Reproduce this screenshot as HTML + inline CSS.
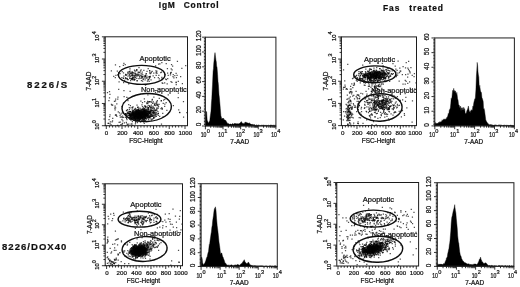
<!DOCTYPE html>
<html lang="en"><head><meta charset="utf-8"><title>7-AAD apoptosis flow cytometry: IgM control vs Fas treated</title>
<style>html,body{margin:0;padding:0;background:#fff}body{width:520px;height:287px;overflow:hidden}svg{display:block}text{font-family:'Liberation Sans', Arial, Helvetica, sans-serif;fill:#111;stroke:#111;stroke-width:0.22px}</style></head><body>
<svg width="520" height="287" viewBox="0 0 520 287">
<defs><filter id="soft" x="0" y="0" width="520" height="287" filterUnits="userSpaceOnUse"><feGaussianBlur stdDeviation="0.38"/></filter></defs>
<rect width="520" height="287" fill="#fff"/>
<g filter="url(#soft)">
<g font-weight="bold" fill="#000">
<text y="7.5" font-size="8.4" letter-spacing="0.87"><tspan x="158.7">IgM</tspan> <tspan x="183.7">Control</tspan></text>
<text y="10.8" font-size="8.4" letter-spacing="0.97"><tspan x="383">Fas</tspan> <tspan x="409.2">treated</tspan></text>
<text x="27" y="87.5" font-size="9.6" letter-spacing="1.95">8226/S</text>
<text x="2" y="250" font-size="9.5" letter-spacing="1.05">8226/DOX40</text>
</g>
<path d="M132.11 115.63h1.25v1.25h-1.25zM143.1 115.1h1.25v1.25h-1.25zM139.57 114.52h1.25v1.25h-1.25zM130.9 114.34h1.25v1.25h-1.25zM137.48 115.97h1.25v1.25h-1.25zM142.9 113.93h1.25v1.25h-1.25zM143.45 115.06h1.25v1.25h-1.25zM133.16 113.61h1.25v1.25h-1.25zM149.03 112.68h1.25v1.25h-1.25zM140.14 116.01h1.25v1.25h-1.25zM134.81 116.48h1.25v1.25h-1.25zM139.12 115.82h1.25v1.25h-1.25zM153.26 114.75h1.25v1.25h-1.25zM142.77 114.69h1.25v1.25h-1.25zM137.13 114.63h1.25v1.25h-1.25zM136.06 111.31h1.25v1.25h-1.25zM129.88 115.29h1.25v1.25h-1.25zM142.02 108.63h1.25v1.25h-1.25zM134.93 112.75h1.25v1.25h-1.25zM138.07 110.97h1.25v1.25h-1.25zM136.68 111.58h1.25v1.25h-1.25zM145.79 111.67h1.25v1.25h-1.25zM142.97 112.24h1.25v1.25h-1.25zM138.52 115.74h1.25v1.25h-1.25zM145.18 113.46h1.25v1.25h-1.25zM142.06 114.15h1.25v1.25h-1.25zM133.13 111.95h1.25v1.25h-1.25zM138.1 112.73h1.25v1.25h-1.25zM140.98 113.47h1.25v1.25h-1.25zM146.16 110.62h1.25v1.25h-1.25zM142.15 119.21h1.25v1.25h-1.25zM144.41 115.16h1.25v1.25h-1.25zM134.17 118.34h1.25v1.25h-1.25zM141.27 113.71h1.25v1.25h-1.25zM137.05 116.61h1.25v1.25h-1.25zM132.4 114h1.25v1.25h-1.25zM138.18 113.39h1.25v1.25h-1.25zM143.56 108.95h1.25v1.25h-1.25zM140.52 115.78h1.25v1.25h-1.25zM139.1 115.86h1.25v1.25h-1.25zM134.33 112.17h1.25v1.25h-1.25zM134.25 119.74h1.25v1.25h-1.25zM141.78 111.72h1.25v1.25h-1.25zM141.74 113.76h1.25v1.25h-1.25zM132.45 113.7h1.25v1.25h-1.25zM152.11 115.62h1.25v1.25h-1.25zM135.36 109.85h1.25v1.25h-1.25zM146.82 110.85h1.25v1.25h-1.25zM138.73 119.73h1.25v1.25h-1.25zM139.38 111.63h1.25v1.25h-1.25zM140.95 120.06h1.25v1.25h-1.25zM135.81 110.38h1.25v1.25h-1.25zM137.22 115.13h1.25v1.25h-1.25zM139.76 113.22h1.25v1.25h-1.25zM137.45 113.75h1.25v1.25h-1.25zM137.38 118.2h1.25v1.25h-1.25zM138.93 113.4h1.25v1.25h-1.25zM125.7 114.27h1.25v1.25h-1.25zM139.59 114.94h1.25v1.25h-1.25zM140.01 111.09h1.25v1.25h-1.25zM136.24 115.94h1.25v1.25h-1.25zM148.9 110.91h1.25v1.25h-1.25zM146.45 115.62h1.25v1.25h-1.25zM141.6 114.59h1.25v1.25h-1.25zM128.83 108.71h1.25v1.25h-1.25zM141.12 114.55h1.25v1.25h-1.25zM143.29 114.95h1.25v1.25h-1.25zM136.91 111.2h1.25v1.25h-1.25zM149.92 111.31h1.25v1.25h-1.25zM140.86 111.08h1.25v1.25h-1.25zM131.86 113.81h1.25v1.25h-1.25zM137.64 108.95h1.25v1.25h-1.25zM129.38 114.3h1.25v1.25h-1.25zM143.94 112.54h1.25v1.25h-1.25zM130.11 114.23h1.25v1.25h-1.25zM140.87 116.6h1.25v1.25h-1.25zM144.9 114.85h1.25v1.25h-1.25zM135.58 113.44h1.25v1.25h-1.25zM138.58 119.46h1.25v1.25h-1.25zM140.62 111.74h1.25v1.25h-1.25zM132.2 117.91h1.25v1.25h-1.25zM126.88 109.05h1.25v1.25h-1.25zM142.99 114.91h1.25v1.25h-1.25zM140.27 111.59h1.25v1.25h-1.25zM137.29 116.32h1.25v1.25h-1.25zM124.69 116.76h1.25v1.25h-1.25zM156.58 113.48h1.25v1.25h-1.25zM132.59 116.98h1.25v1.25h-1.25zM140.09 113.15h1.25v1.25h-1.25zM142.51 114.92h1.25v1.25h-1.25zM139.79 109.52h1.25v1.25h-1.25zM134.63 111.6h1.25v1.25h-1.25zM142.34 110.9h1.25v1.25h-1.25zM145.81 113.47h1.25v1.25h-1.25zM131.08 112.96h1.25v1.25h-1.25zM131.92 113.83h1.25v1.25h-1.25zM136.45 119.57h1.25v1.25h-1.25zM152.39 112.78h1.25v1.25h-1.25zM141.18 116.72h1.25v1.25h-1.25zM137.97 113.73h1.25v1.25h-1.25zM139.19 110.01h1.25v1.25h-1.25zM132.12 114.18h1.25v1.25h-1.25zM138.91 112.07h1.25v1.25h-1.25zM134.83 114.19h1.25v1.25h-1.25zM130.09 116.97h1.25v1.25h-1.25zM139.18 114.16h1.25v1.25h-1.25zM137.48 113.91h1.25v1.25h-1.25zM135.76 119.87h1.25v1.25h-1.25zM141.62 117.4h1.25v1.25h-1.25zM138.21 112.94h1.25v1.25h-1.25zM140.87 115.74h1.25v1.25h-1.25zM146.44 112.03h1.25v1.25h-1.25zM135.15 113.27h1.25v1.25h-1.25zM144.06 118.77h1.25v1.25h-1.25zM131.23 113.5h1.25v1.25h-1.25zM142.32 113.5h1.25v1.25h-1.25zM139.78 117.04h1.25v1.25h-1.25zM140.48 115.4h1.25v1.25h-1.25zM132.45 113.34h1.25v1.25h-1.25zM138.53 117.56h1.25v1.25h-1.25zM144.49 114.78h1.25v1.25h-1.25zM130.05 115.97h1.25v1.25h-1.25zM157.64 114.68h1.25v1.25h-1.25zM135.73 116.14h1.25v1.25h-1.25zM143.83 111.34h1.25v1.25h-1.25zM142.11 116.88h1.25v1.25h-1.25zM141.41 112.74h1.25v1.25h-1.25zM129.16 118.43h1.25v1.25h-1.25zM139.94 113.85h1.25v1.25h-1.25zM135.78 115.57h1.25v1.25h-1.25zM137.68 112.42h1.25v1.25h-1.25zM141.62 112.68h1.25v1.25h-1.25zM143.71 113.55h1.25v1.25h-1.25zM137.28 113.52h1.25v1.25h-1.25zM133.83 116.2h1.25v1.25h-1.25zM136.62 111.33h1.25v1.25h-1.25zM133.41 113.14h1.25v1.25h-1.25zM141.69 116.61h1.25v1.25h-1.25zM134.1 115.92h1.25v1.25h-1.25zM137.22 116.54h1.25v1.25h-1.25zM135.77 115.57h1.25v1.25h-1.25zM132.53 118.94h1.25v1.25h-1.25zM131.7 114.9h1.25v1.25h-1.25zM136.05 114.29h1.25v1.25h-1.25zM145.25 118.05h1.25v1.25h-1.25zM137.77 112.11h1.25v1.25h-1.25zM143.71 109.94h1.25v1.25h-1.25zM141.98 113.74h1.25v1.25h-1.25zM140.27 114.61h1.25v1.25h-1.25zM135.68 115.97h1.25v1.25h-1.25zM136.33 111.43h1.25v1.25h-1.25zM138.53 114.67h1.25v1.25h-1.25zM140.99 114.35h1.25v1.25h-1.25zM133.16 114.86h1.25v1.25h-1.25zM150.63 107.33h1.25v1.25h-1.25zM133.21 117.85h1.25v1.25h-1.25zM141.16 110.11h1.25v1.25h-1.25zM137.67 112.46h1.25v1.25h-1.25zM133.84 117.25h1.25v1.25h-1.25zM138.48 111.09h1.25v1.25h-1.25zM134.97 115.74h1.25v1.25h-1.25zM125.99 117.84h1.25v1.25h-1.25zM141.32 116.19h1.25v1.25h-1.25zM143.77 111.1h1.25v1.25h-1.25zM136.01 115.61h1.25v1.25h-1.25zM141.93 113.4h1.25v1.25h-1.25zM151.46 118.77h1.25v1.25h-1.25zM141.08 114.02h1.25v1.25h-1.25zM137.73 117.83h1.25v1.25h-1.25zM127.12 113.37h1.25v1.25h-1.25zM141.74 115.08h1.25v1.25h-1.25zM145.35 110.93h1.25v1.25h-1.25zM131.85 112.37h1.25v1.25h-1.25zM136.74 115.65h1.25v1.25h-1.25zM129.77 116.96h1.25v1.25h-1.25zM136.84 119.32h1.25v1.25h-1.25zM137.06 114.63h1.25v1.25h-1.25zM136.48 115.08h1.25v1.25h-1.25zM149.04 116.62h1.25v1.25h-1.25zM147 114.16h1.25v1.25h-1.25zM144.69 113.69h1.25v1.25h-1.25zM142.95 121.36h1.25v1.25h-1.25zM132.1 111.8h1.25v1.25h-1.25zM150.24 111.59h1.25v1.25h-1.25zM144.38 116.11h1.25v1.25h-1.25zM140.45 116.79h1.25v1.25h-1.25zM132.62 116.56h1.25v1.25h-1.25zM143.06 116.48h1.25v1.25h-1.25zM142.96 114.84h1.25v1.25h-1.25zM126.69 115.03h1.25v1.25h-1.25zM133.44 115.75h1.25v1.25h-1.25zM135.68 116h1.25v1.25h-1.25zM126.7 111.53h1.25v1.25h-1.25zM129.5 114.44h1.25v1.25h-1.25zM137.34 118h1.25v1.25h-1.25zM148.15 115.05h1.25v1.25h-1.25zM141.15 112.53h1.25v1.25h-1.25zM141.6 109.12h1.25v1.25h-1.25zM135.81 109.51h1.25v1.25h-1.25zM125.18 113.39h1.25v1.25h-1.25zM128.41 114.73h1.25v1.25h-1.25zM146.66 114.84h1.25v1.25h-1.25zM149.83 111.11h1.25v1.25h-1.25zM132.39 117.97h1.25v1.25h-1.25zM141.85 110.93h1.25v1.25h-1.25zM156.18 108.73h1.25v1.25h-1.25zM142.44 107.75h1.25v1.25h-1.25zM140.6 109.98h1.25v1.25h-1.25zM141.37 115.64h1.25v1.25h-1.25zM140.27 108.37h1.25v1.25h-1.25zM143.56 116.35h1.25v1.25h-1.25zM159.05 115.72h1.25v1.25h-1.25zM144.07 111.38h1.25v1.25h-1.25zM138.43 112.91h1.25v1.25h-1.25zM138.42 113.23h1.25v1.25h-1.25zM164.06 105.78h1.25v1.25h-1.25zM132.22 110.71h1.25v1.25h-1.25zM144.26 112.42h1.25v1.25h-1.25zM147.33 102.33h1.25v1.25h-1.25zM133.98 113.19h1.25v1.25h-1.25zM143.24 109.23h1.25v1.25h-1.25zM139.89 115.98h1.25v1.25h-1.25zM119.6 121.39h1.25v1.25h-1.25zM134.47 119.12h1.25v1.25h-1.25zM139.74 113.83h1.25v1.25h-1.25zM151.49 115.74h1.25v1.25h-1.25zM139.05 114.34h1.25v1.25h-1.25zM150.24 114.54h1.25v1.25h-1.25zM137.29 118.99h1.25v1.25h-1.25zM130.44 115.46h1.25v1.25h-1.25zM147.13 112.57h1.25v1.25h-1.25zM136.55 113.87h1.25v1.25h-1.25zM139 116.14h1.25v1.25h-1.25zM157.67 107.61h1.25v1.25h-1.25zM137.34 112.19h1.25v1.25h-1.25zM133.29 113.51h1.25v1.25h-1.25zM129.4 114.96h1.25v1.25h-1.25zM142.52 120.37h1.25v1.25h-1.25zM133.83 113.68h1.25v1.25h-1.25zM137.24 106.84h1.25v1.25h-1.25zM134.02 119.09h1.25v1.25h-1.25zM147 109.63h1.25v1.25h-1.25zM158.65 97.64h1.25v1.25h-1.25zM156.04 103.22h1.25v1.25h-1.25zM156.96 107.51h1.25v1.25h-1.25zM162.98 99.6h1.25v1.25h-1.25zM151.14 101.49h1.25v1.25h-1.25zM160.76 100.02h1.25v1.25h-1.25zM151.52 99.53h1.25v1.25h-1.25zM151.92 102.79h1.25v1.25h-1.25zM149 100.95h1.25v1.25h-1.25zM148.61 101.26h1.25v1.25h-1.25zM162.61 102.8h1.25v1.25h-1.25zM164.16 98.71h1.25v1.25h-1.25zM145.01 105.67h1.25v1.25h-1.25zM146.6 106.37h1.25v1.25h-1.25zM124.04 79.72h1.25v1.25h-1.25zM127.15 71.76h1.25v1.25h-1.25zM137.68 74.61h1.25v1.25h-1.25zM138.86 75.56h1.25v1.25h-1.25zM132.3 79.17h1.25v1.25h-1.25zM131.23 78.46h1.25v1.25h-1.25zM129.38 75.79h1.25v1.25h-1.25zM136.22 75.51h1.25v1.25h-1.25zM126.6 78.19h1.25v1.25h-1.25zM134.07 70.19h1.25v1.25h-1.25zM130.23 72.53h1.25v1.25h-1.25zM135.87 74.3h1.25v1.25h-1.25zM138.91 72.05h1.25v1.25h-1.25zM133.55 79.1h1.25v1.25h-1.25zM123 82.07h1.25v1.25h-1.25zM127.47 71.44h1.25v1.25h-1.25zM141.86 76.15h1.25v1.25h-1.25zM155.98 71.57h1.25v1.25h-1.25zM128.65 74.7h1.25v1.25h-1.25zM140.41 77.79h1.25v1.25h-1.25zM166.79 67.92h1.25v1.25h-1.25zM150.58 72.19h1.25v1.25h-1.25zM117.93 72.24h1.25v1.25h-1.25zM144.48 79.33h1.25v1.25h-1.25zM158.72 78.19h1.25v1.25h-1.25zM142.2 74.27h1.25v1.25h-1.25zM138.31 78.01h1.25v1.25h-1.25zM145.74 73.04h1.25v1.25h-1.25zM148.47 76.43h1.25v1.25h-1.25zM139.39 71.39h1.25v1.25h-1.25zM139 77.29h1.25v1.25h-1.25zM148.54 80.87h1.25v1.25h-1.25zM143.22 69.75h1.25v1.25h-1.25zM144.91 76.08h1.25v1.25h-1.25zM146.81 80.4h1.25v1.25h-1.25zM138.91 75.66h1.25v1.25h-1.25zM176.45 74.82h1.25v1.25h-1.25zM172.02 65.49h1.25v1.25h-1.25zM164.05 82.24h1.25v1.25h-1.25zM172.62 73.89h1.25v1.25h-1.25zM169.98 72.35h1.25v1.25h-1.25zM167.62 94.27h1.25v1.25h-1.25zM165.08 78.5h1.25v1.25h-1.25zM175.63 83.95h1.25v1.25h-1.25zM175.82 76.98h1.25v1.25h-1.25zM157.97 63.61h1.25v1.25h-1.25zM133.9 69.58h1.25v1.25h-1.25zM129.25 110.79h1.25v1.25h-1.25zM110.76 70.29h1.25v1.25h-1.25zM137.96 120h1.25v1.25h-1.25zM118.08 88.67h1.25v1.25h-1.25zM177.75 92.43h1.25v1.25h-1.25zM155.01 65.21h1.25v1.25h-1.25zM178.95 111.81h1.25v1.25h-1.25zM111.95 120.19h1.25v1.25h-1.25zM117.33 96.42h1.25v1.25h-1.25zM114.08 107.61h1.25v1.25h-1.25zM121.47 105.94h1.25v1.25h-1.25zM124.48 113.25h1.25v1.25h-1.25zM114.46 105.56h1.25v1.25h-1.25zM108.42 118.95h1.25v1.25h-1.25zM112.11 117.77h1.25v1.25h-1.25zM123.5 95.91h1.25v1.25h-1.25zM107.42 122.81h1.25v1.25h-1.25zM131.31 123.3h1.25v1.25h-1.25zM134.77 123.31h1.25v1.25h-1.25zM121.84 122.65h1.25v1.25h-1.25z" fill="#000" fill-opacity="0.7"/>
<path d="M144.57 112.52h1.25v1.25h-1.25zM147.89 116.04h1.25v1.25h-1.25zM137.03 114.18h1.25v1.25h-1.25zM130.62 114.79h1.25v1.25h-1.25zM138.54 115.16h1.25v1.25h-1.25zM144.31 112.32h1.25v1.25h-1.25zM148.27 112.61h1.25v1.25h-1.25zM142.62 117.73h1.25v1.25h-1.25zM135.4 119.36h1.25v1.25h-1.25zM139.57 111.94h1.25v1.25h-1.25zM145.27 113.03h1.25v1.25h-1.25zM137.69 108.35h1.25v1.25h-1.25zM139.92 118.04h1.25v1.25h-1.25zM128.52 113.15h1.25v1.25h-1.25zM141.59 116.17h1.25v1.25h-1.25zM140 114.65h1.25v1.25h-1.25zM130.46 123.52h1.25v1.25h-1.25zM134.05 117.6h1.25v1.25h-1.25zM132.12 112.98h1.25v1.25h-1.25zM129.02 116.64h1.25v1.25h-1.25zM129.12 111.18h1.25v1.25h-1.25zM127.93 116.86h1.25v1.25h-1.25zM134.62 113.42h1.25v1.25h-1.25zM134.7 115.11h1.25v1.25h-1.25zM140.3 114.4h1.25v1.25h-1.25zM137.79 114.44h1.25v1.25h-1.25zM143.65 107.96h1.25v1.25h-1.25zM138.43 116.53h1.25v1.25h-1.25zM147.18 111.98h1.25v1.25h-1.25zM144.9 112.83h1.25v1.25h-1.25zM154.47 112.27h1.25v1.25h-1.25zM129.67 113.52h1.25v1.25h-1.25zM141.13 115.15h1.25v1.25h-1.25zM140.45 117.11h1.25v1.25h-1.25zM145.57 109.29h1.25v1.25h-1.25zM137.91 113.91h1.25v1.25h-1.25zM133.25 113.98h1.25v1.25h-1.25zM134.11 114.86h1.25v1.25h-1.25zM136.93 112.31h1.25v1.25h-1.25zM132.98 114.11h1.25v1.25h-1.25zM143.45 111.12h1.25v1.25h-1.25zM143.66 122.67h1.25v1.25h-1.25zM139.65 112.89h1.25v1.25h-1.25zM129.42 114.72h1.25v1.25h-1.25zM136.05 113.82h1.25v1.25h-1.25zM129.67 115.86h1.25v1.25h-1.25zM141.79 116.51h1.25v1.25h-1.25zM135.5 109.67h1.25v1.25h-1.25zM138.35 109.9h1.25v1.25h-1.25zM138.56 113.29h1.25v1.25h-1.25zM136.27 112.42h1.25v1.25h-1.25zM140.21 114.05h1.25v1.25h-1.25zM139.31 119.62h1.25v1.25h-1.25zM130.98 112.33h1.25v1.25h-1.25zM144.53 112.93h1.25v1.25h-1.25zM138.76 114.62h1.25v1.25h-1.25zM152.61 112.82h1.25v1.25h-1.25zM137.72 111.51h1.25v1.25h-1.25zM136.1 114.18h1.25v1.25h-1.25zM153.04 113.13h1.25v1.25h-1.25zM135.88 111.45h1.25v1.25h-1.25zM140.97 114.28h1.25v1.25h-1.25zM131.3 113.63h1.25v1.25h-1.25zM141.66 110.75h1.25v1.25h-1.25zM135.92 117.23h1.25v1.25h-1.25zM132.9 113.49h1.25v1.25h-1.25zM137.37 110.51h1.25v1.25h-1.25zM150.56 110.48h1.25v1.25h-1.25zM139.22 116.56h1.25v1.25h-1.25zM142.59 111.19h1.25v1.25h-1.25zM147.02 112.88h1.25v1.25h-1.25zM146.07 115.51h1.25v1.25h-1.25zM135.03 115.88h1.25v1.25h-1.25zM142.66 110.65h1.25v1.25h-1.25zM140.75 111.6h1.25v1.25h-1.25zM135.52 120.84h1.25v1.25h-1.25zM128.05 112.2h1.25v1.25h-1.25zM140.96 115.93h1.25v1.25h-1.25zM143.38 112.72h1.25v1.25h-1.25zM132.22 114.15h1.25v1.25h-1.25zM136.99 111.01h1.25v1.25h-1.25zM138.49 117.32h1.25v1.25h-1.25zM138.39 113.13h1.25v1.25h-1.25zM141.11 113.51h1.25v1.25h-1.25zM143.38 114.88h1.25v1.25h-1.25zM142.76 110.74h1.25v1.25h-1.25zM140.07 112.5h1.25v1.25h-1.25zM138.96 115.88h1.25v1.25h-1.25zM140.66 114.95h1.25v1.25h-1.25zM140.69 115.16h1.25v1.25h-1.25zM135.26 115.94h1.25v1.25h-1.25zM144.08 114.11h1.25v1.25h-1.25zM144.53 117.4h1.25v1.25h-1.25zM136.35 109.74h1.25v1.25h-1.25zM133.11 119.68h1.25v1.25h-1.25zM134.81 113.77h1.25v1.25h-1.25zM139.65 117.42h1.25v1.25h-1.25zM136.22 112.59h1.25v1.25h-1.25zM142.64 115.88h1.25v1.25h-1.25zM137.4 113.08h1.25v1.25h-1.25zM120.74 116.2h1.25v1.25h-1.25zM127.94 117.22h1.25v1.25h-1.25zM137.16 113.8h1.25v1.25h-1.25zM137.19 116.69h1.25v1.25h-1.25zM140.95 118.15h1.25v1.25h-1.25zM139.33 116.29h1.25v1.25h-1.25zM151 114.4h1.25v1.25h-1.25zM141.92 113h1.25v1.25h-1.25zM143.54 118.7h1.25v1.25h-1.25zM134.15 108.97h1.25v1.25h-1.25zM133.6 110.77h1.25v1.25h-1.25zM137.88 117.81h1.25v1.25h-1.25zM139.26 118.7h1.25v1.25h-1.25zM140.48 114.05h1.25v1.25h-1.25zM133.9 117.39h1.25v1.25h-1.25zM139.53 112.68h1.25v1.25h-1.25zM140.57 117.34h1.25v1.25h-1.25zM145.64 114.06h1.25v1.25h-1.25zM139.96 112.35h1.25v1.25h-1.25zM148.12 116.01h1.25v1.25h-1.25zM136.48 115.69h1.25v1.25h-1.25zM143.12 114.37h1.25v1.25h-1.25zM139.49 110.1h1.25v1.25h-1.25zM146.73 113.25h1.25v1.25h-1.25zM143.66 112.05h1.25v1.25h-1.25zM141.08 115.5h1.25v1.25h-1.25zM137.41 114.97h1.25v1.25h-1.25zM137.89 112.34h1.25v1.25h-1.25zM136.7 116.58h1.25v1.25h-1.25zM142.17 114.34h1.25v1.25h-1.25zM137.45 110.64h1.25v1.25h-1.25zM137.79 116.51h1.25v1.25h-1.25zM132.55 109.72h1.25v1.25h-1.25zM133.98 115.65h1.25v1.25h-1.25zM143.43 117.1h1.25v1.25h-1.25zM138.59 113.71h1.25v1.25h-1.25zM137.13 116.03h1.25v1.25h-1.25zM128.12 110.83h1.25v1.25h-1.25zM137.57 118.95h1.25v1.25h-1.25zM142.19 113.77h1.25v1.25h-1.25zM130.78 114.92h1.25v1.25h-1.25zM135.76 118.09h1.25v1.25h-1.25zM135.92 115.92h1.25v1.25h-1.25zM141 114.43h1.25v1.25h-1.25zM140.25 113.51h1.25v1.25h-1.25zM134.43 118.18h1.25v1.25h-1.25zM143.03 115.64h1.25v1.25h-1.25zM136.57 111.96h1.25v1.25h-1.25zM137.21 118.28h1.25v1.25h-1.25zM142.07 109.44h1.25v1.25h-1.25zM139.9 112.79h1.25v1.25h-1.25zM136.06 113.84h1.25v1.25h-1.25zM142.73 112.59h1.25v1.25h-1.25zM140.84 111.71h1.25v1.25h-1.25zM129.02 116.56h1.25v1.25h-1.25zM136.68 117.16h1.25v1.25h-1.25zM130.92 117.44h1.25v1.25h-1.25zM140.02 113.83h1.25v1.25h-1.25zM136.31 116h1.25v1.25h-1.25zM137.39 112.89h1.25v1.25h-1.25zM125.25 113.73h1.25v1.25h-1.25zM140.28 116.63h1.25v1.25h-1.25zM142.21 113.88h1.25v1.25h-1.25zM131.63 114.62h1.25v1.25h-1.25zM132.88 112.7h1.25v1.25h-1.25zM121.57 116.96h1.25v1.25h-1.25zM134.86 114.59h1.25v1.25h-1.25zM144.94 110.91h1.25v1.25h-1.25zM145.58 115.16h1.25v1.25h-1.25zM139.85 112.76h1.25v1.25h-1.25zM130.76 117.92h1.25v1.25h-1.25zM142 117.51h1.25v1.25h-1.25zM140.34 115.3h1.25v1.25h-1.25zM147.71 113.47h1.25v1.25h-1.25zM133.82 116.06h1.25v1.25h-1.25zM136.8 119.15h1.25v1.25h-1.25zM135.03 115.47h1.25v1.25h-1.25zM142.35 112.8h1.25v1.25h-1.25zM143.68 115.13h1.25v1.25h-1.25zM133.74 115.02h1.25v1.25h-1.25zM142.69 110.75h1.25v1.25h-1.25zM140.54 116.42h1.25v1.25h-1.25zM139.1 118.77h1.25v1.25h-1.25zM144.25 114.19h1.25v1.25h-1.25zM140.73 114.86h1.25v1.25h-1.25zM133.04 113.62h1.25v1.25h-1.25zM148.27 108.68h1.25v1.25h-1.25zM141.72 114.23h1.25v1.25h-1.25zM148.98 117.13h1.25v1.25h-1.25zM135.31 115.76h1.25v1.25h-1.25zM149.39 114.93h1.25v1.25h-1.25zM134.92 114.67h1.25v1.25h-1.25zM134.08 117.07h1.25v1.25h-1.25zM141.4 114.39h1.25v1.25h-1.25zM153.32 116.89h1.25v1.25h-1.25zM146.67 114.7h1.25v1.25h-1.25zM140.72 109.01h1.25v1.25h-1.25zM133.13 115.1h1.25v1.25h-1.25zM145.55 113.29h1.25v1.25h-1.25zM155.66 115.85h1.25v1.25h-1.25zM130.76 118.26h1.25v1.25h-1.25zM132.6 111.53h1.25v1.25h-1.25zM139.55 110.44h1.25v1.25h-1.25zM131.01 116.21h1.25v1.25h-1.25zM136.9 119.93h1.25v1.25h-1.25zM143.17 110.89h1.25v1.25h-1.25zM157.65 105.52h1.25v1.25h-1.25zM142.11 113.32h1.25v1.25h-1.25zM140.75 117.05h1.25v1.25h-1.25zM130.33 107.35h1.25v1.25h-1.25zM132.7 118.18h1.25v1.25h-1.25zM139.94 111.72h1.25v1.25h-1.25zM140.16 111.68h1.25v1.25h-1.25zM136.33 113h1.25v1.25h-1.25zM130.71 114.57h1.25v1.25h-1.25zM160.95 107.37h1.25v1.25h-1.25zM145.37 111.5h1.25v1.25h-1.25zM147.87 106.91h1.25v1.25h-1.25zM146.12 108.8h1.25v1.25h-1.25zM137.05 109.73h1.25v1.25h-1.25zM143.69 117.65h1.25v1.25h-1.25zM139.29 107.6h1.25v1.25h-1.25zM136.59 115.84h1.25v1.25h-1.25zM136.96 115.36h1.25v1.25h-1.25zM146.12 110.99h1.25v1.25h-1.25zM147.38 111.05h1.25v1.25h-1.25zM140.14 121.37h1.25v1.25h-1.25zM130.66 113.01h1.25v1.25h-1.25zM151.1 109.35h1.25v1.25h-1.25zM147.19 108.52h1.25v1.25h-1.25zM149.49 116.8h1.25v1.25h-1.25zM149.6 111.83h1.25v1.25h-1.25zM150.32 108.23h1.25v1.25h-1.25zM145.71 110.62h1.25v1.25h-1.25zM148.76 110.69h1.25v1.25h-1.25zM152.45 111.18h1.25v1.25h-1.25zM149.02 111.06h1.25v1.25h-1.25zM132.6 113.83h1.25v1.25h-1.25zM144.38 114.66h1.25v1.25h-1.25zM143.46 110.25h1.25v1.25h-1.25zM126.23 109.7h1.25v1.25h-1.25zM148.09 116.89h1.25v1.25h-1.25zM153.23 96.48h1.25v1.25h-1.25zM152.75 101.29h1.25v1.25h-1.25zM143.72 98.25h1.25v1.25h-1.25zM149.9 107.1h1.25v1.25h-1.25zM155.93 107.48h1.25v1.25h-1.25zM146.54 107.36h1.25v1.25h-1.25zM140.26 100.52h1.25v1.25h-1.25zM157.95 106.12h1.25v1.25h-1.25zM149.25 105.44h1.25v1.25h-1.25zM157.63 105.24h1.25v1.25h-1.25zM153.79 104.4h1.25v1.25h-1.25zM143.13 106.78h1.25v1.25h-1.25zM141.76 111.24h1.25v1.25h-1.25zM146.39 102.89h1.25v1.25h-1.25zM141.45 73.24h1.25v1.25h-1.25zM124.82 77.05h1.25v1.25h-1.25zM132.25 72.61h1.25v1.25h-1.25zM136.1 69.61h1.25v1.25h-1.25zM125.52 74.04h1.25v1.25h-1.25zM125.64 74.77h1.25v1.25h-1.25zM127.04 73.31h1.25v1.25h-1.25zM128.66 71.07h1.25v1.25h-1.25zM134.98 76.49h1.25v1.25h-1.25zM131.71 78.07h1.25v1.25h-1.25zM134.66 73.2h1.25v1.25h-1.25zM133.63 78.51h1.25v1.25h-1.25zM134.63 76.89h1.25v1.25h-1.25zM140.19 75.35h1.25v1.25h-1.25zM122.89 72.3h1.25v1.25h-1.25zM129.54 77.85h1.25v1.25h-1.25zM136.54 79.98h1.25v1.25h-1.25zM130.42 71.82h1.25v1.25h-1.25zM147.58 68.12h1.25v1.25h-1.25zM156.19 70.47h1.25v1.25h-1.25zM160.12 72.09h1.25v1.25h-1.25zM146.35 75.41h1.25v1.25h-1.25zM124.86 77.91h1.25v1.25h-1.25zM132.4 74.62h1.25v1.25h-1.25zM128.08 83.33h1.25v1.25h-1.25zM161.22 76.87h1.25v1.25h-1.25zM145.3 73.47h1.25v1.25h-1.25zM140.46 73.25h1.25v1.25h-1.25zM142.73 78.47h1.25v1.25h-1.25zM153.94 77.02h1.25v1.25h-1.25zM121.6 71.11h1.25v1.25h-1.25zM161.4 78.89h1.25v1.25h-1.25zM161.48 77.64h1.25v1.25h-1.25zM150.49 71.48h1.25v1.25h-1.25zM145.29 77.4h1.25v1.25h-1.25zM136.59 73.94h1.25v1.25h-1.25zM161.5 82.3h1.25v1.25h-1.25zM165.61 63.03h1.25v1.25h-1.25zM155.27 70.13h1.25v1.25h-1.25zM166.97 72.48h1.25v1.25h-1.25zM175.49 72.76h1.25v1.25h-1.25zM169.86 74.32h1.25v1.25h-1.25zM165.77 79.12h1.25v1.25h-1.25zM173.27 77.37h1.25v1.25h-1.25zM108.9 90.94h1.25v1.25h-1.25zM124.58 63.88h1.25v1.25h-1.25zM160.37 107.9h1.25v1.25h-1.25zM157.26 91.51h1.25v1.25h-1.25zM155.16 104.97h1.25v1.25h-1.25zM145.2 87.07h1.25v1.25h-1.25zM154.77 110.11h1.25v1.25h-1.25zM116.71 70.57h1.25v1.25h-1.25zM181.78 83.12h1.25v1.25h-1.25zM122.73 64.85h1.25v1.25h-1.25zM182.85 100.94h1.25v1.25h-1.25zM182.95 116.49h1.25v1.25h-1.25zM122.72 116.83h1.25v1.25h-1.25zM114.85 100.28h1.25v1.25h-1.25zM127.04 124.09h1.25v1.25h-1.25zM126.32 118.99h1.25v1.25h-1.25zM128.11 104.08h1.25v1.25h-1.25zM111.42 121.33h1.25v1.25h-1.25zM121.33 119.08h1.25v1.25h-1.25zM123.76 122.28h1.25v1.25h-1.25zM110.53 124.23h1.25v1.25h-1.25zM132.12 124.83h1.25v1.25h-1.25zM121.43 123.85h1.25v1.25h-1.25z" fill="#000" fill-opacity="0.7"/>
<path d="M131.43 114.56h1.25v1.25h-1.25zM138.37 113.56h1.25v1.25h-1.25zM140.67 115.82h1.25v1.25h-1.25zM134.61 115.04h1.25v1.25h-1.25zM139.41 111.65h1.25v1.25h-1.25zM144.66 113.49h1.25v1.25h-1.25zM142.24 115.25h1.25v1.25h-1.25zM144.74 116.44h1.25v1.25h-1.25zM140.56 116.52h1.25v1.25h-1.25zM138.43 115.18h1.25v1.25h-1.25zM128.66 112.65h1.25v1.25h-1.25zM143.99 119.65h1.25v1.25h-1.25zM138.86 118.87h1.25v1.25h-1.25zM135.43 113.11h1.25v1.25h-1.25zM136.24 113.81h1.25v1.25h-1.25zM151.45 113.95h1.25v1.25h-1.25zM145.46 115.18h1.25v1.25h-1.25zM148.14 110.6h1.25v1.25h-1.25zM146.23 115.42h1.25v1.25h-1.25zM147.33 115.71h1.25v1.25h-1.25zM138.99 114.58h1.25v1.25h-1.25zM135.31 117.74h1.25v1.25h-1.25zM143.52 116.1h1.25v1.25h-1.25zM140.49 116.62h1.25v1.25h-1.25zM140.12 113.6h1.25v1.25h-1.25zM140.9 112.45h1.25v1.25h-1.25zM137.38 112.78h1.25v1.25h-1.25zM136.56 111.5h1.25v1.25h-1.25zM143.42 115.9h1.25v1.25h-1.25zM136.67 112.98h1.25v1.25h-1.25zM129.14 113.87h1.25v1.25h-1.25zM137.64 114.34h1.25v1.25h-1.25zM129.9 114.42h1.25v1.25h-1.25zM136.98 118.26h1.25v1.25h-1.25zM142.21 118.7h1.25v1.25h-1.25zM145.68 113.16h1.25v1.25h-1.25zM151.31 111.82h1.25v1.25h-1.25zM142.06 117.23h1.25v1.25h-1.25zM134.33 117.28h1.25v1.25h-1.25zM134.95 116.3h1.25v1.25h-1.25zM141.47 112.6h1.25v1.25h-1.25zM141.26 113.17h1.25v1.25h-1.25zM132.07 116.87h1.25v1.25h-1.25zM130.35 114.74h1.25v1.25h-1.25zM140.64 115.64h1.25v1.25h-1.25zM136.21 116.88h1.25v1.25h-1.25zM138.43 111.69h1.25v1.25h-1.25zM134.89 112.63h1.25v1.25h-1.25zM141.13 111.7h1.25v1.25h-1.25zM135.68 116.8h1.25v1.25h-1.25zM134.84 111.75h1.25v1.25h-1.25zM131.84 111.98h1.25v1.25h-1.25zM132.5 113.73h1.25v1.25h-1.25zM151.71 114.93h1.25v1.25h-1.25zM131.39 114.17h1.25v1.25h-1.25zM139.1 114.93h1.25v1.25h-1.25zM150.23 115.84h1.25v1.25h-1.25zM149.34 112.86h1.25v1.25h-1.25zM131.19 116.05h1.25v1.25h-1.25zM138.46 112.4h1.25v1.25h-1.25zM132.11 112.75h1.25v1.25h-1.25zM138.4 116.86h1.25v1.25h-1.25zM134.61 116.55h1.25v1.25h-1.25zM139.34 112.45h1.25v1.25h-1.25zM138.29 108.61h1.25v1.25h-1.25zM136.97 112.4h1.25v1.25h-1.25zM138.45 115.6h1.25v1.25h-1.25zM144.13 112.45h1.25v1.25h-1.25zM135.54 116.22h1.25v1.25h-1.25zM143.53 117.67h1.25v1.25h-1.25zM139.63 113.3h1.25v1.25h-1.25zM145.05 117.04h1.25v1.25h-1.25zM147.27 112.88h1.25v1.25h-1.25zM144.98 110.17h1.25v1.25h-1.25zM136.24 115.07h1.25v1.25h-1.25zM143.6 114.66h1.25v1.25h-1.25zM141.68 114.29h1.25v1.25h-1.25zM143.74 117.6h1.25v1.25h-1.25zM125.23 113.32h1.25v1.25h-1.25zM136.87 121.88h1.25v1.25h-1.25zM140.91 115.29h1.25v1.25h-1.25zM144.94 117.27h1.25v1.25h-1.25zM132.68 114.99h1.25v1.25h-1.25zM140.69 112.56h1.25v1.25h-1.25zM130.24 115.62h1.25v1.25h-1.25zM144.53 114h1.25v1.25h-1.25zM135.39 113.07h1.25v1.25h-1.25zM138.25 112.03h1.25v1.25h-1.25zM134.84 110.96h1.25v1.25h-1.25zM137.2 114.86h1.25v1.25h-1.25zM138.16 114.49h1.25v1.25h-1.25zM134.7 117.54h1.25v1.25h-1.25zM144.75 111.99h1.25v1.25h-1.25zM143.86 119.57h1.25v1.25h-1.25zM135.07 116.61h1.25v1.25h-1.25zM153.61 108.97h1.25v1.25h-1.25zM140.67 112.68h1.25v1.25h-1.25zM134.33 110.92h1.25v1.25h-1.25zM135.77 113.77h1.25v1.25h-1.25zM146.39 112.83h1.25v1.25h-1.25zM144.59 109.62h1.25v1.25h-1.25zM138.23 115.01h1.25v1.25h-1.25zM143.53 115.81h1.25v1.25h-1.25zM139.26 115.12h1.25v1.25h-1.25zM127.62 112.79h1.25v1.25h-1.25zM138.13 115.06h1.25v1.25h-1.25zM136.82 117.1h1.25v1.25h-1.25zM141.65 112.02h1.25v1.25h-1.25zM141.59 114.39h1.25v1.25h-1.25zM136.85 114.69h1.25v1.25h-1.25zM133.36 117.25h1.25v1.25h-1.25zM152.98 117.06h1.25v1.25h-1.25zM143.05 114.99h1.25v1.25h-1.25zM129.87 115.84h1.25v1.25h-1.25zM140.21 111.16h1.25v1.25h-1.25zM135.68 113.28h1.25v1.25h-1.25zM137.48 114.31h1.25v1.25h-1.25zM133.45 115.67h1.25v1.25h-1.25zM142.1 115.7h1.25v1.25h-1.25zM141.18 115.74h1.25v1.25h-1.25zM140.63 113.95h1.25v1.25h-1.25zM141.36 113.15h1.25v1.25h-1.25zM139.68 116.05h1.25v1.25h-1.25zM144.64 114.43h1.25v1.25h-1.25zM130.65 117.79h1.25v1.25h-1.25zM140.61 116.83h1.25v1.25h-1.25zM136.9 112.13h1.25v1.25h-1.25zM136.97 115.45h1.25v1.25h-1.25zM149.37 116.06h1.25v1.25h-1.25zM137.78 113.93h1.25v1.25h-1.25zM141.41 115.39h1.25v1.25h-1.25zM139.4 114.88h1.25v1.25h-1.25zM141.09 117.8h1.25v1.25h-1.25zM144.26 114.74h1.25v1.25h-1.25zM139.24 115.29h1.25v1.25h-1.25zM134.9 115.99h1.25v1.25h-1.25zM144.22 114.18h1.25v1.25h-1.25zM134.33 117.02h1.25v1.25h-1.25zM142.94 112.24h1.25v1.25h-1.25zM140.57 115.78h1.25v1.25h-1.25zM131.33 113.69h1.25v1.25h-1.25zM135.84 110.83h1.25v1.25h-1.25zM138.74 111.12h1.25v1.25h-1.25zM146.28 116.04h1.25v1.25h-1.25zM139.04 117.18h1.25v1.25h-1.25zM144.6 109.88h1.25v1.25h-1.25zM136.89 112.76h1.25v1.25h-1.25zM135 112.63h1.25v1.25h-1.25zM141.87 113.95h1.25v1.25h-1.25zM137.98 116.71h1.25v1.25h-1.25zM140.3 115.17h1.25v1.25h-1.25zM135.69 113.01h1.25v1.25h-1.25zM142.23 114.73h1.25v1.25h-1.25zM145.8 114.85h1.25v1.25h-1.25zM138.34 112.71h1.25v1.25h-1.25zM142.91 114.04h1.25v1.25h-1.25zM143.29 110.12h1.25v1.25h-1.25zM135.33 113.62h1.25v1.25h-1.25zM143.06 112.68h1.25v1.25h-1.25zM141.55 114.88h1.25v1.25h-1.25zM142.64 118.9h1.25v1.25h-1.25zM137.92 112.77h1.25v1.25h-1.25zM135.2 112.64h1.25v1.25h-1.25zM147.39 116.75h1.25v1.25h-1.25zM137.55 114.24h1.25v1.25h-1.25zM138.48 112.07h1.25v1.25h-1.25zM143.21 110.85h1.25v1.25h-1.25zM139.27 118.73h1.25v1.25h-1.25zM140.33 111.27h1.25v1.25h-1.25zM137.32 115.18h1.25v1.25h-1.25zM129.66 111.23h1.25v1.25h-1.25zM138.11 114.45h1.25v1.25h-1.25zM136.61 111.73h1.25v1.25h-1.25zM138.37 111.88h1.25v1.25h-1.25zM125.44 114.9h1.25v1.25h-1.25zM136.04 111.93h1.25v1.25h-1.25zM125.98 117.37h1.25v1.25h-1.25zM134.51 115.61h1.25v1.25h-1.25zM132.78 117.48h1.25v1.25h-1.25zM134.2 115.01h1.25v1.25h-1.25zM132.44 106.35h1.25v1.25h-1.25zM142.69 115.91h1.25v1.25h-1.25zM137.52 110h1.25v1.25h-1.25zM132.11 113.99h1.25v1.25h-1.25zM134.26 114.37h1.25v1.25h-1.25zM140.51 113.15h1.25v1.25h-1.25zM138.3 114.44h1.25v1.25h-1.25zM134.79 120.69h1.25v1.25h-1.25zM136.05 116.96h1.25v1.25h-1.25zM138.57 112.3h1.25v1.25h-1.25zM145.53 114.9h1.25v1.25h-1.25zM138.78 111.32h1.25v1.25h-1.25zM135.84 115.98h1.25v1.25h-1.25zM139.08 116.18h1.25v1.25h-1.25zM141.35 112.09h1.25v1.25h-1.25zM126.54 113.23h1.25v1.25h-1.25zM129.76 104.89h1.25v1.25h-1.25zM148.07 113.9h1.25v1.25h-1.25zM135.01 121.97h1.25v1.25h-1.25zM139.81 113.07h1.25v1.25h-1.25zM154.09 114.58h1.25v1.25h-1.25zM133.52 116.85h1.25v1.25h-1.25zM141.79 118.5h1.25v1.25h-1.25zM118.87 112.23h1.25v1.25h-1.25zM155.64 111.91h1.25v1.25h-1.25zM142.99 109.97h1.25v1.25h-1.25zM138.4 109.9h1.25v1.25h-1.25zM135.28 112.9h1.25v1.25h-1.25zM145.48 110.58h1.25v1.25h-1.25zM142.71 109.72h1.25v1.25h-1.25zM151.72 109.74h1.25v1.25h-1.25zM145.24 111.17h1.25v1.25h-1.25zM153.51 111.86h1.25v1.25h-1.25zM133.7 113.2h1.25v1.25h-1.25zM153.16 110.23h1.25v1.25h-1.25zM154.23 104.29h1.25v1.25h-1.25zM119.44 114.66h1.25v1.25h-1.25zM130.27 113.66h1.25v1.25h-1.25zM138.19 116.02h1.25v1.25h-1.25zM144.83 119.68h1.25v1.25h-1.25zM141.91 117.03h1.25v1.25h-1.25zM144.18 107.91h1.25v1.25h-1.25zM164.23 103.59h1.25v1.25h-1.25zM129.33 111.07h1.25v1.25h-1.25zM148.03 118.92h1.25v1.25h-1.25zM151.4 115.4h1.25v1.25h-1.25zM147.27 112.87h1.25v1.25h-1.25zM142.23 108.13h1.25v1.25h-1.25zM146.64 114.7h1.25v1.25h-1.25zM150.9 119.48h1.25v1.25h-1.25zM142.52 113.23h1.25v1.25h-1.25zM148.79 112.37h1.25v1.25h-1.25zM132.68 116.17h1.25v1.25h-1.25zM116.22 115.64h1.25v1.25h-1.25zM153.58 114.14h1.25v1.25h-1.25zM141.26 117.42h1.25v1.25h-1.25zM138.57 113.62h1.25v1.25h-1.25zM121.34 112.52h1.25v1.25h-1.25zM149.33 105.91h1.25v1.25h-1.25zM144.61 109.4h1.25v1.25h-1.25zM153.38 108.85h1.25v1.25h-1.25zM141.87 102.09h1.25v1.25h-1.25zM136.39 104.53h1.25v1.25h-1.25zM144.06 100.98h1.25v1.25h-1.25zM146.31 112.78h1.25v1.25h-1.25zM144.11 105.52h1.25v1.25h-1.25zM153.13 106.92h1.25v1.25h-1.25zM153.73 107.63h1.25v1.25h-1.25zM155.81 101.39h1.25v1.25h-1.25zM151.91 109.75h1.25v1.25h-1.25zM135.74 109.77h1.25v1.25h-1.25zM141.33 104.2h1.25v1.25h-1.25zM150.8 104.43h1.25v1.25h-1.25zM146.61 114.97h1.25v1.25h-1.25zM153.04 110.13h1.25v1.25h-1.25zM149.62 110.52h1.25v1.25h-1.25zM125.56 77.8h1.25v1.25h-1.25zM133.83 79.41h1.25v1.25h-1.25zM128.96 73.77h1.25v1.25h-1.25zM126.53 77.65h1.25v1.25h-1.25zM134.95 74.42h1.25v1.25h-1.25zM136.12 77.86h1.25v1.25h-1.25zM115.31 74.65h1.25v1.25h-1.25zM134.32 72.17h1.25v1.25h-1.25zM140.48 69.36h1.25v1.25h-1.25zM131.51 74.21h1.25v1.25h-1.25zM127.34 75.61h1.25v1.25h-1.25zM140.81 79.9h1.25v1.25h-1.25zM130.8 73.02h1.25v1.25h-1.25zM141.89 76h1.25v1.25h-1.25zM134.39 75.09h1.25v1.25h-1.25zM130.6 78.42h1.25v1.25h-1.25zM141.37 77.25h1.25v1.25h-1.25zM137.41 71.53h1.25v1.25h-1.25zM142.38 76.25h1.25v1.25h-1.25zM135.17 70.45h1.25v1.25h-1.25zM149.4 76.72h1.25v1.25h-1.25zM143.8 75.48h1.25v1.25h-1.25zM129.82 72.9h1.25v1.25h-1.25zM128.27 73.11h1.25v1.25h-1.25zM137.26 74.9h1.25v1.25h-1.25zM146.69 77.37h1.25v1.25h-1.25zM131.96 71.77h1.25v1.25h-1.25zM113.11 75.79h1.25v1.25h-1.25zM151.57 70.87h1.25v1.25h-1.25zM131.9 78.45h1.25v1.25h-1.25zM147.49 79.34h1.25v1.25h-1.25zM148.97 75.99h1.25v1.25h-1.25zM145.92 77.22h1.25v1.25h-1.25zM144.63 75h1.25v1.25h-1.25zM131.59 74.73h1.25v1.25h-1.25zM141.23 75.92h1.25v1.25h-1.25zM162.21 82.77h1.25v1.25h-1.25zM175.54 81.52h1.25v1.25h-1.25zM159.25 63.35h1.25v1.25h-1.25zM166.57 83.35h1.25v1.25h-1.25zM164.32 74.09h1.25v1.25h-1.25zM170.61 71.73h1.25v1.25h-1.25zM171.47 69.32h1.25v1.25h-1.25zM167.09 77.96h1.25v1.25h-1.25zM172.78 105.08h1.25v1.25h-1.25zM119.09 66.03h1.25v1.25h-1.25zM177.6 96.91h1.25v1.25h-1.25zM106.87 92.02h1.25v1.25h-1.25zM186.23 111.94h1.25v1.25h-1.25zM144.86 84.51h1.25v1.25h-1.25zM142 80.59h1.25v1.25h-1.25zM178.12 109.19h1.25v1.25h-1.25zM117.66 111.15h1.25v1.25h-1.25zM154.87 91.64h1.25v1.25h-1.25zM131.95 107.61h1.25v1.25h-1.25zM126.15 96.77h1.25v1.25h-1.25zM117.13 98.55h1.25v1.25h-1.25zM129.39 113.17h1.25v1.25h-1.25zM115.76 114.45h1.25v1.25h-1.25zM122.23 120.31h1.25v1.25h-1.25zM115.08 98.51h1.25v1.25h-1.25zM114.47 109.2h1.25v1.25h-1.25zM113.83 100.75h1.25v1.25h-1.25zM107.98 122.68h1.25v1.25h-1.25zM109.52 123.23h1.25v1.25h-1.25zM128.22 123.58h1.25v1.25h-1.25zM126.29 123.28h1.25v1.25h-1.25z" fill="#000" fill-opacity="0.7"/>
<path d="M141.91 116.75h1.25v1.25h-1.25zM153.57 112.46h1.25v1.25h-1.25zM145.27 114.29h1.25v1.25h-1.25zM157.76 112.77h1.25v1.25h-1.25zM142.06 111.95h1.25v1.25h-1.25zM146.29 115.25h1.25v1.25h-1.25zM140.65 114.61h1.25v1.25h-1.25zM143.54 115.63h1.25v1.25h-1.25zM143.77 111.02h1.25v1.25h-1.25zM145.47 115.53h1.25v1.25h-1.25zM140.44 115.42h1.25v1.25h-1.25zM144.55 111.51h1.25v1.25h-1.25zM135.02 113.29h1.25v1.25h-1.25zM142.28 113.13h1.25v1.25h-1.25zM131.53 118.74h1.25v1.25h-1.25zM134.15 108.41h1.25v1.25h-1.25zM137.63 108.93h1.25v1.25h-1.25zM130.43 117h1.25v1.25h-1.25zM150.68 113.17h1.25v1.25h-1.25zM146.62 114.3h1.25v1.25h-1.25zM136.55 117.95h1.25v1.25h-1.25zM141.1 116.58h1.25v1.25h-1.25zM144.46 109.66h1.25v1.25h-1.25zM134.18 112.46h1.25v1.25h-1.25zM136.88 111.2h1.25v1.25h-1.25zM140.16 114.72h1.25v1.25h-1.25zM135.49 114.69h1.25v1.25h-1.25zM131.62 111.94h1.25v1.25h-1.25zM129.94 110.93h1.25v1.25h-1.25zM136.84 109.79h1.25v1.25h-1.25zM134.01 119.52h1.25v1.25h-1.25zM139.69 113.3h1.25v1.25h-1.25zM143.43 110.65h1.25v1.25h-1.25zM134.39 112.19h1.25v1.25h-1.25zM145.75 113.13h1.25v1.25h-1.25zM130.89 117.4h1.25v1.25h-1.25zM138.42 117.06h1.25v1.25h-1.25zM141.63 113.42h1.25v1.25h-1.25zM146.46 116.17h1.25v1.25h-1.25zM135.68 114.16h1.25v1.25h-1.25zM138.08 109.7h1.25v1.25h-1.25zM139.89 118.16h1.25v1.25h-1.25zM142.8 114.12h1.25v1.25h-1.25zM139.88 115.03h1.25v1.25h-1.25zM147.85 107.14h1.25v1.25h-1.25zM132.98 114.37h1.25v1.25h-1.25zM140.25 115.53h1.25v1.25h-1.25zM133.42 112.85h1.25v1.25h-1.25zM148.1 110.44h1.25v1.25h-1.25zM144.33 113.98h1.25v1.25h-1.25zM133.44 114.08h1.25v1.25h-1.25zM138.94 116.74h1.25v1.25h-1.25zM146.16 113.03h1.25v1.25h-1.25zM142.61 116.34h1.25v1.25h-1.25zM136.01 115.95h1.25v1.25h-1.25zM144.52 117.31h1.25v1.25h-1.25zM133.23 115.83h1.25v1.25h-1.25zM136.71 113.61h1.25v1.25h-1.25zM134.78 115.03h1.25v1.25h-1.25zM148.31 117.02h1.25v1.25h-1.25zM138.96 112.58h1.25v1.25h-1.25zM137.05 113.52h1.25v1.25h-1.25zM140.43 116.33h1.25v1.25h-1.25zM135.16 115.35h1.25v1.25h-1.25zM134.17 115.59h1.25v1.25h-1.25zM139.29 113.2h1.25v1.25h-1.25zM133.48 117.73h1.25v1.25h-1.25zM140.45 112.08h1.25v1.25h-1.25zM134.64 116.02h1.25v1.25h-1.25zM142.29 112.58h1.25v1.25h-1.25zM129.32 113.6h1.25v1.25h-1.25zM136.36 112.87h1.25v1.25h-1.25zM131.95 114.82h1.25v1.25h-1.25zM144.67 109.26h1.25v1.25h-1.25zM137.5 106.62h1.25v1.25h-1.25zM145.34 116.15h1.25v1.25h-1.25zM140.7 115.69h1.25v1.25h-1.25zM136.49 117.3h1.25v1.25h-1.25zM135.02 114.67h1.25v1.25h-1.25zM136.59 112.82h1.25v1.25h-1.25zM137.2 116.07h1.25v1.25h-1.25zM149.56 113.5h1.25v1.25h-1.25zM146.2 112.78h1.25v1.25h-1.25zM132.25 113.85h1.25v1.25h-1.25zM133.69 117.52h1.25v1.25h-1.25zM137.83 112.49h1.25v1.25h-1.25zM134.11 116.74h1.25v1.25h-1.25zM145.81 112.63h1.25v1.25h-1.25zM141.62 116.32h1.25v1.25h-1.25zM144.18 112.57h1.25v1.25h-1.25zM132 116.96h1.25v1.25h-1.25zM143.45 115.4h1.25v1.25h-1.25zM135.14 116.83h1.25v1.25h-1.25zM136.28 113.2h1.25v1.25h-1.25zM150.24 118.16h1.25v1.25h-1.25zM141.96 110.89h1.25v1.25h-1.25zM136.82 114.06h1.25v1.25h-1.25zM133.56 116.85h1.25v1.25h-1.25zM134.57 114.27h1.25v1.25h-1.25zM133.28 115.08h1.25v1.25h-1.25zM134 116h1.25v1.25h-1.25zM136.76 109.04h1.25v1.25h-1.25zM133.28 114.56h1.25v1.25h-1.25zM151.33 109.88h1.25v1.25h-1.25zM147.39 116.19h1.25v1.25h-1.25zM147.07 110.81h1.25v1.25h-1.25zM153.12 110.43h1.25v1.25h-1.25zM135.58 114.7h1.25v1.25h-1.25zM138.1 112.12h1.25v1.25h-1.25zM139.96 116.25h1.25v1.25h-1.25zM144.52 111.59h1.25v1.25h-1.25zM132.59 115.77h1.25v1.25h-1.25zM139.02 112.32h1.25v1.25h-1.25zM129.46 118.69h1.25v1.25h-1.25zM128.01 114.8h1.25v1.25h-1.25zM130 116.41h1.25v1.25h-1.25zM131.45 112.46h1.25v1.25h-1.25zM138.48 118.71h1.25v1.25h-1.25zM143.81 114.44h1.25v1.25h-1.25zM143.9 117.1h1.25v1.25h-1.25zM129.42 115.15h1.25v1.25h-1.25zM135.35 115.77h1.25v1.25h-1.25zM134.95 113.89h1.25v1.25h-1.25zM137.79 113.58h1.25v1.25h-1.25zM131.93 117.66h1.25v1.25h-1.25zM136.95 116.89h1.25v1.25h-1.25zM138.86 114.69h1.25v1.25h-1.25zM143.89 112.94h1.25v1.25h-1.25zM134.82 118.32h1.25v1.25h-1.25zM136.89 116.78h1.25v1.25h-1.25zM137.57 118.19h1.25v1.25h-1.25zM146.97 114.19h1.25v1.25h-1.25zM131.53 109.32h1.25v1.25h-1.25zM136.04 117h1.25v1.25h-1.25zM135.9 116.62h1.25v1.25h-1.25zM144.41 114.8h1.25v1.25h-1.25zM144.57 111.78h1.25v1.25h-1.25zM148.03 112.04h1.25v1.25h-1.25zM140.31 113.73h1.25v1.25h-1.25zM137.12 112.67h1.25v1.25h-1.25zM128.93 113.14h1.25v1.25h-1.25zM149.26 112.43h1.25v1.25h-1.25zM139.48 116.06h1.25v1.25h-1.25zM143.86 115.65h1.25v1.25h-1.25zM140.47 111.7h1.25v1.25h-1.25zM133.51 113.51h1.25v1.25h-1.25zM139.4 114.55h1.25v1.25h-1.25zM154.36 110.07h1.25v1.25h-1.25zM138.4 114.75h1.25v1.25h-1.25zM131.65 111.84h1.25v1.25h-1.25zM142.9 113.15h1.25v1.25h-1.25zM140.11 116.97h1.25v1.25h-1.25zM119.7 116.44h1.25v1.25h-1.25zM134.41 111.6h1.25v1.25h-1.25zM142.43 114.22h1.25v1.25h-1.25zM139.81 114.05h1.25v1.25h-1.25zM141.6 113.92h1.25v1.25h-1.25zM134.94 116.04h1.25v1.25h-1.25zM143.35 115.16h1.25v1.25h-1.25zM135.59 116.59h1.25v1.25h-1.25zM135.16 118.26h1.25v1.25h-1.25zM138.01 118h1.25v1.25h-1.25zM136.48 113.02h1.25v1.25h-1.25zM136.52 111.81h1.25v1.25h-1.25zM134.55 112.55h1.25v1.25h-1.25zM137.05 106.8h1.25v1.25h-1.25zM148.76 111.72h1.25v1.25h-1.25zM132.3 115.55h1.25v1.25h-1.25zM139.84 118.63h1.25v1.25h-1.25zM144.14 114.37h1.25v1.25h-1.25zM154.42 116.37h1.25v1.25h-1.25zM136.49 116.22h1.25v1.25h-1.25zM141.01 114.96h1.25v1.25h-1.25zM137.01 116.72h1.25v1.25h-1.25zM134.18 117.75h1.25v1.25h-1.25zM144.08 112.84h1.25v1.25h-1.25zM136.92 118.07h1.25v1.25h-1.25zM143.44 109.48h1.25v1.25h-1.25zM136.32 112.38h1.25v1.25h-1.25zM135.09 111.47h1.25v1.25h-1.25zM144.87 114.92h1.25v1.25h-1.25zM138.81 113.17h1.25v1.25h-1.25zM143.8 115.79h1.25v1.25h-1.25zM146.88 116.49h1.25v1.25h-1.25zM139.61 112.3h1.25v1.25h-1.25zM140.86 112.89h1.25v1.25h-1.25zM145.24 117.57h1.25v1.25h-1.25zM131.87 110.89h1.25v1.25h-1.25zM131.97 110.38h1.25v1.25h-1.25zM135.07 116.43h1.25v1.25h-1.25zM133.46 113.84h1.25v1.25h-1.25zM144.81 113.94h1.25v1.25h-1.25zM132.98 112.5h1.25v1.25h-1.25zM140.52 111.56h1.25v1.25h-1.25zM134.97 118.71h1.25v1.25h-1.25zM138.19 113.85h1.25v1.25h-1.25zM144.95 111.47h1.25v1.25h-1.25zM141.48 111.28h1.25v1.25h-1.25zM122.86 112.26h1.25v1.25h-1.25zM134.31 115.15h1.25v1.25h-1.25zM148.5 115.86h1.25v1.25h-1.25zM146.21 109.14h1.25v1.25h-1.25zM135.7 112.21h1.25v1.25h-1.25zM149.99 109.32h1.25v1.25h-1.25zM131.47 112.17h1.25v1.25h-1.25zM146.05 116.3h1.25v1.25h-1.25zM155.28 108.98h1.25v1.25h-1.25zM140.55 115.48h1.25v1.25h-1.25zM152.37 105.63h1.25v1.25h-1.25zM162.12 112.63h1.25v1.25h-1.25zM134.26 112.33h1.25v1.25h-1.25zM137.77 112.46h1.25v1.25h-1.25zM155.39 110.12h1.25v1.25h-1.25zM136.09 113.45h1.25v1.25h-1.25zM147.3 114.16h1.25v1.25h-1.25zM152.33 111.68h1.25v1.25h-1.25zM146.3 112.35h1.25v1.25h-1.25zM141.84 106.03h1.25v1.25h-1.25zM157.3 111.03h1.25v1.25h-1.25zM144.54 114.09h1.25v1.25h-1.25zM142.46 119.97h1.25v1.25h-1.25zM155.73 113.6h1.25v1.25h-1.25zM138.52 114.37h1.25v1.25h-1.25zM125.87 115.88h1.25v1.25h-1.25zM161.72 107.76h1.25v1.25h-1.25zM152.07 107.25h1.25v1.25h-1.25zM140.5 113.76h1.25v1.25h-1.25zM145.41 111.63h1.25v1.25h-1.25zM135.06 112.31h1.25v1.25h-1.25zM143.95 112.21h1.25v1.25h-1.25zM145.9 118.45h1.25v1.25h-1.25zM135.39 111.16h1.25v1.25h-1.25zM134.35 114.48h1.25v1.25h-1.25zM140.99 114.9h1.25v1.25h-1.25zM135.99 117.26h1.25v1.25h-1.25zM134.88 110.62h1.25v1.25h-1.25zM143.66 109.84h1.25v1.25h-1.25zM131.83 114.29h1.25v1.25h-1.25zM161.56 108.77h1.25v1.25h-1.25zM143.87 120.49h1.25v1.25h-1.25zM154.44 112.98h1.25v1.25h-1.25zM138.52 111.78h1.25v1.25h-1.25zM146.14 102.34h1.25v1.25h-1.25zM148.19 100.92h1.25v1.25h-1.25zM156.36 101.25h1.25v1.25h-1.25zM165.54 101.97h1.25v1.25h-1.25zM154.13 103.93h1.25v1.25h-1.25zM155.22 102.67h1.25v1.25h-1.25zM128.7 107.05h1.25v1.25h-1.25zM150.35 101.3h1.25v1.25h-1.25zM153.56 102.79h1.25v1.25h-1.25zM144.72 108.95h1.25v1.25h-1.25zM158.44 103.87h1.25v1.25h-1.25zM156.73 104.84h1.25v1.25h-1.25zM149.13 100.95h1.25v1.25h-1.25zM144.93 107.04h1.25v1.25h-1.25zM131.53 72.49h1.25v1.25h-1.25zM116.97 74.2h1.25v1.25h-1.25zM118.46 81.32h1.25v1.25h-1.25zM129.41 70.4h1.25v1.25h-1.25zM132.72 72.29h1.25v1.25h-1.25zM138.12 71.69h1.25v1.25h-1.25zM119.44 72.96h1.25v1.25h-1.25zM131.46 77.47h1.25v1.25h-1.25zM132.16 76.55h1.25v1.25h-1.25zM136.12 69.38h1.25v1.25h-1.25zM122.8 77.44h1.25v1.25h-1.25zM129.02 77.6h1.25v1.25h-1.25zM139.9 70.28h1.25v1.25h-1.25zM124.93 74.42h1.25v1.25h-1.25zM140.44 74.63h1.25v1.25h-1.25zM128.99 77.15h1.25v1.25h-1.25zM149.02 72.16h1.25v1.25h-1.25zM132.65 77.36h1.25v1.25h-1.25zM141.12 76.37h1.25v1.25h-1.25zM141.58 71.54h1.25v1.25h-1.25zM155.55 74.68h1.25v1.25h-1.25zM148.52 78.37h1.25v1.25h-1.25zM147.7 79.06h1.25v1.25h-1.25zM149.71 75.78h1.25v1.25h-1.25zM136.4 73.37h1.25v1.25h-1.25zM148.46 75.9h1.25v1.25h-1.25zM145.02 75.07h1.25v1.25h-1.25zM142.56 78.41h1.25v1.25h-1.25zM158.24 74.82h1.25v1.25h-1.25zM144.5 75.76h1.25v1.25h-1.25zM123.26 75.51h1.25v1.25h-1.25zM121.23 76.89h1.25v1.25h-1.25zM144.57 75.7h1.25v1.25h-1.25zM148.87 77.42h1.25v1.25h-1.25zM150.41 79.27h1.25v1.25h-1.25zM153.15 72.39h1.25v1.25h-1.25zM174.18 75.06h1.25v1.25h-1.25zM181.24 67.84h1.25v1.25h-1.25zM177.67 80.79h1.25v1.25h-1.25zM175.53 82.1h1.25v1.25h-1.25zM172.41 76h1.25v1.25h-1.25zM157.68 77.11h1.25v1.25h-1.25zM169.96 72.83h1.25v1.25h-1.25zM170.58 68.24h1.25v1.25h-1.25zM150.37 115.94h1.25v1.25h-1.25zM149.06 70.07h1.25v1.25h-1.25zM153.15 116.37h1.25v1.25h-1.25zM127.33 99.9h1.25v1.25h-1.25zM129.5 90.71h1.25v1.25h-1.25zM138.37 67h1.25v1.25h-1.25zM135.8 117.97h1.25v1.25h-1.25zM111.22 104.53h1.25v1.25h-1.25zM114.84 64.34h1.25v1.25h-1.25zM130.39 119.76h1.25v1.25h-1.25zM179.18 112.08h1.25v1.25h-1.25zM131.71 72.61h1.25v1.25h-1.25zM108.3 100.09h1.25v1.25h-1.25zM109.09 116.08h1.25v1.25h-1.25zM114.98 107.32h1.25v1.25h-1.25zM115.27 114.28h1.25v1.25h-1.25zM109.41 114.15h1.25v1.25h-1.25zM110.84 103.72h1.25v1.25h-1.25zM108.88 97.32h1.25v1.25h-1.25zM116.9 124.89h1.25v1.25h-1.25zM109.72 121.37h1.25v1.25h-1.25zM120.24 124.11h1.25v1.25h-1.25z" fill="#000" fill-opacity="0.7"/>
<path d="M131.86 111.46h1.25v1.25h-1.25zM134.34 111.67h1.25v1.25h-1.25zM128.95 116.66h1.25v1.25h-1.25zM143.56 110.56h1.25v1.25h-1.25zM149.55 112.2h1.25v1.25h-1.25zM139.67 112.2h1.25v1.25h-1.25zM139.93 112.64h1.25v1.25h-1.25zM140.18 116.05h1.25v1.25h-1.25zM153.15 117.66h1.25v1.25h-1.25zM139.57 117.56h1.25v1.25h-1.25zM147.63 111.08h1.25v1.25h-1.25zM136.69 114.92h1.25v1.25h-1.25zM143.35 117.47h1.25v1.25h-1.25zM143.49 114.09h1.25v1.25h-1.25zM147.22 113.18h1.25v1.25h-1.25zM147.05 114.11h1.25v1.25h-1.25zM138.01 110.37h1.25v1.25h-1.25zM143.68 111.4h1.25v1.25h-1.25zM138.06 111.8h1.25v1.25h-1.25zM134.93 114.7h1.25v1.25h-1.25zM140.12 115.58h1.25v1.25h-1.25zM142.98 108.71h1.25v1.25h-1.25zM135.23 108.51h1.25v1.25h-1.25zM134.97 118.87h1.25v1.25h-1.25zM135.64 118.57h1.25v1.25h-1.25zM134.61 112.53h1.25v1.25h-1.25zM145.43 113.94h1.25v1.25h-1.25zM131.29 117.49h1.25v1.25h-1.25zM133.88 116.83h1.25v1.25h-1.25zM133.09 111.52h1.25v1.25h-1.25zM142.12 112.16h1.25v1.25h-1.25zM139.98 112.66h1.25v1.25h-1.25zM145.17 112.79h1.25v1.25h-1.25zM142.86 111.26h1.25v1.25h-1.25zM135.53 113.7h1.25v1.25h-1.25zM132.82 113.51h1.25v1.25h-1.25zM143.37 115.81h1.25v1.25h-1.25zM139.19 113.66h1.25v1.25h-1.25zM144.02 115.94h1.25v1.25h-1.25zM141.51 117.42h1.25v1.25h-1.25zM142.97 112.67h1.25v1.25h-1.25zM138.93 115.34h1.25v1.25h-1.25zM133.49 109.56h1.25v1.25h-1.25zM140.26 114.54h1.25v1.25h-1.25zM141.25 113.55h1.25v1.25h-1.25zM138.24 114.01h1.25v1.25h-1.25zM138 114.24h1.25v1.25h-1.25zM149.18 113h1.25v1.25h-1.25zM135.42 110.43h1.25v1.25h-1.25zM133.69 111.89h1.25v1.25h-1.25zM147.15 113.63h1.25v1.25h-1.25zM142.6 114.46h1.25v1.25h-1.25zM147.09 113.52h1.25v1.25h-1.25zM142.41 116.52h1.25v1.25h-1.25zM134.72 111.84h1.25v1.25h-1.25zM129.89 118.25h1.25v1.25h-1.25zM143.17 113.59h1.25v1.25h-1.25zM134.41 112.58h1.25v1.25h-1.25zM133.75 113.28h1.25v1.25h-1.25zM140.46 110.67h1.25v1.25h-1.25zM139.59 121.16h1.25v1.25h-1.25zM136.85 114.1h1.25v1.25h-1.25zM138.31 109.46h1.25v1.25h-1.25zM140.85 111.83h1.25v1.25h-1.25zM148.71 116.45h1.25v1.25h-1.25zM141.17 117.64h1.25v1.25h-1.25zM137.17 115.26h1.25v1.25h-1.25zM136.79 116.66h1.25v1.25h-1.25zM141.69 117.05h1.25v1.25h-1.25zM145.81 114.14h1.25v1.25h-1.25zM141.06 114.58h1.25v1.25h-1.25zM141.08 118.25h1.25v1.25h-1.25zM137.11 110.46h1.25v1.25h-1.25zM146.78 112.72h1.25v1.25h-1.25zM136.63 115.44h1.25v1.25h-1.25zM139.47 112.61h1.25v1.25h-1.25zM140.1 118.09h1.25v1.25h-1.25zM141.48 111.41h1.25v1.25h-1.25zM152.27 115.14h1.25v1.25h-1.25zM145.43 113.94h1.25v1.25h-1.25zM143.51 111.67h1.25v1.25h-1.25zM144.74 109.97h1.25v1.25h-1.25zM141.9 112.33h1.25v1.25h-1.25zM145.17 117.73h1.25v1.25h-1.25zM143.59 115.43h1.25v1.25h-1.25zM133.13 113.52h1.25v1.25h-1.25zM137.61 116.47h1.25v1.25h-1.25zM138.01 112.05h1.25v1.25h-1.25zM142.76 111.07h1.25v1.25h-1.25zM130.79 114.51h1.25v1.25h-1.25zM148.94 113h1.25v1.25h-1.25zM128.98 114.64h1.25v1.25h-1.25zM144.87 116.87h1.25v1.25h-1.25zM142.75 114.88h1.25v1.25h-1.25zM147.39 117.7h1.25v1.25h-1.25zM146.84 116.91h1.25v1.25h-1.25zM142.53 114.27h1.25v1.25h-1.25zM139.31 113.75h1.25v1.25h-1.25zM134.29 113.6h1.25v1.25h-1.25zM132.62 111.96h1.25v1.25h-1.25zM127.55 112.81h1.25v1.25h-1.25zM137.9 110.92h1.25v1.25h-1.25zM147.38 114.85h1.25v1.25h-1.25zM132.93 110.28h1.25v1.25h-1.25zM144.18 116.02h1.25v1.25h-1.25zM134.83 115.91h1.25v1.25h-1.25zM135.21 114.76h1.25v1.25h-1.25zM152.18 107.64h1.25v1.25h-1.25zM148.09 110.6h1.25v1.25h-1.25zM137.97 112.67h1.25v1.25h-1.25zM139.78 116.25h1.25v1.25h-1.25zM137.29 114.17h1.25v1.25h-1.25zM137.91 117.38h1.25v1.25h-1.25zM135.42 114.45h1.25v1.25h-1.25zM136.04 111.62h1.25v1.25h-1.25zM140.99 109.74h1.25v1.25h-1.25zM128.48 112.69h1.25v1.25h-1.25zM150.3 115.82h1.25v1.25h-1.25zM133.83 112.45h1.25v1.25h-1.25zM143.6 110.03h1.25v1.25h-1.25zM142.16 113.86h1.25v1.25h-1.25zM137.01 114.8h1.25v1.25h-1.25zM126.28 116.48h1.25v1.25h-1.25zM134.38 117.74h1.25v1.25h-1.25zM140.29 116.37h1.25v1.25h-1.25zM147.56 113.44h1.25v1.25h-1.25zM140.96 115.84h1.25v1.25h-1.25zM139.62 110.16h1.25v1.25h-1.25zM137.1 114.23h1.25v1.25h-1.25zM136.02 114.04h1.25v1.25h-1.25zM134.44 115.91h1.25v1.25h-1.25zM129.4 113.04h1.25v1.25h-1.25zM141.72 112.66h1.25v1.25h-1.25zM138.48 115.68h1.25v1.25h-1.25zM143.58 116.57h1.25v1.25h-1.25zM145.33 114.74h1.25v1.25h-1.25zM138.63 117.94h1.25v1.25h-1.25zM133.31 112.09h1.25v1.25h-1.25zM143.6 116.12h1.25v1.25h-1.25zM146.13 113.72h1.25v1.25h-1.25zM143.99 113.41h1.25v1.25h-1.25zM143.47 116.83h1.25v1.25h-1.25zM137.48 115.7h1.25v1.25h-1.25zM139.7 111.31h1.25v1.25h-1.25zM137.95 112.41h1.25v1.25h-1.25zM136.64 110.99h1.25v1.25h-1.25zM127.17 111.98h1.25v1.25h-1.25zM147.65 114.79h1.25v1.25h-1.25zM132.65 113.88h1.25v1.25h-1.25zM144.59 113.51h1.25v1.25h-1.25zM136.13 114.49h1.25v1.25h-1.25zM136.17 115.85h1.25v1.25h-1.25zM142.72 118.75h1.25v1.25h-1.25zM137.13 120.17h1.25v1.25h-1.25zM140.69 114.75h1.25v1.25h-1.25zM128.73 114.14h1.25v1.25h-1.25zM144.44 113.04h1.25v1.25h-1.25zM133.01 110.81h1.25v1.25h-1.25zM138.67 112.5h1.25v1.25h-1.25zM145.72 113.91h1.25v1.25h-1.25zM152.41 117.93h1.25v1.25h-1.25zM143.7 113.16h1.25v1.25h-1.25zM129.9 111.34h1.25v1.25h-1.25zM135.84 112.17h1.25v1.25h-1.25zM132.51 112.79h1.25v1.25h-1.25zM129.87 117.75h1.25v1.25h-1.25zM140.81 111.21h1.25v1.25h-1.25zM141.41 112.79h1.25v1.25h-1.25zM144.75 110.4h1.25v1.25h-1.25zM145.87 110.15h1.25v1.25h-1.25zM141.39 117.43h1.25v1.25h-1.25zM135.75 112.95h1.25v1.25h-1.25zM146.19 112.45h1.25v1.25h-1.25zM144.07 116.66h1.25v1.25h-1.25zM139.93 117.42h1.25v1.25h-1.25zM138.44 110.84h1.25v1.25h-1.25zM136.88 112.69h1.25v1.25h-1.25zM132.87 112.93h1.25v1.25h-1.25zM149.88 109.77h1.25v1.25h-1.25zM154.21 111.87h1.25v1.25h-1.25zM132.39 116.79h1.25v1.25h-1.25zM143.32 117.04h1.25v1.25h-1.25zM150.25 113.91h1.25v1.25h-1.25zM137.04 117.16h1.25v1.25h-1.25zM137.4 114.74h1.25v1.25h-1.25zM145.78 113.16h1.25v1.25h-1.25zM137.85 110.34h1.25v1.25h-1.25zM144.7 114.54h1.25v1.25h-1.25zM145.88 112.65h1.25v1.25h-1.25zM133.72 114.91h1.25v1.25h-1.25zM139.52 115.29h1.25v1.25h-1.25zM139.66 114.09h1.25v1.25h-1.25zM136.53 117.07h1.25v1.25h-1.25zM142.54 111.99h1.25v1.25h-1.25zM140.7 110.59h1.25v1.25h-1.25zM147.59 111.92h1.25v1.25h-1.25zM143.35 108.57h1.25v1.25h-1.25zM155.24 115.32h1.25v1.25h-1.25zM144.73 115.87h1.25v1.25h-1.25zM131.62 106.64h1.25v1.25h-1.25zM144.88 115.4h1.25v1.25h-1.25zM132.89 111.79h1.25v1.25h-1.25zM157.67 113.06h1.25v1.25h-1.25zM135.59 113.72h1.25v1.25h-1.25zM139.7 114.73h1.25v1.25h-1.25zM138.35 111.94h1.25v1.25h-1.25zM138.49 120.04h1.25v1.25h-1.25zM149.38 114.64h1.25v1.25h-1.25zM132.97 110.98h1.25v1.25h-1.25zM132.47 118.8h1.25v1.25h-1.25zM145.65 120.93h1.25v1.25h-1.25zM149.62 111.31h1.25v1.25h-1.25zM150.91 106.32h1.25v1.25h-1.25zM138.92 109.4h1.25v1.25h-1.25zM135.56 118.36h1.25v1.25h-1.25zM130.17 111.28h1.25v1.25h-1.25zM156.29 103.9h1.25v1.25h-1.25zM145.34 112.14h1.25v1.25h-1.25zM141.75 117.45h1.25v1.25h-1.25zM142.35 116.7h1.25v1.25h-1.25zM144.92 114.61h1.25v1.25h-1.25zM142.57 115.07h1.25v1.25h-1.25zM144.99 106.03h1.25v1.25h-1.25zM152.49 111.5h1.25v1.25h-1.25zM131.73 121.08h1.25v1.25h-1.25zM151.13 110.06h1.25v1.25h-1.25zM140.31 115h1.25v1.25h-1.25zM142.8 113.92h1.25v1.25h-1.25zM147.05 102.49h1.25v1.25h-1.25zM142.21 108.9h1.25v1.25h-1.25zM129.04 114.45h1.25v1.25h-1.25zM129.83 115.17h1.25v1.25h-1.25zM147.38 110.48h1.25v1.25h-1.25zM140.55 110.18h1.25v1.25h-1.25zM121.86 115.57h1.25v1.25h-1.25zM151.15 113.6h1.25v1.25h-1.25zM148.81 105.93h1.25v1.25h-1.25zM138.61 119.82h1.25v1.25h-1.25zM134.86 107.64h1.25v1.25h-1.25zM152.65 111.73h1.25v1.25h-1.25zM162.45 116.27h1.25v1.25h-1.25zM141.38 111.44h1.25v1.25h-1.25zM147.84 107.36h1.25v1.25h-1.25zM150.49 107.05h1.25v1.25h-1.25zM160.6 100.2h1.25v1.25h-1.25zM144.31 105.15h1.25v1.25h-1.25zM147.79 108.63h1.25v1.25h-1.25zM143.18 108.62h1.25v1.25h-1.25zM147.58 104.78h1.25v1.25h-1.25zM151.74 98.87h1.25v1.25h-1.25zM157.14 103.86h1.25v1.25h-1.25zM146.95 100.8h1.25v1.25h-1.25zM148.95 105.15h1.25v1.25h-1.25zM156.24 110h1.25v1.25h-1.25zM147.91 108h1.25v1.25h-1.25zM156.73 99.99h1.25v1.25h-1.25zM129.23 68.26h1.25v1.25h-1.25zM127.62 78.9h1.25v1.25h-1.25zM136.49 80.27h1.25v1.25h-1.25zM131.53 71.15h1.25v1.25h-1.25zM129.44 68.21h1.25v1.25h-1.25zM130.01 79.91h1.25v1.25h-1.25zM126.77 79.05h1.25v1.25h-1.25zM130.81 74.76h1.25v1.25h-1.25zM133.78 75.45h1.25v1.25h-1.25zM134.43 78.84h1.25v1.25h-1.25zM125.06 73.77h1.25v1.25h-1.25zM122.86 77.81h1.25v1.25h-1.25zM133 77.36h1.25v1.25h-1.25zM133.4 75.15h1.25v1.25h-1.25zM134.12 76.62h1.25v1.25h-1.25zM132.23 77.12h1.25v1.25h-1.25zM132.51 75.27h1.25v1.25h-1.25zM129.63 75.39h1.25v1.25h-1.25zM146.4 70.7h1.25v1.25h-1.25zM130.84 78.24h1.25v1.25h-1.25zM132.57 75.21h1.25v1.25h-1.25zM138.59 74.16h1.25v1.25h-1.25zM155.35 72.34h1.25v1.25h-1.25zM137.77 73.42h1.25v1.25h-1.25zM148.95 70.19h1.25v1.25h-1.25zM114.68 77h1.25v1.25h-1.25zM132.03 74.13h1.25v1.25h-1.25zM156.32 72.83h1.25v1.25h-1.25zM134.49 72.95h1.25v1.25h-1.25zM152.54 75.13h1.25v1.25h-1.25zM134.54 74.44h1.25v1.25h-1.25zM128.7 71.43h1.25v1.25h-1.25zM149.71 73.04h1.25v1.25h-1.25zM143.94 77.14h1.25v1.25h-1.25zM131.11 75.32h1.25v1.25h-1.25zM131.29 78.32h1.25v1.25h-1.25zM170.39 80.88h1.25v1.25h-1.25zM170.92 63.99h1.25v1.25h-1.25zM167.6 74.75h1.25v1.25h-1.25zM171.32 81.71h1.25v1.25h-1.25zM180.03 76.07h1.25v1.25h-1.25zM185.08 65h1.25v1.25h-1.25zM176.81 60.68h1.25v1.25h-1.25zM161.22 62h1.25v1.25h-1.25zM136.14 69.12h1.25v1.25h-1.25zM154.88 113.92h1.25v1.25h-1.25zM160.85 123.42h1.25v1.25h-1.25zM147.27 94.16h1.25v1.25h-1.25zM146.96 112.65h1.25v1.25h-1.25zM160.91 71.49h1.25v1.25h-1.25zM123.27 62.72h1.25v1.25h-1.25zM123.32 90.09h1.25v1.25h-1.25zM158.81 91.61h1.25v1.25h-1.25zM122.89 102.53h1.25v1.25h-1.25zM109.3 93.76h1.25v1.25h-1.25zM166.24 109.84h1.25v1.25h-1.25zM125.83 109.89h1.25v1.25h-1.25zM120.35 113.4h1.25v1.25h-1.25zM114.79 114.42h1.25v1.25h-1.25zM112.03 104.46h1.25v1.25h-1.25zM127.41 97.52h1.25v1.25h-1.25zM116.19 103.35h1.25v1.25h-1.25zM125.01 113.09h1.25v1.25h-1.25zM117.07 124.69h1.25v1.25h-1.25zM118.5 121.63h1.25v1.25h-1.25zM125.74 121.63h1.25v1.25h-1.25z" fill="#000" fill-opacity="0.7"/>
<rect x="105.2" y="36.8" width="82.3" height="88.9" fill="none" stroke="#1c1c1c" stroke-width="1.0"/>
<path d="M106.3 125.7L106.3 129M109.45 125.7L109.45 127.5M112.6 125.7L112.6 127.5M115.74 125.7L115.74 127.5M118.89 125.7L118.89 127.5M122.04 125.7L122.04 129M125.19 125.7L125.19 127.5M128.34 125.7L128.34 127.5M131.48 125.7L131.48 127.5M134.63 125.7L134.63 127.5M137.78 125.7L137.78 129M140.93 125.7L140.93 127.5M144.08 125.7L144.08 127.5M147.22 125.7L147.22 127.5M150.37 125.7L150.37 127.5M153.52 125.7L153.52 129M156.67 125.7L156.67 127.5M159.82 125.7L159.82 127.5M162.96 125.7L162.96 127.5M166.11 125.7L166.11 127.5M169.26 125.7L169.26 129M172.41 125.7L172.41 127.5M175.56 125.7L175.56 127.5M178.7 125.7L178.7 127.5M181.85 125.7L181.85 127.5M185 125.7L185 129M105.2 125.7L101.9 125.7M105.2 119.01L103.4 119.01M105.2 115.1L103.4 115.1M105.2 112.32L103.4 112.32M105.2 110.17L103.4 110.17M105.2 108.41L103.4 108.41M105.2 106.92L103.4 106.92M105.2 105.63L103.4 105.63M105.2 104.49L103.4 104.49M105.2 103.47L101.9 103.47M105.2 96.78L103.4 96.78M105.2 92.87L103.4 92.87M105.2 90.09L103.4 90.09M105.2 87.94L103.4 87.94M105.2 86.18L103.4 86.18M105.2 84.69L103.4 84.69M105.2 83.4L103.4 83.4M105.2 82.27L103.4 82.27M105.2 81.25L101.9 81.25M105.2 74.56L103.4 74.56M105.2 70.65L103.4 70.65M105.2 67.87L103.4 67.87M105.2 65.72L103.4 65.72M105.2 63.96L103.4 63.96M105.2 62.47L103.4 62.47M105.2 61.18L103.4 61.18M105.2 60.04L103.4 60.04M105.2 59.02L101.9 59.02M105.2 52.33L103.4 52.33M105.2 48.42L103.4 48.42M105.2 45.64L103.4 45.64M105.2 43.49L103.4 43.49M105.2 41.73L103.4 41.73M105.2 40.24L103.4 40.24M105.2 38.95L103.4 38.95M105.2 37.82L103.4 37.82M105.2 36.8L101.9 36.8" stroke="#111" stroke-width="0.85" fill="none"/>
<text x="106.6" y="134.7" font-size="6.2" text-anchor="middle">0</text>
<text x="122.34" y="134.7" font-size="6.2" text-anchor="middle">200</text>
<text x="138.08" y="134.7" font-size="6.2" text-anchor="middle">400</text>
<text x="153.82" y="134.7" font-size="6.2" text-anchor="middle">600</text>
<text x="169.56" y="134.7" font-size="6.2" text-anchor="middle">800</text>
<text x="185.3" y="134.7" font-size="6.2" text-anchor="middle">1000</text>
<text x="99.5" y="129.8" font-size="5.8" transform="rotate(-90 99.5 129.8)">10</text>
<text x="95.9" y="123.2" font-size="5.4" transform="rotate(-90 95.9 123.2)">0</text>
<text x="99.5" y="107.57" font-size="5.8" transform="rotate(-90 99.5 107.57)">10</text>
<text x="95.9" y="100.97" font-size="5.4" transform="rotate(-90 95.9 100.97)">1</text>
<text x="99.5" y="85.35" font-size="5.8" transform="rotate(-90 99.5 85.35)">10</text>
<text x="95.9" y="78.75" font-size="5.4" transform="rotate(-90 95.9 78.75)">2</text>
<text x="99.5" y="63.12" font-size="5.8" transform="rotate(-90 99.5 63.12)">10</text>
<text x="95.9" y="56.52" font-size="5.4" transform="rotate(-90 95.9 56.52)">3</text>
<text x="99.5" y="40.9" font-size="5.8" transform="rotate(-90 99.5 40.9)">10</text>
<text x="95.9" y="34.3" font-size="5.4" transform="rotate(-90 95.9 34.3)">4</text>
<text x="145.85" y="142.7" font-size="6.4" text-anchor="middle">FSC-Height</text>
<text x="91" y="81.15" font-size="6.4" text-anchor="middle" transform="rotate(-90 91 81.15)">7-AAD</text>
<ellipse cx="141.7" cy="74.9" rx="23.3" ry="9.5" fill="none" stroke="#0a0a0a" stroke-width="1.4"/>
<ellipse cx="146.7" cy="107.5" rx="24.7" ry="14" fill="none" stroke="#0a0a0a" stroke-width="1.4" transform="rotate(-3 146.7 107.5)"/>
<text x="139.4" y="61.2" font-size="7.5" fill="#222">Apoptotic</text>
<text x="141" y="92.4" font-size="7.35" fill="#222">Non-apoptotic</text>
<path d="M205.7 126L205.7 110.98L206.15 112.08L206.6 111.69L207.2 120.41L207.6 120.85L208 122.33L208.4 123.09L208.87 122.17L209.33 121.56L209.8 120.6L210.2 116.69L210.6 113.91L211 111.05L211.4 103.14L211.8 98.44L212.15 90.92L212.5 84.85L213.1 71.21L213.45 68.63L213.8 62.9L214.15 59.97L214.5 56.01L215 52.58L215.6 57.29L215.95 60.25L216.3 61.79L216.65 66.24L217 67L217.6 74.53L218 81.31L218.4 84.57L219 94.75L219.35 97.31L219.7 101.36L220.3 108.4L220.9 115.86L221.25 116.84L221.6 118.18L222.07 119.28L222.53 118.01L223 118.69L223.5 118.07L224 119.63L224.5 119.83L225 120.01L225.5 120.41L226 120.55L226.5 121.98L227 122.58L227.5 123.2L228 123.78L228.5 123.45L229 124.35L229.43 124.35L229.86 123.96L230.29 123.95L230.71 124.05L231.14 124.02L231.57 124.58L232 124.08L232.43 123.65L232.86 123.59L233.29 124.03L233.71 124.17L234.14 123.6L234.57 123.48L235 123.42L235.43 123.69L235.86 123.28L236.29 123.73L236.71 123.77L237.14 123.92L237.57 123.6L238 123.69L238.42 123.67L238.83 124.04L239.25 123.33L239.67 123.4L240.08 122.94L240.5 122.56L241 121.66L241.5 121.74L242 122.72L242.5 123.35L243 123.52L243.5 123.39L244 123.49L244.5 123.44L244.9 122.32L245.3 122.46L245.7 121.93L246.13 121.99L246.57 122.85L247 122.96L247.5 122.89L248 122.81L248.5 123.5L249 122.83L249.5 122.95L250 123.86L250.5 124.02L251 123.96L251.5 124.47L252 124.01L252.5 124.39L253 124.62L253.44 124.75L253.88 124.59L254.31 124.54L254.75 124.77L255.19 125.21L255.62 125.3L256.06 125.15L256.5 124.97L256.94 124.83L257.38 125.38L257.81 125.08L258.25 125.26L258.69 124.77L259.12 124.93L259.56 125.41L260 125.4L260.45 125.47L260.91 125.27L261.36 125.16L261.82 125.27L262.27 125.47L262.73 125.09L263.18 125.26L263.63 125.08L264.09 125.43L264.54 124.9L265 125.38L265.45 125.58L265.91 124.93L266.36 125.34L266.81 125.38L267.27 125.53L267.72 125.35L268.18 125.13L268.63 125.23L269.09 125.63L269.54 125.59L269.99 125.06L270.45 125.04L270.9 125.05L271.36 125.01L271.81 125.3L272.27 125.1L272.72 125.61L273.17 125.47L273.63 125.11L274.08 125.4L274.54 125.26L274.99 125.38L275.45 125.2L275.9 125.39L275.9 126Z" fill="#050505" stroke="#050505" stroke-width="0.4" stroke-linejoin="round"/>
<rect x="205.4" y="37.2" width="70.5" height="88.8" fill="none" stroke="#2a2a2a" stroke-width="1.05"/>
<path d="M205.4 126L205.4 129.3M210.71 126L210.71 127.8M213.81 126L213.81 127.8M216.01 126L216.01 127.8M217.72 126L217.72 127.8M219.11 126L219.11 127.8M220.29 126L220.29 127.8M221.32 126L221.32 127.8M222.22 126L222.22 127.8M223.03 126L223.03 129.3M228.33 126L228.33 127.8M231.43 126L231.43 127.8M233.64 126L233.64 127.8M235.34 126L235.34 127.8M236.74 126L236.74 127.8M237.92 126L237.92 127.8M238.94 126L238.94 127.8M239.84 126L239.84 127.8M240.65 126L240.65 129.3M245.96 126L245.96 127.8M249.06 126L249.06 127.8M251.26 126L251.26 127.8M252.97 126L252.97 127.8M254.36 126L254.36 127.8M255.54 126L255.54 127.8M256.57 126L256.57 127.8M257.47 126L257.47 127.8M258.27 126L258.27 129.3M263.58 126L263.58 127.8M266.68 126L266.68 127.8M268.89 126L268.89 127.8M270.59 126L270.59 127.8M271.99 126L271.99 127.8M273.17 126L273.17 127.8M274.19 126L274.19 127.8M275.09 126L275.09 127.8M275.9 126L275.9 129.3M205.4 126L202.1 126M205.4 124.52L203.9 124.52M205.4 123.04L203.9 123.04M205.4 121.56L203.9 121.56M205.4 120.08L203.9 120.08M205.4 118.6L203.9 118.6M205.4 117.12L203.9 117.12M205.4 115.64L203.9 115.64M205.4 114.16L203.9 114.16M205.4 112.68L203.9 112.68M205.4 111.2L202.1 111.2M205.4 109.72L203.9 109.72M205.4 108.24L203.9 108.24M205.4 106.76L203.9 106.76M205.4 105.28L203.9 105.28M205.4 103.8L203.9 103.8M205.4 102.32L203.9 102.32M205.4 100.84L203.9 100.84M205.4 99.36L203.9 99.36M205.4 97.88L203.9 97.88M205.4 96.4L202.1 96.4M205.4 94.92L203.9 94.92M205.4 93.44L203.9 93.44M205.4 91.96L203.9 91.96M205.4 90.48L203.9 90.48M205.4 89L203.9 89M205.4 87.52L203.9 87.52M205.4 86.04L203.9 86.04M205.4 84.56L203.9 84.56M205.4 83.08L203.9 83.08M205.4 81.6L202.1 81.6M205.4 80.12L203.9 80.12M205.4 78.64L203.9 78.64M205.4 77.16L203.9 77.16M205.4 75.68L203.9 75.68M205.4 74.2L203.9 74.2M205.4 72.72L203.9 72.72M205.4 71.24L203.9 71.24M205.4 69.76L203.9 69.76M205.4 68.28L203.9 68.28M205.4 66.8L202.1 66.8M205.4 65.32L203.9 65.32M205.4 63.84L203.9 63.84M205.4 62.36L203.9 62.36M205.4 60.88L203.9 60.88M205.4 59.4L203.9 59.4M205.4 57.92L203.9 57.92M205.4 56.44L203.9 56.44M205.4 54.96L203.9 54.96M205.4 53.48L203.9 53.48M205.4 52L202.1 52M205.4 50.52L203.9 50.52M205.4 49.04L203.9 49.04M205.4 47.56L203.9 47.56M205.4 46.08L203.9 46.08M205.4 44.6L203.9 44.6M205.4 43.12L203.9 43.12M205.4 41.64L203.9 41.64M205.4 40.16L203.9 40.16M205.4 38.68L203.9 38.68M205.4 37.2L202.1 37.2" stroke="#111" stroke-width="0.85" fill="none"/>
<text font-size="6.6" text-anchor="end" transform="translate(206.4 136.7) scale(0.78 1)">10</text>
<text x="206.7" y="133.1" font-size="5.6">0</text>
<text font-size="6.6" text-anchor="end" transform="translate(224.03 136.7) scale(0.78 1)">10</text>
<text x="224.33" y="133.1" font-size="5.6">1</text>
<text font-size="6.6" text-anchor="end" transform="translate(241.65 136.7) scale(0.78 1)">10</text>
<text x="241.95" y="133.1" font-size="5.6">2</text>
<text font-size="6.6" text-anchor="end" transform="translate(259.27 136.7) scale(0.78 1)">10</text>
<text x="259.57" y="133.1" font-size="5.6">3</text>
<text font-size="6.6" text-anchor="end" transform="translate(276.9 136.7) scale(0.78 1)">10</text>
<text x="277.2" y="133.1" font-size="5.6">4</text>
<text x="239.75" y="143.5" font-size="6.4" text-anchor="middle">7-AAD</text>
<text x="200.8" y="124.5" font-size="6.5" text-anchor="middle" transform="rotate(-90 200.8 124.5)">0</text>
<text x="200.8" y="109.7" font-size="6.5" text-anchor="middle" transform="rotate(-90 200.8 109.7)">20</text>
<text x="200.8" y="94.9" font-size="6.5" text-anchor="middle" transform="rotate(-90 200.8 94.9)">40</text>
<text x="200.8" y="80.1" font-size="6.5" text-anchor="middle" transform="rotate(-90 200.8 80.1)">60</text>
<text x="200.8" y="65.3" font-size="6.5" text-anchor="middle" transform="rotate(-90 200.8 65.3)">80</text>
<text x="200.8" y="50.5" font-size="6.5" text-anchor="middle" transform="rotate(-90 200.8 50.5)">100</text>
<text x="200.8" y="35.7" font-size="6.5" text-anchor="middle" transform="rotate(-90 200.8 35.7)">120</text>
<path d="M363.97 76.46h1.25v1.25h-1.25zM364.3 74.53h1.25v1.25h-1.25zM370.5 77.49h1.25v1.25h-1.25zM379.71 76.21h1.25v1.25h-1.25zM368.24 77.03h1.25v1.25h-1.25zM370.06 77.22h1.25v1.25h-1.25zM386.84 74.7h1.25v1.25h-1.25zM379 78.05h1.25v1.25h-1.25zM356.67 77.46h1.25v1.25h-1.25zM379.51 74.6h1.25v1.25h-1.25zM372.47 75.12h1.25v1.25h-1.25zM373.18 81.13h1.25v1.25h-1.25zM372.5 73.46h1.25v1.25h-1.25zM356.38 79.31h1.25v1.25h-1.25zM375.96 71.62h1.25v1.25h-1.25zM385.96 70.64h1.25v1.25h-1.25zM364.52 74.92h1.25v1.25h-1.25zM375.98 75.68h1.25v1.25h-1.25zM369.93 75.9h1.25v1.25h-1.25zM376.46 77.33h1.25v1.25h-1.25zM374.25 77.76h1.25v1.25h-1.25zM382.68 73.69h1.25v1.25h-1.25zM375.6 77.97h1.25v1.25h-1.25zM378.78 73.25h1.25v1.25h-1.25zM368.44 76.84h1.25v1.25h-1.25zM386.66 75.45h1.25v1.25h-1.25zM377.9 79.67h1.25v1.25h-1.25zM376.6 76.76h1.25v1.25h-1.25zM376.35 71.97h1.25v1.25h-1.25zM381.11 73.05h1.25v1.25h-1.25zM375.85 73.72h1.25v1.25h-1.25zM360.1 71.88h1.25v1.25h-1.25zM374.08 72.36h1.25v1.25h-1.25zM379.96 73.51h1.25v1.25h-1.25zM379.05 70.8h1.25v1.25h-1.25zM370.86 76.66h1.25v1.25h-1.25zM383.34 76.64h1.25v1.25h-1.25zM380.24 74.42h1.25v1.25h-1.25zM379.34 73.73h1.25v1.25h-1.25zM374.38 79.54h1.25v1.25h-1.25zM367.34 72.86h1.25v1.25h-1.25zM371.12 71.16h1.25v1.25h-1.25zM373.5 75.57h1.25v1.25h-1.25zM372.03 76.96h1.25v1.25h-1.25zM368.28 77.5h1.25v1.25h-1.25zM371.08 76.46h1.25v1.25h-1.25zM370.6 74.22h1.25v1.25h-1.25zM388.08 76.42h1.25v1.25h-1.25zM375.23 74.57h1.25v1.25h-1.25zM362 75.39h1.25v1.25h-1.25zM377.78 74.46h1.25v1.25h-1.25zM375.4 77.39h1.25v1.25h-1.25zM374.03 72.32h1.25v1.25h-1.25zM365.96 74.44h1.25v1.25h-1.25zM367.76 80.84h1.25v1.25h-1.25zM378.13 71.21h1.25v1.25h-1.25zM369.53 72.97h1.25v1.25h-1.25zM370.16 72.84h1.25v1.25h-1.25zM370.22 75.8h1.25v1.25h-1.25zM367.73 76.56h1.25v1.25h-1.25zM370.08 78.32h1.25v1.25h-1.25zM365.47 73.31h1.25v1.25h-1.25zM374.64 79.92h1.25v1.25h-1.25zM386.82 75.1h1.25v1.25h-1.25zM373.5 73.67h1.25v1.25h-1.25zM370.89 79.55h1.25v1.25h-1.25zM373.43 79.05h1.25v1.25h-1.25zM360.12 79.62h1.25v1.25h-1.25zM373.38 75.09h1.25v1.25h-1.25zM370.33 71.87h1.25v1.25h-1.25zM371.93 77.13h1.25v1.25h-1.25zM375.76 75.54h1.25v1.25h-1.25zM379.84 76.14h1.25v1.25h-1.25zM374.59 76.14h1.25v1.25h-1.25zM383.47 73.46h1.25v1.25h-1.25zM370.05 76.06h1.25v1.25h-1.25zM368.74 69.53h1.25v1.25h-1.25zM376.44 74.7h1.25v1.25h-1.25zM367.14 74.85h1.25v1.25h-1.25zM362.86 75.32h1.25v1.25h-1.25zM375.85 78.18h1.25v1.25h-1.25zM391.54 70.17h1.25v1.25h-1.25zM364.73 76.85h1.25v1.25h-1.25zM370.2 74.97h1.25v1.25h-1.25zM362.33 77.49h1.25v1.25h-1.25zM363.96 74.52h1.25v1.25h-1.25zM374.54 71.44h1.25v1.25h-1.25zM377.77 72.1h1.25v1.25h-1.25zM379.16 74.56h1.25v1.25h-1.25zM372.73 76.45h1.25v1.25h-1.25zM373.98 73.45h1.25v1.25h-1.25zM379.41 67.96h1.25v1.25h-1.25zM374.55 71.18h1.25v1.25h-1.25zM381.01 77.37h1.25v1.25h-1.25zM358.28 73.31h1.25v1.25h-1.25zM379.14 77.91h1.25v1.25h-1.25zM382.97 78.38h1.25v1.25h-1.25zM364.19 75.75h1.25v1.25h-1.25zM370.01 79.72h1.25v1.25h-1.25zM381.39 72.22h1.25v1.25h-1.25zM381.1 77.03h1.25v1.25h-1.25zM377.33 79.98h1.25v1.25h-1.25zM379.18 74.1h1.25v1.25h-1.25zM365.46 73.64h1.25v1.25h-1.25zM361.9 77.66h1.25v1.25h-1.25zM358.97 79.14h1.25v1.25h-1.25zM396.95 74.39h1.25v1.25h-1.25zM393.99 70.23h1.25v1.25h-1.25zM363 77.34h1.25v1.25h-1.25zM373 74.82h1.25v1.25h-1.25zM361.2 71.02h1.25v1.25h-1.25zM381.13 70.02h1.25v1.25h-1.25zM366.95 80.23h1.25v1.25h-1.25zM378.8 73.36h1.25v1.25h-1.25zM368.99 74.2h1.25v1.25h-1.25zM358.75 78.16h1.25v1.25h-1.25zM371.3 79.6h1.25v1.25h-1.25zM363.44 73.92h1.25v1.25h-1.25zM384.06 73.48h1.25v1.25h-1.25zM352.82 77.13h1.25v1.25h-1.25zM383.54 74.87h1.25v1.25h-1.25zM376.65 72.98h1.25v1.25h-1.25zM381.11 72.78h1.25v1.25h-1.25zM367.02 74.83h1.25v1.25h-1.25zM396.48 69.76h1.25v1.25h-1.25zM354.15 76.1h1.25v1.25h-1.25zM391.17 73.3h1.25v1.25h-1.25zM363.57 80.54h1.25v1.25h-1.25zM388.87 72.14h1.25v1.25h-1.25zM380.62 77.8h1.25v1.25h-1.25zM384.94 77.47h1.25v1.25h-1.25zM375.66 69.44h1.25v1.25h-1.25zM372.09 77.22h1.25v1.25h-1.25zM395.23 71.59h1.25v1.25h-1.25zM374.8 80.06h1.25v1.25h-1.25zM377.37 75.1h1.25v1.25h-1.25zM378.96 74.41h1.25v1.25h-1.25zM371.72 72.55h1.25v1.25h-1.25zM374.85 82.2h1.25v1.25h-1.25zM374.69 89.86h1.25v1.25h-1.25zM375.97 85.13h1.25v1.25h-1.25zM380.59 83.54h1.25v1.25h-1.25zM376.72 88.31h1.25v1.25h-1.25zM378.88 89.84h1.25v1.25h-1.25zM381.2 87.67h1.25v1.25h-1.25zM378.61 80.12h1.25v1.25h-1.25zM373.21 90.43h1.25v1.25h-1.25zM374.37 85.86h1.25v1.25h-1.25zM376.98 85.59h1.25v1.25h-1.25zM378.26 86.05h1.25v1.25h-1.25zM377.65 95.52h1.25v1.25h-1.25zM375.83 102.04h1.25v1.25h-1.25zM379.34 103.45h1.25v1.25h-1.25zM378.18 105.71h1.25v1.25h-1.25zM374.07 107.18h1.25v1.25h-1.25zM377.04 104.62h1.25v1.25h-1.25zM394.67 97.6h1.25v1.25h-1.25zM383.55 106.64h1.25v1.25h-1.25zM369.5 101.93h1.25v1.25h-1.25zM392.96 98.25h1.25v1.25h-1.25zM369.18 102.36h1.25v1.25h-1.25zM387.87 104.79h1.25v1.25h-1.25zM382.79 99.06h1.25v1.25h-1.25zM381.08 100.95h1.25v1.25h-1.25zM380.61 105.25h1.25v1.25h-1.25zM379.45 94.93h1.25v1.25h-1.25zM381.22 105.08h1.25v1.25h-1.25zM376.77 99.41h1.25v1.25h-1.25zM389.37 105.78h1.25v1.25h-1.25zM386.98 100.56h1.25v1.25h-1.25zM386.91 100.8h1.25v1.25h-1.25zM383.15 101.5h1.25v1.25h-1.25zM384.61 98.1h1.25v1.25h-1.25zM382.42 104.59h1.25v1.25h-1.25zM382.53 103.31h1.25v1.25h-1.25zM381.75 100.6h1.25v1.25h-1.25zM385.2 102.84h1.25v1.25h-1.25zM383.99 100.07h1.25v1.25h-1.25zM381.28 103.11h1.25v1.25h-1.25zM380.01 107.83h1.25v1.25h-1.25zM376.13 105.61h1.25v1.25h-1.25zM370.11 101.59h1.25v1.25h-1.25zM379.88 102.72h1.25v1.25h-1.25zM392.09 104.28h1.25v1.25h-1.25zM381.12 107.67h1.25v1.25h-1.25zM375.63 104.18h1.25v1.25h-1.25zM377.67 102.15h1.25v1.25h-1.25zM392.85 107.95h1.25v1.25h-1.25zM388.01 107h1.25v1.25h-1.25zM398.82 104.66h1.25v1.25h-1.25zM370.93 113.27h1.25v1.25h-1.25zM380.69 115.04h1.25v1.25h-1.25zM358.64 104.73h1.25v1.25h-1.25zM372.4 104.66h1.25v1.25h-1.25zM382.88 100.06h1.25v1.25h-1.25zM390.77 95.08h1.25v1.25h-1.25zM388.77 108.04h1.25v1.25h-1.25zM370.79 102.07h1.25v1.25h-1.25zM373.08 108.9h1.25v1.25h-1.25zM379.09 103.06h1.25v1.25h-1.25zM388.28 110.79h1.25v1.25h-1.25zM383.7 112.89h1.25v1.25h-1.25zM373.54 97.27h1.25v1.25h-1.25zM382.95 110.23h1.25v1.25h-1.25zM375.02 103.09h1.25v1.25h-1.25zM386.41 113.81h1.25v1.25h-1.25zM379.61 117.1h1.25v1.25h-1.25zM386.94 113.84h1.25v1.25h-1.25zM397.25 104.91h1.25v1.25h-1.25zM369 110.69h1.25v1.25h-1.25zM370.22 106.74h1.25v1.25h-1.25zM388.02 108.53h1.25v1.25h-1.25zM374.08 103.46h1.25v1.25h-1.25zM389.5 94.62h1.25v1.25h-1.25zM374.14 102.39h1.25v1.25h-1.25zM385.56 101.34h1.25v1.25h-1.25zM401.99 99.29h1.25v1.25h-1.25zM368.93 109.27h1.25v1.25h-1.25zM375.82 109.52h1.25v1.25h-1.25zM383.35 108.19h1.25v1.25h-1.25zM369.27 115.78h1.25v1.25h-1.25zM381.51 112.74h1.25v1.25h-1.25zM380.48 101.29h1.25v1.25h-1.25zM393.76 107.26h1.25v1.25h-1.25zM351.32 112.85h1.25v1.25h-1.25zM347.03 117.56h1.25v1.25h-1.25zM350.81 108.11h1.25v1.25h-1.25zM349.18 109.44h1.25v1.25h-1.25zM344.83 111.1h1.25v1.25h-1.25zM348.25 109.72h1.25v1.25h-1.25zM348.15 117.48h1.25v1.25h-1.25zM347.64 115.07h1.25v1.25h-1.25zM350.73 114.31h1.25v1.25h-1.25zM347.64 112.15h1.25v1.25h-1.25zM348.3 124.52h1.25v1.25h-1.25zM350.95 108.86h1.25v1.25h-1.25zM348.62 108h1.25v1.25h-1.25zM350.1 111.47h1.25v1.25h-1.25zM348.57 116.42h1.25v1.25h-1.25zM348.99 121.99h1.25v1.25h-1.25zM347.59 113.78h1.25v1.25h-1.25zM353.16 94.65h1.25v1.25h-1.25zM348.58 97.45h1.25v1.25h-1.25zM358.92 98.11h1.25v1.25h-1.25zM357.01 94.31h1.25v1.25h-1.25zM358.06 94.36h1.25v1.25h-1.25zM349.41 99.19h1.25v1.25h-1.25zM364.22 107h1.25v1.25h-1.25zM351.81 106.28h1.25v1.25h-1.25zM347.13 63.74h1.25v1.25h-1.25zM371.7 75.52h1.25v1.25h-1.25zM374.68 60.59h1.25v1.25h-1.25zM402.42 83.47h1.25v1.25h-1.25zM377.42 62.61h1.25v1.25h-1.25zM400.77 116.31h1.25v1.25h-1.25zM393.41 112.15h1.25v1.25h-1.25zM384.14 116.46h1.25v1.25h-1.25zM405.61 62.01h1.25v1.25h-1.25zM404.9 67.24h1.25v1.25h-1.25zM413.79 72.99h1.25v1.25h-1.25zM396.15 74.4h1.25v1.25h-1.25zM395.08 111.76h1.25v1.25h-1.25zM365.07 97.56h1.25v1.25h-1.25zM358.58 117.01h1.25v1.25h-1.25zM351.77 108.29h1.25v1.25h-1.25zM350.03 85.66h1.25v1.25h-1.25zM371.36 124.03h1.25v1.25h-1.25zM359.67 82.14h1.25v1.25h-1.25zM365.45 90.66h1.25v1.25h-1.25zM350.03 123.45h1.25v1.25h-1.25zM360.48 113.71h1.25v1.25h-1.25zM375.39 85.93h1.25v1.25h-1.25zM366.35 93.6h1.25v1.25h-1.25zM350.45 102.49h1.25v1.25h-1.25zM347.34 123.55h1.25v1.25h-1.25zM369.82 114.34h1.25v1.25h-1.25zM409.21 70.88h1.25v1.25h-1.25zM407.88 68.73h1.25v1.25h-1.25zM405.52 80.67h1.25v1.25h-1.25zM404.58 83.54h1.25v1.25h-1.25z" fill="#000" fill-opacity="0.7"/>
<path d="M371.96 73.97h1.25v1.25h-1.25zM378.78 76.72h1.25v1.25h-1.25zM374.71 74.53h1.25v1.25h-1.25zM378.13 76.27h1.25v1.25h-1.25zM367.32 73.96h1.25v1.25h-1.25zM369.86 71.87h1.25v1.25h-1.25zM366.47 76.95h1.25v1.25h-1.25zM379.5 74.98h1.25v1.25h-1.25zM356.77 77.25h1.25v1.25h-1.25zM374.63 72.67h1.25v1.25h-1.25zM368.95 79.41h1.25v1.25h-1.25zM377.19 73.8h1.25v1.25h-1.25zM373 76.97h1.25v1.25h-1.25zM364.81 74.51h1.25v1.25h-1.25zM370.33 77.29h1.25v1.25h-1.25zM361.91 75.09h1.25v1.25h-1.25zM380.3 76.64h1.25v1.25h-1.25zM370.2 78.91h1.25v1.25h-1.25zM370.67 73.3h1.25v1.25h-1.25zM377.37 80.23h1.25v1.25h-1.25zM381.73 70.58h1.25v1.25h-1.25zM371.09 73.14h1.25v1.25h-1.25zM374.04 75.77h1.25v1.25h-1.25zM381.24 76.92h1.25v1.25h-1.25zM368.87 77.13h1.25v1.25h-1.25zM382.78 70.91h1.25v1.25h-1.25zM379.95 74.81h1.25v1.25h-1.25zM379.95 71.87h1.25v1.25h-1.25zM368.66 73.35h1.25v1.25h-1.25zM380.31 71.42h1.25v1.25h-1.25zM377.12 75.19h1.25v1.25h-1.25zM385.11 73.01h1.25v1.25h-1.25zM368.09 74.93h1.25v1.25h-1.25zM369.76 80.8h1.25v1.25h-1.25zM370.53 77.38h1.25v1.25h-1.25zM366.98 77.89h1.25v1.25h-1.25zM371 74.12h1.25v1.25h-1.25zM366.26 75.63h1.25v1.25h-1.25zM369.23 78.61h1.25v1.25h-1.25zM384.39 73.84h1.25v1.25h-1.25zM367.14 74.07h1.25v1.25h-1.25zM374.84 77.99h1.25v1.25h-1.25zM383.26 71.37h1.25v1.25h-1.25zM372.09 75.59h1.25v1.25h-1.25zM360.66 72.7h1.25v1.25h-1.25zM383.85 71.86h1.25v1.25h-1.25zM380.63 70.33h1.25v1.25h-1.25zM365.09 75.34h1.25v1.25h-1.25zM376.19 71.86h1.25v1.25h-1.25zM367.4 71.04h1.25v1.25h-1.25zM370.94 74.46h1.25v1.25h-1.25zM370.83 73.55h1.25v1.25h-1.25zM374.73 75.39h1.25v1.25h-1.25zM353.64 75.4h1.25v1.25h-1.25zM367.94 72.19h1.25v1.25h-1.25zM386.12 73.9h1.25v1.25h-1.25zM375.55 76.56h1.25v1.25h-1.25zM375.45 71h1.25v1.25h-1.25zM376.36 77.26h1.25v1.25h-1.25zM380.02 80.6h1.25v1.25h-1.25zM376.58 76.38h1.25v1.25h-1.25zM370.25 74.84h1.25v1.25h-1.25zM373.9 76.03h1.25v1.25h-1.25zM377.38 75.9h1.25v1.25h-1.25zM372.7 76.75h1.25v1.25h-1.25zM375.34 74.6h1.25v1.25h-1.25zM381.71 76.82h1.25v1.25h-1.25zM395.26 68.46h1.25v1.25h-1.25zM374.74 75.09h1.25v1.25h-1.25zM372.81 74.07h1.25v1.25h-1.25zM373.63 74.26h1.25v1.25h-1.25zM380.85 76.97h1.25v1.25h-1.25zM373.83 75.89h1.25v1.25h-1.25zM384.51 73.7h1.25v1.25h-1.25zM376.46 75.34h1.25v1.25h-1.25zM378.62 76.8h1.25v1.25h-1.25zM377.88 76.93h1.25v1.25h-1.25zM387.74 69.79h1.25v1.25h-1.25zM367.37 73.17h1.25v1.25h-1.25zM377.58 75.31h1.25v1.25h-1.25zM367.78 76.97h1.25v1.25h-1.25zM389.91 74.38h1.25v1.25h-1.25zM364.26 76.84h1.25v1.25h-1.25zM379.39 79.56h1.25v1.25h-1.25zM370.85 76.31h1.25v1.25h-1.25zM375.52 76.68h1.25v1.25h-1.25zM371.02 74.98h1.25v1.25h-1.25zM372.77 74.36h1.25v1.25h-1.25zM364.35 75.81h1.25v1.25h-1.25zM391.78 73.85h1.25v1.25h-1.25zM365.65 73.83h1.25v1.25h-1.25zM380.24 76.14h1.25v1.25h-1.25zM378.46 76.02h1.25v1.25h-1.25zM376.05 79.22h1.25v1.25h-1.25zM373.33 77.91h1.25v1.25h-1.25zM379.42 71.8h1.25v1.25h-1.25zM375.92 73.34h1.25v1.25h-1.25zM379.86 76.36h1.25v1.25h-1.25zM376.79 72.34h1.25v1.25h-1.25zM367.42 73.58h1.25v1.25h-1.25zM375.16 72.55h1.25v1.25h-1.25zM372.66 73.14h1.25v1.25h-1.25zM384.87 76.95h1.25v1.25h-1.25zM370.13 74.79h1.25v1.25h-1.25zM376.37 76.9h1.25v1.25h-1.25zM358.46 72.99h1.25v1.25h-1.25zM375.4 74.9h1.25v1.25h-1.25zM382.43 67.13h1.25v1.25h-1.25zM365.47 74.96h1.25v1.25h-1.25zM351.9 78.09h1.25v1.25h-1.25zM356.58 80.68h1.25v1.25h-1.25zM373.49 74.41h1.25v1.25h-1.25zM370.02 73.98h1.25v1.25h-1.25zM367.02 74.92h1.25v1.25h-1.25zM383.77 72.12h1.25v1.25h-1.25zM373.88 74.24h1.25v1.25h-1.25zM366.05 73.96h1.25v1.25h-1.25zM377.78 73.27h1.25v1.25h-1.25zM374.44 71.49h1.25v1.25h-1.25zM374.71 72.42h1.25v1.25h-1.25zM369.74 73.08h1.25v1.25h-1.25zM388.06 72.79h1.25v1.25h-1.25zM375.23 75.6h1.25v1.25h-1.25zM369.8 78.41h1.25v1.25h-1.25zM378.14 78.36h1.25v1.25h-1.25zM367.21 75.96h1.25v1.25h-1.25zM369.09 79.38h1.25v1.25h-1.25zM355.48 75.26h1.25v1.25h-1.25zM377.06 76.28h1.25v1.25h-1.25zM381.15 73.5h1.25v1.25h-1.25zM368.91 76.97h1.25v1.25h-1.25zM381.16 74.08h1.25v1.25h-1.25zM383.12 75.22h1.25v1.25h-1.25zM365.08 75.33h1.25v1.25h-1.25zM381.73 73h1.25v1.25h-1.25zM363.89 76.18h1.25v1.25h-1.25zM365.39 74.48h1.25v1.25h-1.25zM358.66 77.64h1.25v1.25h-1.25zM368.48 84.3h1.25v1.25h-1.25zM378.3 85.85h1.25v1.25h-1.25zM375.02 97.32h1.25v1.25h-1.25zM377.04 94.89h1.25v1.25h-1.25zM378.88 89.14h1.25v1.25h-1.25zM375.71 96.72h1.25v1.25h-1.25zM373.45 94.03h1.25v1.25h-1.25zM374.28 80.38h1.25v1.25h-1.25zM378.22 84.6h1.25v1.25h-1.25zM377.68 95.55h1.25v1.25h-1.25zM375.48 86.74h1.25v1.25h-1.25zM379.41 85.98h1.25v1.25h-1.25zM378.83 101.63h1.25v1.25h-1.25zM380.26 106.26h1.25v1.25h-1.25zM380.69 106.21h1.25v1.25h-1.25zM378.59 101.24h1.25v1.25h-1.25zM388.43 99.94h1.25v1.25h-1.25zM382.88 100.26h1.25v1.25h-1.25zM379.66 95.52h1.25v1.25h-1.25zM389.95 99.71h1.25v1.25h-1.25zM377.9 100.11h1.25v1.25h-1.25zM382.02 105.03h1.25v1.25h-1.25zM374.87 100.16h1.25v1.25h-1.25zM376.73 103.83h1.25v1.25h-1.25zM388.52 102.75h1.25v1.25h-1.25zM385.48 105.67h1.25v1.25h-1.25zM382.95 99.05h1.25v1.25h-1.25zM382.75 104.3h1.25v1.25h-1.25zM369.24 98.77h1.25v1.25h-1.25zM381.72 99.85h1.25v1.25h-1.25zM364.09 103.79h1.25v1.25h-1.25zM390.94 105.35h1.25v1.25h-1.25zM373.45 109.42h1.25v1.25h-1.25zM378.52 100.3h1.25v1.25h-1.25zM377.71 103.64h1.25v1.25h-1.25zM376.36 96.45h1.25v1.25h-1.25zM368.39 98.85h1.25v1.25h-1.25zM378.67 106.45h1.25v1.25h-1.25zM382.98 102.07h1.25v1.25h-1.25zM365.99 94.88h1.25v1.25h-1.25zM387.46 97.65h1.25v1.25h-1.25zM387.16 101.09h1.25v1.25h-1.25zM381.8 108.09h1.25v1.25h-1.25zM389.89 101.77h1.25v1.25h-1.25zM385.98 106.58h1.25v1.25h-1.25zM385.23 100.65h1.25v1.25h-1.25zM377.84 97.56h1.25v1.25h-1.25zM369.3 104.4h1.25v1.25h-1.25zM381.17 104.14h1.25v1.25h-1.25zM389.96 100.4h1.25v1.25h-1.25zM384.45 113.76h1.25v1.25h-1.25zM382.36 94.81h1.25v1.25h-1.25zM396.62 106.74h1.25v1.25h-1.25zM365.58 110.68h1.25v1.25h-1.25zM378.01 106.7h1.25v1.25h-1.25zM389.03 107.07h1.25v1.25h-1.25zM375.5 96.42h1.25v1.25h-1.25zM393.45 95.34h1.25v1.25h-1.25zM393.54 104.27h1.25v1.25h-1.25zM381.97 107.13h1.25v1.25h-1.25zM391.3 100.72h1.25v1.25h-1.25zM373.87 104.95h1.25v1.25h-1.25zM369.9 117.36h1.25v1.25h-1.25zM357.63 109.02h1.25v1.25h-1.25zM375.32 108.83h1.25v1.25h-1.25zM388.33 108.63h1.25v1.25h-1.25zM393.04 106.82h1.25v1.25h-1.25zM383.41 109.2h1.25v1.25h-1.25zM384.04 103.41h1.25v1.25h-1.25zM377.51 104.87h1.25v1.25h-1.25zM395.95 107.23h1.25v1.25h-1.25zM379.27 107.99h1.25v1.25h-1.25zM374.65 111.89h1.25v1.25h-1.25zM371.48 114.85h1.25v1.25h-1.25zM386.43 103.59h1.25v1.25h-1.25zM371.6 114.1h1.25v1.25h-1.25zM360.56 108.37h1.25v1.25h-1.25zM388.44 107.31h1.25v1.25h-1.25zM372.33 104.05h1.25v1.25h-1.25zM390.45 113.28h1.25v1.25h-1.25zM386.57 98.68h1.25v1.25h-1.25zM370.73 90.87h1.25v1.25h-1.25zM371.1 113.79h1.25v1.25h-1.25zM378.75 106.97h1.25v1.25h-1.25zM381.92 96.61h1.25v1.25h-1.25zM370.93 108.03h1.25v1.25h-1.25zM347.25 115.55h1.25v1.25h-1.25zM349.62 117.18h1.25v1.25h-1.25zM350.34 116.3h1.25v1.25h-1.25zM349.71 117.21h1.25v1.25h-1.25zM346.22 120.06h1.25v1.25h-1.25zM349.76 112h1.25v1.25h-1.25zM348.02 117.46h1.25v1.25h-1.25zM348.01 111h1.25v1.25h-1.25zM349.18 122.61h1.25v1.25h-1.25zM345.5 108.22h1.25v1.25h-1.25zM351.48 107.01h1.25v1.25h-1.25zM347.04 105.61h1.25v1.25h-1.25zM348.31 104.41h1.25v1.25h-1.25zM347.61 118.04h1.25v1.25h-1.25zM347.87 107.37h1.25v1.25h-1.25zM348.83 114.25h1.25v1.25h-1.25zM349.98 100.04h1.25v1.25h-1.25zM348.82 91.49h1.25v1.25h-1.25zM356.04 111h1.25v1.25h-1.25zM352.08 95.61h1.25v1.25h-1.25zM357.83 106.56h1.25v1.25h-1.25zM347.23 105.57h1.25v1.25h-1.25zM351.2 107.19h1.25v1.25h-1.25zM356.44 94.48h1.25v1.25h-1.25zM348.76 107.9h1.25v1.25h-1.25zM350.41 116.36h1.25v1.25h-1.25zM349.14 104.13h1.25v1.25h-1.25zM365.34 101.54h1.25v1.25h-1.25zM363.8 73.94h1.25v1.25h-1.25zM342.95 86.78h1.25v1.25h-1.25zM409.49 72.26h1.25v1.25h-1.25zM407.14 82.75h1.25v1.25h-1.25zM342.93 69.2h1.25v1.25h-1.25zM357.49 121.14h1.25v1.25h-1.25zM382.29 92.91h1.25v1.25h-1.25zM405.23 96.64h1.25v1.25h-1.25zM401.84 110.01h1.25v1.25h-1.25zM388.49 67.67h1.25v1.25h-1.25zM354.35 104.96h1.25v1.25h-1.25zM343.94 115.55h1.25v1.25h-1.25zM373.92 101.58h1.25v1.25h-1.25zM368.92 85.64h1.25v1.25h-1.25zM364.44 84.76h1.25v1.25h-1.25zM352.79 124.74h1.25v1.25h-1.25zM355.47 90.73h1.25v1.25h-1.25zM351.45 116.78h1.25v1.25h-1.25zM372.89 121.07h1.25v1.25h-1.25zM353.68 83.33h1.25v1.25h-1.25zM345.41 88.49h1.25v1.25h-1.25zM368.7 110.82h1.25v1.25h-1.25zM357.79 122.89h1.25v1.25h-1.25zM371.1 83.15h1.25v1.25h-1.25zM413.47 75.97h1.25v1.25h-1.25zM400.12 70.46h1.25v1.25h-1.25zM407.36 73.59h1.25v1.25h-1.25zM408 60.64h1.25v1.25h-1.25z" fill="#000" fill-opacity="0.7"/>
<path d="M380.76 74.57h1.25v1.25h-1.25zM382.35 78.92h1.25v1.25h-1.25zM388.55 75.8h1.25v1.25h-1.25zM370.9 74.23h1.25v1.25h-1.25zM372.74 75.52h1.25v1.25h-1.25zM377.96 75.86h1.25v1.25h-1.25zM375.51 77.48h1.25v1.25h-1.25zM368.72 78.43h1.25v1.25h-1.25zM382.27 79.23h1.25v1.25h-1.25zM374.08 75.32h1.25v1.25h-1.25zM378.63 71.47h1.25v1.25h-1.25zM370.79 80.21h1.25v1.25h-1.25zM369.33 71.88h1.25v1.25h-1.25zM389.35 70.56h1.25v1.25h-1.25zM372.92 71.88h1.25v1.25h-1.25zM371.76 75.98h1.25v1.25h-1.25zM371.66 72.81h1.25v1.25h-1.25zM374.3 71.3h1.25v1.25h-1.25zM374.65 77.17h1.25v1.25h-1.25zM363.21 75.92h1.25v1.25h-1.25zM375.49 77.96h1.25v1.25h-1.25zM373.12 72.88h1.25v1.25h-1.25zM375.72 72.91h1.25v1.25h-1.25zM379 71.69h1.25v1.25h-1.25zM375.37 73.45h1.25v1.25h-1.25zM367.1 78.77h1.25v1.25h-1.25zM378.27 74.75h1.25v1.25h-1.25zM382.68 76.53h1.25v1.25h-1.25zM369.23 73.56h1.25v1.25h-1.25zM384.08 73.09h1.25v1.25h-1.25zM376.09 75.25h1.25v1.25h-1.25zM375.57 74.68h1.25v1.25h-1.25zM374.25 76.05h1.25v1.25h-1.25zM365.42 73.55h1.25v1.25h-1.25zM387.17 68.08h1.25v1.25h-1.25zM380.28 76.69h1.25v1.25h-1.25zM364.95 74.79h1.25v1.25h-1.25zM377.47 76.94h1.25v1.25h-1.25zM367.45 77.39h1.25v1.25h-1.25zM377.75 77.05h1.25v1.25h-1.25zM381.41 73.64h1.25v1.25h-1.25zM372.53 72.2h1.25v1.25h-1.25zM360.3 80.37h1.25v1.25h-1.25zM377.34 75.1h1.25v1.25h-1.25zM377.17 76.16h1.25v1.25h-1.25zM362.18 74.62h1.25v1.25h-1.25zM369.21 73.31h1.25v1.25h-1.25zM381.75 69.85h1.25v1.25h-1.25zM358.26 71.06h1.25v1.25h-1.25zM369.94 73.42h1.25v1.25h-1.25zM382.35 73.62h1.25v1.25h-1.25zM364.03 74.23h1.25v1.25h-1.25zM369.14 73.78h1.25v1.25h-1.25zM378.75 73.39h1.25v1.25h-1.25zM375.11 76.13h1.25v1.25h-1.25zM360.01 78.35h1.25v1.25h-1.25zM376.86 75.21h1.25v1.25h-1.25zM387.38 73.37h1.25v1.25h-1.25zM378.66 77.73h1.25v1.25h-1.25zM382.49 72.38h1.25v1.25h-1.25zM372.77 72.24h1.25v1.25h-1.25zM382.04 73.89h1.25v1.25h-1.25zM377.04 76.44h1.25v1.25h-1.25zM361.42 78.08h1.25v1.25h-1.25zM359.6 78.38h1.25v1.25h-1.25zM365.54 81.24h1.25v1.25h-1.25zM378.82 77.53h1.25v1.25h-1.25zM378.49 75.84h1.25v1.25h-1.25zM376.68 80.54h1.25v1.25h-1.25zM377.03 73.79h1.25v1.25h-1.25zM378.12 73.08h1.25v1.25h-1.25zM374.75 74.92h1.25v1.25h-1.25zM384.96 78.36h1.25v1.25h-1.25zM373.22 73.69h1.25v1.25h-1.25zM373.81 72.68h1.25v1.25h-1.25zM375.94 75.42h1.25v1.25h-1.25zM371.72 75.7h1.25v1.25h-1.25zM375.34 71.63h1.25v1.25h-1.25zM385.03 72.45h1.25v1.25h-1.25zM378.26 77.81h1.25v1.25h-1.25zM378.9 77.99h1.25v1.25h-1.25zM387.86 77.49h1.25v1.25h-1.25zM373.73 74.77h1.25v1.25h-1.25zM388.04 75.83h1.25v1.25h-1.25zM389.99 75.84h1.25v1.25h-1.25zM378.16 73.85h1.25v1.25h-1.25zM367.26 74.39h1.25v1.25h-1.25zM375.15 76.84h1.25v1.25h-1.25zM375.09 73.92h1.25v1.25h-1.25zM379.7 72.77h1.25v1.25h-1.25zM379.31 71.7h1.25v1.25h-1.25zM369.07 79.9h1.25v1.25h-1.25zM382.98 77.79h1.25v1.25h-1.25zM373.33 70.77h1.25v1.25h-1.25zM369.21 72.19h1.25v1.25h-1.25zM378.21 73.42h1.25v1.25h-1.25zM373.62 73.37h1.25v1.25h-1.25zM375.2 72.52h1.25v1.25h-1.25zM372.37 72.6h1.25v1.25h-1.25zM369.82 75.71h1.25v1.25h-1.25zM384.16 79.71h1.25v1.25h-1.25zM371.57 75.8h1.25v1.25h-1.25zM370.06 76.76h1.25v1.25h-1.25zM378.56 72.56h1.25v1.25h-1.25zM377.23 78.66h1.25v1.25h-1.25zM380.08 73.66h1.25v1.25h-1.25zM385.83 75.92h1.25v1.25h-1.25zM382.82 69.51h1.25v1.25h-1.25zM365.88 74.99h1.25v1.25h-1.25zM358.15 74.91h1.25v1.25h-1.25zM397.28 72.4h1.25v1.25h-1.25zM371.59 74.31h1.25v1.25h-1.25zM377.18 74.28h1.25v1.25h-1.25zM365.35 72.95h1.25v1.25h-1.25zM354.94 75.95h1.25v1.25h-1.25zM360.5 73.56h1.25v1.25h-1.25zM373.77 75.98h1.25v1.25h-1.25zM364.39 80.64h1.25v1.25h-1.25zM395.72 75.92h1.25v1.25h-1.25zM381.35 74.37h1.25v1.25h-1.25zM376.88 71.81h1.25v1.25h-1.25zM374.72 70.42h1.25v1.25h-1.25zM370.38 68.98h1.25v1.25h-1.25zM376.49 71.84h1.25v1.25h-1.25zM381.29 71.91h1.25v1.25h-1.25zM370.58 75.97h1.25v1.25h-1.25zM378.95 75.27h1.25v1.25h-1.25zM373.86 71.52h1.25v1.25h-1.25zM379.17 71.65h1.25v1.25h-1.25zM367.13 77.25h1.25v1.25h-1.25zM384.87 69.28h1.25v1.25h-1.25zM388.16 73.47h1.25v1.25h-1.25zM363.62 75h1.25v1.25h-1.25zM388.68 70.05h1.25v1.25h-1.25zM361.97 79.24h1.25v1.25h-1.25zM381.81 78.98h1.25v1.25h-1.25zM376.69 70.94h1.25v1.25h-1.25zM369.74 72.68h1.25v1.25h-1.25zM373.37 95.46h1.25v1.25h-1.25zM373.07 88.92h1.25v1.25h-1.25zM370.33 86.74h1.25v1.25h-1.25zM374.79 84.32h1.25v1.25h-1.25zM380.15 85.18h1.25v1.25h-1.25zM371.39 85.2h1.25v1.25h-1.25zM381.42 83.15h1.25v1.25h-1.25zM378.94 93.07h1.25v1.25h-1.25zM377.46 95.25h1.25v1.25h-1.25zM370.93 90.92h1.25v1.25h-1.25zM376.05 89.93h1.25v1.25h-1.25zM373.19 81.08h1.25v1.25h-1.25zM382.75 96.36h1.25v1.25h-1.25zM375.32 101.83h1.25v1.25h-1.25zM378.11 101.75h1.25v1.25h-1.25zM383.75 108.66h1.25v1.25h-1.25zM377.93 104.9h1.25v1.25h-1.25zM369.15 107.69h1.25v1.25h-1.25zM372.78 107.28h1.25v1.25h-1.25zM379.99 100.22h1.25v1.25h-1.25zM385.14 104.04h1.25v1.25h-1.25zM381.56 102.12h1.25v1.25h-1.25zM373.63 98.43h1.25v1.25h-1.25zM378.95 103.8h1.25v1.25h-1.25zM381.38 107.28h1.25v1.25h-1.25zM380.77 106.03h1.25v1.25h-1.25zM386 104.8h1.25v1.25h-1.25zM376.13 102.84h1.25v1.25h-1.25zM373.74 105.82h1.25v1.25h-1.25zM383.95 103.71h1.25v1.25h-1.25zM378.33 104.38h1.25v1.25h-1.25zM385.98 98.79h1.25v1.25h-1.25zM385.6 99.84h1.25v1.25h-1.25zM375.41 108.54h1.25v1.25h-1.25zM389.3 98.4h1.25v1.25h-1.25zM379.38 107.97h1.25v1.25h-1.25zM374.72 96.37h1.25v1.25h-1.25zM372.96 101.95h1.25v1.25h-1.25zM377.21 104.26h1.25v1.25h-1.25zM374.03 104.84h1.25v1.25h-1.25zM368.05 108.42h1.25v1.25h-1.25zM381.47 100.83h1.25v1.25h-1.25zM376.45 102.99h1.25v1.25h-1.25zM382.78 106.29h1.25v1.25h-1.25zM389.67 98.86h1.25v1.25h-1.25zM389.46 105.63h1.25v1.25h-1.25zM387.52 108.53h1.25v1.25h-1.25zM398.59 110.81h1.25v1.25h-1.25zM382.47 104.83h1.25v1.25h-1.25zM365.96 111.17h1.25v1.25h-1.25zM382.14 103.33h1.25v1.25h-1.25zM399.61 99.76h1.25v1.25h-1.25zM375.7 106.21h1.25v1.25h-1.25zM386.67 109.03h1.25v1.25h-1.25zM384.52 101.1h1.25v1.25h-1.25zM383.08 111.68h1.25v1.25h-1.25zM377.56 98.45h1.25v1.25h-1.25zM364.52 98.39h1.25v1.25h-1.25zM376.76 112.67h1.25v1.25h-1.25zM387.95 108.04h1.25v1.25h-1.25zM357.94 100.85h1.25v1.25h-1.25zM376.6 104.9h1.25v1.25h-1.25zM367.39 96.35h1.25v1.25h-1.25zM366.11 99.92h1.25v1.25h-1.25zM384.79 106.43h1.25v1.25h-1.25zM386.34 106.46h1.25v1.25h-1.25zM380.26 105.97h1.25v1.25h-1.25zM394.71 102.41h1.25v1.25h-1.25zM376.55 104.66h1.25v1.25h-1.25zM381.09 107.3h1.25v1.25h-1.25zM394.45 111.01h1.25v1.25h-1.25zM370.62 93.08h1.25v1.25h-1.25zM373.27 106.22h1.25v1.25h-1.25zM392.38 114.43h1.25v1.25h-1.25zM385.86 96.36h1.25v1.25h-1.25zM366.85 101.75h1.25v1.25h-1.25zM378.83 102.66h1.25v1.25h-1.25zM374.07 101.3h1.25v1.25h-1.25zM368.78 114.89h1.25v1.25h-1.25zM380.74 100.44h1.25v1.25h-1.25zM395.57 101.37h1.25v1.25h-1.25zM395.1 97.29h1.25v1.25h-1.25zM380.58 114.08h1.25v1.25h-1.25zM391.61 108.3h1.25v1.25h-1.25zM383.13 110.78h1.25v1.25h-1.25zM384.46 99.67h1.25v1.25h-1.25zM348.62 117.03h1.25v1.25h-1.25zM348.39 120.12h1.25v1.25h-1.25zM349.19 114.03h1.25v1.25h-1.25zM347.58 116.03h1.25v1.25h-1.25zM346.34 98.65h1.25v1.25h-1.25zM349.46 99.91h1.25v1.25h-1.25zM347.33 98.16h1.25v1.25h-1.25zM348.9 111.26h1.25v1.25h-1.25zM347.92 109.1h1.25v1.25h-1.25zM348.72 104.72h1.25v1.25h-1.25zM348.94 111.76h1.25v1.25h-1.25zM346.75 112.09h1.25v1.25h-1.25zM349.35 111.1h1.25v1.25h-1.25zM346.55 114.99h1.25v1.25h-1.25zM348.38 110.85h1.25v1.25h-1.25zM348.72 114.53h1.25v1.25h-1.25zM348.07 100.68h1.25v1.25h-1.25zM349.52 100.77h1.25v1.25h-1.25zM346 87.91h1.25v1.25h-1.25zM350.01 90.88h1.25v1.25h-1.25zM346.32 104.57h1.25v1.25h-1.25zM356.51 97.08h1.25v1.25h-1.25zM352.18 87.05h1.25v1.25h-1.25zM360.3 92.84h1.25v1.25h-1.25zM352.1 113.81h1.25v1.25h-1.25zM386.61 100.12h1.25v1.25h-1.25zM408.98 81.14h1.25v1.25h-1.25zM364.37 104.87h1.25v1.25h-1.25zM397.48 60.53h1.25v1.25h-1.25zM396.82 103.73h1.25v1.25h-1.25zM393.82 111.71h1.25v1.25h-1.25zM409.51 87.44h1.25v1.25h-1.25zM355.14 106.51h1.25v1.25h-1.25zM415.38 82.19h1.25v1.25h-1.25zM342.73 119.28h1.25v1.25h-1.25zM381.7 62.75h1.25v1.25h-1.25zM410.42 91.73h1.25v1.25h-1.25zM342.7 88.5h1.25v1.25h-1.25zM353.06 122.43h1.25v1.25h-1.25zM366.07 119.32h1.25v1.25h-1.25zM367.8 85.64h1.25v1.25h-1.25zM356.78 98.15h1.25v1.25h-1.25zM373.88 85.41h1.25v1.25h-1.25zM344.38 84.43h1.25v1.25h-1.25zM374.33 116.36h1.25v1.25h-1.25zM367.93 88.19h1.25v1.25h-1.25zM358.44 98h1.25v1.25h-1.25zM353.83 84.18h1.25v1.25h-1.25zM362.02 93.37h1.25v1.25h-1.25zM352.62 117.31h1.25v1.25h-1.25zM377.13 96.72h1.25v1.25h-1.25zM373.96 86.37h1.25v1.25h-1.25zM389.02 80.84h1.25v1.25h-1.25zM407.22 67.49h1.25v1.25h-1.25zM411.6 74.7h1.25v1.25h-1.25zM408.62 69.88h1.25v1.25h-1.25z" fill="#000" fill-opacity="0.7"/>
<path d="M372.48 79.66h1.25v1.25h-1.25zM386.16 75.61h1.25v1.25h-1.25zM370.95 75.21h1.25v1.25h-1.25zM373.19 74.3h1.25v1.25h-1.25zM370.73 68.79h1.25v1.25h-1.25zM368.74 77.73h1.25v1.25h-1.25zM365.09 78.57h1.25v1.25h-1.25zM381.4 75.25h1.25v1.25h-1.25zM371.14 76.48h1.25v1.25h-1.25zM383.46 75.04h1.25v1.25h-1.25zM375.36 77.93h1.25v1.25h-1.25zM371.55 81.14h1.25v1.25h-1.25zM384.18 77.96h1.25v1.25h-1.25zM374.25 72.37h1.25v1.25h-1.25zM384.95 74.47h1.25v1.25h-1.25zM370.51 77.04h1.25v1.25h-1.25zM374.41 77.53h1.25v1.25h-1.25zM380.02 73.52h1.25v1.25h-1.25zM374.81 74.82h1.25v1.25h-1.25zM378.29 77.02h1.25v1.25h-1.25zM374.28 72.46h1.25v1.25h-1.25zM367.4 75.58h1.25v1.25h-1.25zM382.56 72.93h1.25v1.25h-1.25zM375.32 72.36h1.25v1.25h-1.25zM375.65 76.7h1.25v1.25h-1.25zM372.82 76.39h1.25v1.25h-1.25zM380.03 77.88h1.25v1.25h-1.25zM366.54 75.03h1.25v1.25h-1.25zM366.9 77.16h1.25v1.25h-1.25zM367.72 76.69h1.25v1.25h-1.25zM379.29 74.64h1.25v1.25h-1.25zM376.69 80.44h1.25v1.25h-1.25zM360.18 72.35h1.25v1.25h-1.25zM379.02 74.7h1.25v1.25h-1.25zM369.44 75.55h1.25v1.25h-1.25zM384.91 72.82h1.25v1.25h-1.25zM367.88 74.39h1.25v1.25h-1.25zM375.9 76.96h1.25v1.25h-1.25zM372.29 74.36h1.25v1.25h-1.25zM371.68 79.92h1.25v1.25h-1.25zM380.33 73.48h1.25v1.25h-1.25zM368.69 72.5h1.25v1.25h-1.25zM377.2 73.89h1.25v1.25h-1.25zM372.68 76.5h1.25v1.25h-1.25zM383.41 69.95h1.25v1.25h-1.25zM373.69 78.12h1.25v1.25h-1.25zM382.1 74.69h1.25v1.25h-1.25zM365.6 74.77h1.25v1.25h-1.25zM375.56 77.38h1.25v1.25h-1.25zM373.43 76.06h1.25v1.25h-1.25zM380.14 78.68h1.25v1.25h-1.25zM373.72 70.35h1.25v1.25h-1.25zM380.86 76.02h1.25v1.25h-1.25zM378.07 73.07h1.25v1.25h-1.25zM376.47 74.55h1.25v1.25h-1.25zM373.14 75.82h1.25v1.25h-1.25zM359.34 76.98h1.25v1.25h-1.25zM369.66 72.36h1.25v1.25h-1.25zM364.82 82.38h1.25v1.25h-1.25zM371.62 74.08h1.25v1.25h-1.25zM377.08 73.79h1.25v1.25h-1.25zM377.23 73.95h1.25v1.25h-1.25zM387.41 72.17h1.25v1.25h-1.25zM375.1 75.73h1.25v1.25h-1.25zM378.4 71.99h1.25v1.25h-1.25zM375.73 75.68h1.25v1.25h-1.25zM372.88 69.95h1.25v1.25h-1.25zM368.75 70.53h1.25v1.25h-1.25zM367.64 71.04h1.25v1.25h-1.25zM364.09 77.15h1.25v1.25h-1.25zM369.4 76.76h1.25v1.25h-1.25zM367.69 76.1h1.25v1.25h-1.25zM369.45 68.38h1.25v1.25h-1.25zM375.98 71.83h1.25v1.25h-1.25zM370.27 75.51h1.25v1.25h-1.25zM371.78 75.33h1.25v1.25h-1.25zM375.23 74.33h1.25v1.25h-1.25zM369.03 73.13h1.25v1.25h-1.25zM368.95 78.95h1.25v1.25h-1.25zM378.52 77.43h1.25v1.25h-1.25zM363.15 81.97h1.25v1.25h-1.25zM375.13 73.03h1.25v1.25h-1.25zM366.75 72.63h1.25v1.25h-1.25zM379.05 76.29h1.25v1.25h-1.25zM382.42 76.54h1.25v1.25h-1.25zM366.36 75.87h1.25v1.25h-1.25zM374.04 72.56h1.25v1.25h-1.25zM370.52 75.43h1.25v1.25h-1.25zM387.41 72.92h1.25v1.25h-1.25zM367.49 73.86h1.25v1.25h-1.25zM379.94 78.63h1.25v1.25h-1.25zM362.02 79.35h1.25v1.25h-1.25zM369.44 76.69h1.25v1.25h-1.25zM370.85 74.63h1.25v1.25h-1.25zM370.98 77.6h1.25v1.25h-1.25zM370.99 80.14h1.25v1.25h-1.25zM373.25 74.81h1.25v1.25h-1.25zM373.34 71.67h1.25v1.25h-1.25zM368.43 74.46h1.25v1.25h-1.25zM369.24 73.24h1.25v1.25h-1.25zM369.41 73.9h1.25v1.25h-1.25zM375.7 78.02h1.25v1.25h-1.25zM365.09 76.96h1.25v1.25h-1.25zM359.87 74.87h1.25v1.25h-1.25zM368.06 82.4h1.25v1.25h-1.25zM376.11 67.06h1.25v1.25h-1.25zM365.2 68.43h1.25v1.25h-1.25zM375.19 73.76h1.25v1.25h-1.25zM373.59 73.88h1.25v1.25h-1.25zM353.68 82.4h1.25v1.25h-1.25zM383.21 72.15h1.25v1.25h-1.25zM367.62 74.62h1.25v1.25h-1.25zM361.06 78.28h1.25v1.25h-1.25zM361.75 70.99h1.25v1.25h-1.25zM392.34 63.12h1.25v1.25h-1.25zM362.9 80.32h1.25v1.25h-1.25zM379.17 71.86h1.25v1.25h-1.25zM375.95 73.24h1.25v1.25h-1.25zM398.55 80.38h1.25v1.25h-1.25zM370.96 73.76h1.25v1.25h-1.25zM368.15 77.58h1.25v1.25h-1.25zM367.02 70.5h1.25v1.25h-1.25zM395.38 74.65h1.25v1.25h-1.25zM378.78 83.52h1.25v1.25h-1.25zM374.49 74.8h1.25v1.25h-1.25zM359.1 76.27h1.25v1.25h-1.25zM380.57 69.13h1.25v1.25h-1.25zM378.68 71.34h1.25v1.25h-1.25zM383.61 77.46h1.25v1.25h-1.25zM379.1 75.6h1.25v1.25h-1.25zM367.41 75.92h1.25v1.25h-1.25zM369.85 74.72h1.25v1.25h-1.25zM379.75 74.25h1.25v1.25h-1.25zM364.84 71h1.25v1.25h-1.25zM375.99 73.37h1.25v1.25h-1.25zM384.97 81h1.25v1.25h-1.25zM374.86 76.53h1.25v1.25h-1.25zM364.08 80.29h1.25v1.25h-1.25zM375.03 79.93h1.25v1.25h-1.25zM378.21 90.68h1.25v1.25h-1.25zM372.45 89.25h1.25v1.25h-1.25zM370.75 95.35h1.25v1.25h-1.25zM374.03 88.28h1.25v1.25h-1.25zM375.38 92.91h1.25v1.25h-1.25zM373.99 87.54h1.25v1.25h-1.25zM376.89 88.07h1.25v1.25h-1.25zM381.52 99.49h1.25v1.25h-1.25zM377.15 94.28h1.25v1.25h-1.25zM377.4 93.81h1.25v1.25h-1.25zM375.61 92.02h1.25v1.25h-1.25zM384.14 101.9h1.25v1.25h-1.25zM373.45 101.82h1.25v1.25h-1.25zM381.93 101.39h1.25v1.25h-1.25zM381.86 101.73h1.25v1.25h-1.25zM382.28 102.83h1.25v1.25h-1.25zM386.02 102.49h1.25v1.25h-1.25zM377.57 94.95h1.25v1.25h-1.25zM374.51 106.31h1.25v1.25h-1.25zM383.27 106.56h1.25v1.25h-1.25zM383.56 105.1h1.25v1.25h-1.25zM374.92 103.23h1.25v1.25h-1.25zM383.32 98.06h1.25v1.25h-1.25zM389.74 105.43h1.25v1.25h-1.25zM372.89 107.58h1.25v1.25h-1.25zM381.11 107.51h1.25v1.25h-1.25zM386.66 101h1.25v1.25h-1.25zM387.19 100.75h1.25v1.25h-1.25zM374.24 109.18h1.25v1.25h-1.25zM384.95 107.56h1.25v1.25h-1.25zM368.81 102.23h1.25v1.25h-1.25zM377.56 88.78h1.25v1.25h-1.25zM393.1 105.09h1.25v1.25h-1.25zM377.97 105.38h1.25v1.25h-1.25zM371.93 100.09h1.25v1.25h-1.25zM385.55 97.78h1.25v1.25h-1.25zM386.9 98.62h1.25v1.25h-1.25zM376.07 99.4h1.25v1.25h-1.25zM388.38 101.48h1.25v1.25h-1.25zM380.49 103.59h1.25v1.25h-1.25zM379.02 100.15h1.25v1.25h-1.25zM379.17 106.05h1.25v1.25h-1.25zM381.71 99.54h1.25v1.25h-1.25zM382.15 107.14h1.25v1.25h-1.25zM380.82 103.51h1.25v1.25h-1.25zM377.21 104.56h1.25v1.25h-1.25zM367.39 103.47h1.25v1.25h-1.25zM387.52 108.98h1.25v1.25h-1.25zM366.41 99.97h1.25v1.25h-1.25zM368.48 101.78h1.25v1.25h-1.25zM383.14 96.99h1.25v1.25h-1.25zM374.04 108.08h1.25v1.25h-1.25zM383.58 108.7h1.25v1.25h-1.25zM375.75 113h1.25v1.25h-1.25zM385.5 108.11h1.25v1.25h-1.25zM384.74 112.12h1.25v1.25h-1.25zM364.33 96.62h1.25v1.25h-1.25zM373.87 111.75h1.25v1.25h-1.25zM391.95 95.89h1.25v1.25h-1.25zM377.87 109.48h1.25v1.25h-1.25zM373.47 99.79h1.25v1.25h-1.25zM367.14 99.85h1.25v1.25h-1.25zM403.86 114.84h1.25v1.25h-1.25zM375.29 108.65h1.25v1.25h-1.25zM388.75 99.27h1.25v1.25h-1.25zM388.92 99.02h1.25v1.25h-1.25zM384.3 95.02h1.25v1.25h-1.25zM360.86 106.85h1.25v1.25h-1.25zM374.37 105.9h1.25v1.25h-1.25zM363.97 101.05h1.25v1.25h-1.25zM374.33 102.41h1.25v1.25h-1.25zM392.74 108.97h1.25v1.25h-1.25zM376.88 108.43h1.25v1.25h-1.25zM404.82 100.7h1.25v1.25h-1.25zM370.24 110.46h1.25v1.25h-1.25zM384.45 104.37h1.25v1.25h-1.25zM389.78 105.73h1.25v1.25h-1.25zM370.8 99.78h1.25v1.25h-1.25zM375.26 100.52h1.25v1.25h-1.25zM377.79 110.72h1.25v1.25h-1.25zM377.26 117.7h1.25v1.25h-1.25zM390.7 102.3h1.25v1.25h-1.25zM388.47 108.73h1.25v1.25h-1.25zM395.16 105.39h1.25v1.25h-1.25zM372.87 94.82h1.25v1.25h-1.25zM347.08 107.62h1.25v1.25h-1.25zM346.6 117.16h1.25v1.25h-1.25zM347.75 106.17h1.25v1.25h-1.25zM347.67 118.47h1.25v1.25h-1.25zM347.61 109.49h1.25v1.25h-1.25zM348.44 111.09h1.25v1.25h-1.25zM347.44 102.07h1.25v1.25h-1.25zM345.94 116.31h1.25v1.25h-1.25zM349.43 119.77h1.25v1.25h-1.25zM348.59 119.52h1.25v1.25h-1.25zM350.32 113.36h1.25v1.25h-1.25zM348.91 104.85h1.25v1.25h-1.25zM349 113.14h1.25v1.25h-1.25zM347.26 120.02h1.25v1.25h-1.25zM349.62 106.8h1.25v1.25h-1.25zM347.06 110.84h1.25v1.25h-1.25zM353.04 104.22h1.25v1.25h-1.25zM350.46 91.85h1.25v1.25h-1.25zM351.5 91.42h1.25v1.25h-1.25zM354.42 106.49h1.25v1.25h-1.25zM346.71 94.62h1.25v1.25h-1.25zM353.89 98.25h1.25v1.25h-1.25zM359.63 77.95h1.25v1.25h-1.25zM352.86 84.87h1.25v1.25h-1.25zM350.31 100.74h1.25v1.25h-1.25zM343.92 86.84h1.25v1.25h-1.25zM365.03 71.15h1.25v1.25h-1.25zM414.13 88.28h1.25v1.25h-1.25zM394.61 65.44h1.25v1.25h-1.25zM383.02 76.86h1.25v1.25h-1.25zM390.16 90.96h1.25v1.25h-1.25zM403.77 113.09h1.25v1.25h-1.25zM411.49 121.52h1.25v1.25h-1.25zM346.1 110.5h1.25v1.25h-1.25zM373.66 86.26h1.25v1.25h-1.25zM359.92 117.19h1.25v1.25h-1.25zM353.86 106.78h1.25v1.25h-1.25zM404.64 79.63h1.25v1.25h-1.25zM377.76 98.06h1.25v1.25h-1.25zM344.7 86.25h1.25v1.25h-1.25zM346.99 123.86h1.25v1.25h-1.25zM379.02 95.08h1.25v1.25h-1.25zM359.1 96.22h1.25v1.25h-1.25zM366.28 106.15h1.25v1.25h-1.25zM374.42 100.81h1.25v1.25h-1.25zM375.01 110.13h1.25v1.25h-1.25zM367.29 102.07h1.25v1.25h-1.25zM376.72 100.98h1.25v1.25h-1.25zM356.51 100.74h1.25v1.25h-1.25zM343.02 111.06h1.25v1.25h-1.25zM372.23 89.6h1.25v1.25h-1.25zM359.32 112.24h1.25v1.25h-1.25zM399.47 70.52h1.25v1.25h-1.25zM404.99 74.06h1.25v1.25h-1.25zM407.03 76.49h1.25v1.25h-1.25zM399.18 67.51h1.25v1.25h-1.25z" fill="#000" fill-opacity="0.7"/>
<path d="M370.28 72.16h1.25v1.25h-1.25zM383.63 75.89h1.25v1.25h-1.25zM390.79 73.04h1.25v1.25h-1.25zM380.45 78.5h1.25v1.25h-1.25zM384.13 73.56h1.25v1.25h-1.25zM376.79 72.01h1.25v1.25h-1.25zM381.21 76.28h1.25v1.25h-1.25zM375.62 76.83h1.25v1.25h-1.25zM373.38 69.52h1.25v1.25h-1.25zM398.93 71.9h1.25v1.25h-1.25zM364.35 76.34h1.25v1.25h-1.25zM363.26 75.57h1.25v1.25h-1.25zM369.53 76.29h1.25v1.25h-1.25zM361.01 73.29h1.25v1.25h-1.25zM384.04 71.57h1.25v1.25h-1.25zM383.62 72.61h1.25v1.25h-1.25zM369.57 78.8h1.25v1.25h-1.25zM381.97 74.84h1.25v1.25h-1.25zM370.53 76.87h1.25v1.25h-1.25zM363.22 72.95h1.25v1.25h-1.25zM368.95 72.16h1.25v1.25h-1.25zM372.78 76.38h1.25v1.25h-1.25zM363.42 79.2h1.25v1.25h-1.25zM369.86 74.04h1.25v1.25h-1.25zM382.29 73.72h1.25v1.25h-1.25zM382.43 70.71h1.25v1.25h-1.25zM372.83 76.66h1.25v1.25h-1.25zM363.97 75.25h1.25v1.25h-1.25zM372.6 73.14h1.25v1.25h-1.25zM364.67 73.19h1.25v1.25h-1.25zM382.25 76.77h1.25v1.25h-1.25zM369.33 75.67h1.25v1.25h-1.25zM385.8 73.61h1.25v1.25h-1.25zM362.81 76.43h1.25v1.25h-1.25zM367.68 73.36h1.25v1.25h-1.25zM374.13 77.6h1.25v1.25h-1.25zM371.79 77.38h1.25v1.25h-1.25zM369.81 77.09h1.25v1.25h-1.25zM372.39 74.12h1.25v1.25h-1.25zM374.63 76.59h1.25v1.25h-1.25zM367.62 76.07h1.25v1.25h-1.25zM372.35 72.85h1.25v1.25h-1.25zM377.58 72.44h1.25v1.25h-1.25zM383.78 77.43h1.25v1.25h-1.25zM381.67 73.05h1.25v1.25h-1.25zM376.73 74.09h1.25v1.25h-1.25zM369.7 77.34h1.25v1.25h-1.25zM377.68 72.69h1.25v1.25h-1.25zM377.2 70.76h1.25v1.25h-1.25zM375.51 75.39h1.25v1.25h-1.25zM385.82 68.63h1.25v1.25h-1.25zM373.85 72.96h1.25v1.25h-1.25zM368.78 76.59h1.25v1.25h-1.25zM376.19 74.48h1.25v1.25h-1.25zM377.55 77.07h1.25v1.25h-1.25zM387.81 72.48h1.25v1.25h-1.25zM381.53 73.1h1.25v1.25h-1.25zM378.07 77.12h1.25v1.25h-1.25zM370.38 72.55h1.25v1.25h-1.25zM369.89 74.97h1.25v1.25h-1.25zM388.25 76.88h1.25v1.25h-1.25zM372.88 78.23h1.25v1.25h-1.25zM370.24 73.01h1.25v1.25h-1.25zM374.74 74.76h1.25v1.25h-1.25zM377.76 75.49h1.25v1.25h-1.25zM373 80.33h1.25v1.25h-1.25zM355.67 79.44h1.25v1.25h-1.25zM373.87 79.3h1.25v1.25h-1.25zM379.91 73.22h1.25v1.25h-1.25zM373.15 70.38h1.25v1.25h-1.25zM372.89 73.59h1.25v1.25h-1.25zM371.83 77.33h1.25v1.25h-1.25zM378.13 70.86h1.25v1.25h-1.25zM378.16 75.54h1.25v1.25h-1.25zM377.8 77.32h1.25v1.25h-1.25zM372.45 70.87h1.25v1.25h-1.25zM384.37 73.69h1.25v1.25h-1.25zM379.31 71.91h1.25v1.25h-1.25zM375.07 77.77h1.25v1.25h-1.25zM379.27 72.75h1.25v1.25h-1.25zM363.45 76.01h1.25v1.25h-1.25zM371.79 72.04h1.25v1.25h-1.25zM379.58 72.2h1.25v1.25h-1.25zM372.73 74.68h1.25v1.25h-1.25zM370.2 73.78h1.25v1.25h-1.25zM375.97 69.95h1.25v1.25h-1.25zM379.08 76.27h1.25v1.25h-1.25zM379.83 73.73h1.25v1.25h-1.25zM363.95 75.55h1.25v1.25h-1.25zM372.71 74.05h1.25v1.25h-1.25zM367.89 77.83h1.25v1.25h-1.25zM375.75 72.33h1.25v1.25h-1.25zM369.2 68.22h1.25v1.25h-1.25zM375.93 73.86h1.25v1.25h-1.25zM382.58 71.83h1.25v1.25h-1.25zM373.96 76.31h1.25v1.25h-1.25zM363.54 73.97h1.25v1.25h-1.25zM377.73 70.83h1.25v1.25h-1.25zM368.23 76.02h1.25v1.25h-1.25zM369.56 77.89h1.25v1.25h-1.25zM381.83 76.07h1.25v1.25h-1.25zM379.29 72.76h1.25v1.25h-1.25zM374.72 76.11h1.25v1.25h-1.25zM379.64 76.69h1.25v1.25h-1.25zM386.35 69.73h1.25v1.25h-1.25zM367.2 76.8h1.25v1.25h-1.25zM372.41 73.33h1.25v1.25h-1.25zM375.98 74.41h1.25v1.25h-1.25zM366.76 79.17h1.25v1.25h-1.25zM356.06 74.84h1.25v1.25h-1.25zM363.74 81.4h1.25v1.25h-1.25zM370.12 73.59h1.25v1.25h-1.25zM361.54 73.02h1.25v1.25h-1.25zM364.01 75.23h1.25v1.25h-1.25zM371.38 70.7h1.25v1.25h-1.25zM373.34 67.53h1.25v1.25h-1.25zM370.58 76.96h1.25v1.25h-1.25zM344.1 80.21h1.25v1.25h-1.25zM355.58 77.86h1.25v1.25h-1.25zM384.3 75.34h1.25v1.25h-1.25zM376.86 73.5h1.25v1.25h-1.25zM379.3 75.97h1.25v1.25h-1.25zM384.4 76.48h1.25v1.25h-1.25zM374.65 76.11h1.25v1.25h-1.25zM385.07 77.18h1.25v1.25h-1.25zM380.84 78.23h1.25v1.25h-1.25zM365.25 72.1h1.25v1.25h-1.25zM359.67 71.2h1.25v1.25h-1.25zM360.26 78.3h1.25v1.25h-1.25zM370.09 78.8h1.25v1.25h-1.25zM359.86 75.26h1.25v1.25h-1.25zM379.03 68.01h1.25v1.25h-1.25zM377.21 80.74h1.25v1.25h-1.25zM386.72 72.09h1.25v1.25h-1.25zM377.56 71.94h1.25v1.25h-1.25zM384.42 73.81h1.25v1.25h-1.25zM392.76 72.96h1.25v1.25h-1.25zM389.36 75.14h1.25v1.25h-1.25zM380.91 91.15h1.25v1.25h-1.25zM372.21 83.36h1.25v1.25h-1.25zM382.57 89.98h1.25v1.25h-1.25zM375.61 94.85h1.25v1.25h-1.25zM374.27 87.07h1.25v1.25h-1.25zM378.17 90.7h1.25v1.25h-1.25zM377.27 88.61h1.25v1.25h-1.25zM375.69 87.58h1.25v1.25h-1.25zM385.53 80.78h1.25v1.25h-1.25zM377.76 84.75h1.25v1.25h-1.25zM378.43 79.52h1.25v1.25h-1.25zM373.06 89.79h1.25v1.25h-1.25zM385.81 100.51h1.25v1.25h-1.25zM382.25 107.42h1.25v1.25h-1.25zM381.44 102.09h1.25v1.25h-1.25zM384.98 103.98h1.25v1.25h-1.25zM387.96 96.31h1.25v1.25h-1.25zM382.54 106.02h1.25v1.25h-1.25zM372.16 108.47h1.25v1.25h-1.25zM381.4 99.87h1.25v1.25h-1.25zM378 102.49h1.25v1.25h-1.25zM381.15 101.36h1.25v1.25h-1.25zM371.66 98.41h1.25v1.25h-1.25zM368.28 106.39h1.25v1.25h-1.25zM382.29 100.47h1.25v1.25h-1.25zM381.49 94.95h1.25v1.25h-1.25zM376.93 103.98h1.25v1.25h-1.25zM383.96 103.23h1.25v1.25h-1.25zM370.89 108.32h1.25v1.25h-1.25zM380.06 103.9h1.25v1.25h-1.25zM367.52 103.42h1.25v1.25h-1.25zM379.22 103.14h1.25v1.25h-1.25zM372.3 102.71h1.25v1.25h-1.25zM376.37 94.72h1.25v1.25h-1.25zM385.6 101.32h1.25v1.25h-1.25zM386.34 107.32h1.25v1.25h-1.25zM394.91 96.77h1.25v1.25h-1.25zM396.79 95.95h1.25v1.25h-1.25zM390.77 94.6h1.25v1.25h-1.25zM388.3 102.1h1.25v1.25h-1.25zM387.15 103.35h1.25v1.25h-1.25zM384.72 98.53h1.25v1.25h-1.25zM379.48 104.65h1.25v1.25h-1.25zM381.39 101.06h1.25v1.25h-1.25zM376.34 100.67h1.25v1.25h-1.25zM384.32 101.98h1.25v1.25h-1.25zM380.92 99.9h1.25v1.25h-1.25zM374.11 104.06h1.25v1.25h-1.25zM384.85 102.88h1.25v1.25h-1.25zM378.71 100.78h1.25v1.25h-1.25zM372.68 106.35h1.25v1.25h-1.25zM389.1 105.89h1.25v1.25h-1.25zM376.14 101.26h1.25v1.25h-1.25zM358.79 104.64h1.25v1.25h-1.25zM392.97 104.89h1.25v1.25h-1.25zM379.63 106.23h1.25v1.25h-1.25zM375.68 108.7h1.25v1.25h-1.25zM382.24 108.31h1.25v1.25h-1.25zM377.89 96.35h1.25v1.25h-1.25zM385.7 113.37h1.25v1.25h-1.25zM386.6 107.98h1.25v1.25h-1.25zM385.08 101.93h1.25v1.25h-1.25zM379.92 111.65h1.25v1.25h-1.25zM381.06 100.84h1.25v1.25h-1.25zM386.33 115.79h1.25v1.25h-1.25zM370.99 100.19h1.25v1.25h-1.25zM380.42 100.45h1.25v1.25h-1.25zM384 106.69h1.25v1.25h-1.25zM372.26 106.39h1.25v1.25h-1.25zM375.22 106.8h1.25v1.25h-1.25zM363.8 107.81h1.25v1.25h-1.25zM381.77 108.68h1.25v1.25h-1.25zM388.84 111.2h1.25v1.25h-1.25zM358.2 105.59h1.25v1.25h-1.25zM370.4 98.49h1.25v1.25h-1.25zM372.96 106.6h1.25v1.25h-1.25zM380.42 106.41h1.25v1.25h-1.25zM368.34 97.81h1.25v1.25h-1.25zM382.7 99.75h1.25v1.25h-1.25zM381.22 106.06h1.25v1.25h-1.25zM385.4 102.1h1.25v1.25h-1.25zM374.47 109.03h1.25v1.25h-1.25zM372.5 95.47h1.25v1.25h-1.25zM373.74 100.76h1.25v1.25h-1.25zM387.88 118.18h1.25v1.25h-1.25zM391.22 97.99h1.25v1.25h-1.25zM347.12 114.76h1.25v1.25h-1.25zM349.98 112.02h1.25v1.25h-1.25zM349.77 113.3h1.25v1.25h-1.25zM350.58 106.57h1.25v1.25h-1.25zM345.37 112.3h1.25v1.25h-1.25zM347.33 115.43h1.25v1.25h-1.25zM346.82 108.89h1.25v1.25h-1.25zM346.47 116.7h1.25v1.25h-1.25zM346.8 119.03h1.25v1.25h-1.25zM349.15 107.87h1.25v1.25h-1.25zM348.26 111h1.25v1.25h-1.25zM347.4 106.25h1.25v1.25h-1.25zM346.23 113.63h1.25v1.25h-1.25zM346.36 107.7h1.25v1.25h-1.25zM345.53 103.86h1.25v1.25h-1.25zM347.98 104.92h1.25v1.25h-1.25zM355.57 95.96h1.25v1.25h-1.25zM348.34 102.15h1.25v1.25h-1.25zM358.04 94.89h1.25v1.25h-1.25zM351.18 83.28h1.25v1.25h-1.25zM346.64 88.86h1.25v1.25h-1.25zM357.61 79.55h1.25v1.25h-1.25zM349.99 104.8h1.25v1.25h-1.25zM349.75 88.52h1.25v1.25h-1.25zM349 92.54h1.25v1.25h-1.25zM360.95 111.05h1.25v1.25h-1.25zM376.52 102.2h1.25v1.25h-1.25zM362.11 64.49h1.25v1.25h-1.25zM411.84 100.21h1.25v1.25h-1.25zM399.18 100.62h1.25v1.25h-1.25zM382.46 65.18h1.25v1.25h-1.25zM373.88 102.28h1.25v1.25h-1.25zM388.55 119.34h1.25v1.25h-1.25zM375.5 124.21h1.25v1.25h-1.25zM371.45 109.78h1.25v1.25h-1.25zM404.54 93.05h1.25v1.25h-1.25zM406.21 107.36h1.25v1.25h-1.25zM382.76 83.42h1.25v1.25h-1.25zM351.12 114.65h1.25v1.25h-1.25zM374.49 116.28h1.25v1.25h-1.25zM363.62 84.42h1.25v1.25h-1.25zM352.77 103.12h1.25v1.25h-1.25zM373.46 99.38h1.25v1.25h-1.25zM350.57 88.62h1.25v1.25h-1.25zM357.54 103.16h1.25v1.25h-1.25zM351.04 93.28h1.25v1.25h-1.25zM357.05 122.73h1.25v1.25h-1.25zM349.7 96.21h1.25v1.25h-1.25zM374.57 91.61h1.25v1.25h-1.25zM350.36 90.76h1.25v1.25h-1.25zM362.39 122.67h1.25v1.25h-1.25zM367.89 112.06h1.25v1.25h-1.25zM402.47 66h1.25v1.25h-1.25zM401.73 73.99h1.25v1.25h-1.25zM410.29 66.96h1.25v1.25h-1.25z" fill="#000" fill-opacity="0.7"/>
<rect x="341.4" y="36.9" width="75.1" height="88.7" fill="none" stroke="#1c1c1c" stroke-width="1.0"/>
<path d="M342.5 125.6L342.5 128.9M345.39 125.6L345.39 127.4M348.28 125.6L348.28 127.4M351.18 125.6L351.18 127.4M354.07 125.6L354.07 127.4M356.96 125.6L356.96 128.9M359.85 125.6L359.85 127.4M362.74 125.6L362.74 127.4M365.64 125.6L365.64 127.4M368.53 125.6L368.53 127.4M371.42 125.6L371.42 128.9M374.31 125.6L374.31 127.4M377.2 125.6L377.2 127.4M380.1 125.6L380.1 127.4M382.99 125.6L382.99 127.4M385.88 125.6L385.88 128.9M388.77 125.6L388.77 127.4M391.66 125.6L391.66 127.4M394.56 125.6L394.56 127.4M397.45 125.6L397.45 127.4M400.34 125.6L400.34 128.9M403.23 125.6L403.23 127.4M406.12 125.6L406.12 127.4M409.02 125.6L409.02 127.4M411.91 125.6L411.91 127.4M414.8 125.6L414.8 128.9M341.4 125.6L338.1 125.6M341.4 118.92L339.6 118.92M341.4 115.02L339.6 115.02M341.4 112.25L339.6 112.25M341.4 110.1L339.6 110.1M341.4 108.34L339.6 108.34M341.4 106.86L339.6 106.86M341.4 105.57L339.6 105.57M341.4 104.44L339.6 104.44M341.4 103.42L338.1 103.42M341.4 96.75L339.6 96.75M341.4 92.84L339.6 92.84M341.4 90.07L339.6 90.07M341.4 87.93L339.6 87.93M341.4 86.17L339.6 86.17M341.4 84.68L339.6 84.68M341.4 83.4L339.6 83.4M341.4 82.26L339.6 82.26M341.4 81.25L338.1 81.25M341.4 74.57L339.6 74.57M341.4 70.67L339.6 70.67M341.4 67.9L339.6 67.9M341.4 65.75L339.6 65.75M341.4 63.99L339.6 63.99M341.4 62.51L339.6 62.51M341.4 61.22L339.6 61.22M341.4 60.09L339.6 60.09M341.4 59.08L338.1 59.08M341.4 52.4L339.6 52.4M341.4 48.49L339.6 48.49M341.4 45.72L339.6 45.72M341.4 43.58L339.6 43.58M341.4 41.82L339.6 41.82M341.4 40.33L339.6 40.33M341.4 39.05L339.6 39.05M341.4 37.91L339.6 37.91M341.4 36.9L338.1 36.9" stroke="#111" stroke-width="0.85" fill="none"/>
<text x="342.8" y="134.6" font-size="6.2" text-anchor="middle">0</text>
<text x="357.26" y="134.6" font-size="6.2" text-anchor="middle">200</text>
<text x="371.72" y="134.6" font-size="6.2" text-anchor="middle">400</text>
<text x="386.18" y="134.6" font-size="6.2" text-anchor="middle">600</text>
<text x="400.64" y="134.6" font-size="6.2" text-anchor="middle">800</text>
<text x="415.1" y="134.6" font-size="6.2" text-anchor="middle">1000</text>
<text x="335.7" y="129.7" font-size="5.8" transform="rotate(-90 335.7 129.7)">10</text>
<text x="332.1" y="123.1" font-size="5.4" transform="rotate(-90 332.1 123.1)">0</text>
<text x="335.7" y="107.52" font-size="5.8" transform="rotate(-90 335.7 107.52)">10</text>
<text x="332.1" y="100.92" font-size="5.4" transform="rotate(-90 332.1 100.92)">1</text>
<text x="335.7" y="85.35" font-size="5.8" transform="rotate(-90 335.7 85.35)">10</text>
<text x="332.1" y="78.75" font-size="5.4" transform="rotate(-90 332.1 78.75)">2</text>
<text x="335.7" y="63.18" font-size="5.8" transform="rotate(-90 335.7 63.18)">10</text>
<text x="332.1" y="56.58" font-size="5.4" transform="rotate(-90 332.1 56.58)">3</text>
<text x="335.7" y="41" font-size="5.8" transform="rotate(-90 335.7 41)">10</text>
<text x="332.1" y="34.4" font-size="5.4" transform="rotate(-90 332.1 34.4)">4</text>
<text x="378.45" y="142.6" font-size="6.4" text-anchor="middle">FSC-Height</text>
<text x="327.6" y="81.15" font-size="6.4" text-anchor="middle" transform="rotate(-90 327.6 81.15)">7-AAD</text>
<ellipse cx="374.8" cy="74.3" rx="21.1" ry="8.4" fill="none" stroke="#0a0a0a" stroke-width="1.4" transform="rotate(-1 374.8 74.3)"/>
<ellipse cx="379.8" cy="107.5" rx="22.3" ry="13.7" fill="none" stroke="#0a0a0a" stroke-width="1.4" transform="rotate(-2 379.8 107.5)"/>
<text x="364" y="61.9" font-size="7.5" fill="#222">Apoptotic</text>
<text x="371.3" y="93.3" font-size="7.35" fill="#222">Non-apoptotic</text>
<path d="M434.6 125.9L434.6 123.66L435.08 122.74L435.56 122.73L436.04 124.03L436.52 123.19L437 123.25L437.43 123.58L437.85 122.93L438.27 123.36L438.7 122.19L439.12 122.96L439.55 121.73L439.97 121.89L440.4 122.17L440.84 121.54L441.29 121.75L441.73 121.14L442.17 119.68L442.61 121.04L443.06 120.25L443.5 119.45L443.98 118.79L444.45 119.86L444.93 118.89L445.4 119.38L445.88 118.63L446.35 118.76L446.82 117.36L447.3 117.36L447.8 115.81L448.3 113.28L448.8 114.48L449.35 109.69L449.9 109.58L450.35 107.8L450.8 103.45L451.2 98.28L451.6 99.3L452 96.8L452.4 92.6L452.8 90.21L453.27 91.81L453.73 88.31L454.2 92.04L454.63 90.44L455.07 91.07L455.5 91.08L455.93 92.99L456.37 94.93L456.8 92.37L457.2 95.34L457.6 99.05L458.05 100.09L458.5 104.17L458.9 104.91L459.3 105.35L459.7 107.6L460.13 107.52L460.57 106.04L461 111.07L461.47 107.87L461.93 108.06L462.4 107.75L462.83 110L463.27 109.81L463.7 107.27L464.2 108.51L464.7 109.04L465.25 114.02L465.8 113.17L466.27 113.27L466.73 111.33L467.2 110.02L467.6 109.27L468 107.63L468.4 105.98L468.95 109.64L469.5 112L469.9 111.95L470.3 110.78L470.7 113.3L471.13 109.63L471.57 109.95L472 110.74L472.43 109.8L472.87 105.99L473.3 106.48L473.8 102.65L474.3 100.77L474.8 98.76L475.3 98.55L475.9 89.78L476.4 76.25L476.8 70.2L477.2 62.39L477.6 65.23L478 71.81L478.4 75.03L478.8 76.96L479.3 88.8L479.75 85.25L480.2 89.02L480.6 91.49L481 91.73L481.45 92.87L481.9 97.6L482.35 98.58L482.8 100.05L483.2 101.59L483.6 109.13L484.05 108.55L484.5 110.23L484.9 113.32L485.3 116.13L485.75 119.9L486.2 120.81L486.6 121.65L487 122.08L487.4 123.24L487.87 123.27L488.33 123.78L488.8 124.52L489.26 124.81L489.71 124.83L490.17 124.21L490.63 124.64L491.09 125.16L491.54 124.59L492 124.86L492.45 125.09L492.9 125.01L493.35 125.31L493.8 125.29L494.24 125.09L494.69 124.93L495.14 124.92L495.59 124.96L496.04 124.81L496.49 125.28L496.94 124.89L497.39 125.47L497.84 125.29L498.29 124.84L498.73 125.18L499.18 125.27L499.63 124.84L500.08 125.19L500.53 124.85L500.98 125.42L501.43 124.84L501.88 125.33L502.33 125.6L502.78 125.5L503.22 125.04L503.67 125.28L504.12 124.99L504.57 125.15L505.02 125.54L505.47 125.52L505.92 124.92L506.37 125.2L506.82 125.4L507.27 125.06L507.71 125.53L508.16 125.61L508.61 125.36L509.06 125.23L509.51 125.59L509.96 125.35L510.41 125.12L510.86 125.19L511.31 125.11L511.76 125.61L512.2 125.38L512.65 125.52L513.1 125.61L513.55 125.73L514 125.39L514 125.9Z" fill="#050505" stroke="#050505" stroke-width="0.4" stroke-linejoin="round"/>
<rect x="434.8" y="37.95" width="79.6" height="87.95" fill="none" stroke="#2a2a2a" stroke-width="1.05"/>
<path d="M434.8 125.9L434.8 129.2M440.79 125.9L440.79 127.7M444.29 125.9L444.29 127.7M446.78 125.9L446.78 127.7M448.71 125.9L448.71 127.7M450.29 125.9L450.29 127.7M451.62 125.9L451.62 127.7M452.77 125.9L452.77 127.7M453.79 125.9L453.79 127.7M454.7 125.9L454.7 129.2M460.69 125.9L460.69 127.7M464.19 125.9L464.19 127.7M466.68 125.9L466.68 127.7M468.61 125.9L468.61 127.7M470.19 125.9L470.19 127.7M471.52 125.9L471.52 127.7M472.67 125.9L472.67 127.7M473.69 125.9L473.69 127.7M474.6 125.9L474.6 129.2M480.59 125.9L480.59 127.7M484.09 125.9L484.09 127.7M486.58 125.9L486.58 127.7M488.51 125.9L488.51 127.7M490.09 125.9L490.09 127.7M491.42 125.9L491.42 127.7M492.57 125.9L492.57 127.7M493.59 125.9L493.59 127.7M494.5 125.9L494.5 129.2M500.49 125.9L500.49 127.7M503.99 125.9L503.99 127.7M506.48 125.9L506.48 127.7M508.41 125.9L508.41 127.7M509.99 125.9L509.99 127.7M511.32 125.9L511.32 127.7M512.47 125.9L512.47 127.7M513.49 125.9L513.49 127.7M514.4 125.9L514.4 129.2M434.8 125.9L431.5 125.9M434.8 124.43L433.3 124.43M434.8 122.97L433.3 122.97M434.8 121.5L433.3 121.5M434.8 120.04L433.3 120.04M434.8 118.57L433.3 118.57M434.8 117.11L433.3 117.11M434.8 115.64L433.3 115.64M434.8 114.17L433.3 114.17M434.8 112.71L433.3 112.71M434.8 111.24L431.5 111.24M434.8 109.78L433.3 109.78M434.8 108.31L433.3 108.31M434.8 106.84L433.3 106.84M434.8 105.38L433.3 105.38M434.8 103.91L433.3 103.91M434.8 102.45L433.3 102.45M434.8 100.98L433.3 100.98M434.8 99.52L433.3 99.52M434.8 98.05L433.3 98.05M434.8 96.58L431.5 96.58M434.8 95.12L433.3 95.12M434.8 93.65L433.3 93.65M434.8 92.19L433.3 92.19M434.8 90.72L433.3 90.72M434.8 89.25L433.3 89.25M434.8 87.79L433.3 87.79M434.8 86.32L433.3 86.32M434.8 84.86L433.3 84.86M434.8 83.39L433.3 83.39M434.8 81.93L431.5 81.93M434.8 80.46L433.3 80.46M434.8 78.99L433.3 78.99M434.8 77.53L433.3 77.53M434.8 76.06L433.3 76.06M434.8 74.6L433.3 74.6M434.8 73.13L433.3 73.13M434.8 71.66L433.3 71.66M434.8 70.2L433.3 70.2M434.8 68.73L433.3 68.73M434.8 67.27L431.5 67.27M434.8 65.8L433.3 65.8M434.8 64.34L433.3 64.34M434.8 62.87L433.3 62.87M434.8 61.4L433.3 61.4M434.8 59.94L433.3 59.94M434.8 58.47L433.3 58.47M434.8 57.01L433.3 57.01M434.8 55.54L433.3 55.54M434.8 54.07L433.3 54.07M434.8 52.61L431.5 52.61M434.8 51.14L433.3 51.14M434.8 49.68L433.3 49.68M434.8 48.21L433.3 48.21M434.8 46.75L433.3 46.75M434.8 45.28L433.3 45.28M434.8 43.81L433.3 43.81M434.8 42.35L433.3 42.35M434.8 40.88L433.3 40.88M434.8 39.42L433.3 39.42M434.8 37.95L431.5 37.95" stroke="#111" stroke-width="0.85" fill="none"/>
<text font-size="6.6" text-anchor="end" transform="translate(435 136.7) scale(0.78 1)">10</text>
<text x="435.3" y="133.1" font-size="5.6">0</text>
<text font-size="6.6" text-anchor="end" transform="translate(455.85 136.7) scale(0.78 1)">10</text>
<text x="456.15" y="133.1" font-size="5.6">1</text>
<text font-size="6.6" text-anchor="end" transform="translate(476.1 136.7) scale(0.78 1)">10</text>
<text x="476.4" y="133.1" font-size="5.6">2</text>
<text font-size="6.6" text-anchor="end" transform="translate(495 136.7) scale(0.78 1)">10</text>
<text x="495.3" y="133.1" font-size="5.6">3</text>
<text font-size="6.6" text-anchor="end" transform="translate(514.7 136.7) scale(0.78 1)">10</text>
<text x="515" y="133.1" font-size="5.6">4</text>
<text x="473.7" y="143.5" font-size="6.4" text-anchor="middle">7-AAD</text>
<text x="428.8" y="124.9" font-size="6.5" text-anchor="middle" transform="rotate(-90 428.8 124.9)">0</text>
<text x="428.8" y="110.24" font-size="6.5" text-anchor="middle" transform="rotate(-90 428.8 110.24)">10</text>
<text x="428.8" y="95.58" font-size="6.5" text-anchor="middle" transform="rotate(-90 428.8 95.58)">20</text>
<text x="428.8" y="80.93" font-size="6.5" text-anchor="middle" transform="rotate(-90 428.8 80.93)">30</text>
<text x="428.8" y="66.27" font-size="6.5" text-anchor="middle" transform="rotate(-90 428.8 66.27)">40</text>
<text x="428.8" y="51.61" font-size="6.5" text-anchor="middle" transform="rotate(-90 428.8 51.61)">50</text>
<text x="428.8" y="36.95" font-size="6.5" text-anchor="middle" transform="rotate(-90 428.8 36.95)">60</text>
<path d="M138.97 253.98h1.25v1.25h-1.25zM135.9 250.41h1.25v1.25h-1.25zM140.09 245.55h1.25v1.25h-1.25zM134.66 249.95h1.25v1.25h-1.25zM132.39 250.08h1.25v1.25h-1.25zM135.24 249.31h1.25v1.25h-1.25zM141.89 248.75h1.25v1.25h-1.25zM132.64 254.11h1.25v1.25h-1.25zM133.26 248.84h1.25v1.25h-1.25zM142.07 252.78h1.25v1.25h-1.25zM137.79 251.29h1.25v1.25h-1.25zM134.51 254.65h1.25v1.25h-1.25zM142.92 249.86h1.25v1.25h-1.25zM139.04 252.19h1.25v1.25h-1.25zM138.53 248.55h1.25v1.25h-1.25zM139.34 248.42h1.25v1.25h-1.25zM143.1 250.08h1.25v1.25h-1.25zM139.71 248.87h1.25v1.25h-1.25zM130.06 251.28h1.25v1.25h-1.25zM139.66 247.04h1.25v1.25h-1.25zM135.91 245.74h1.25v1.25h-1.25zM141.25 251.01h1.25v1.25h-1.25zM135.26 256.12h1.25v1.25h-1.25zM131 253.13h1.25v1.25h-1.25zM139.47 251.07h1.25v1.25h-1.25zM135.73 248.61h1.25v1.25h-1.25zM140.88 248.81h1.25v1.25h-1.25zM138.89 250.93h1.25v1.25h-1.25zM140.56 246.39h1.25v1.25h-1.25zM134.74 248.27h1.25v1.25h-1.25zM141.95 248.33h1.25v1.25h-1.25zM133.14 253.74h1.25v1.25h-1.25zM140.87 251.49h1.25v1.25h-1.25zM140.16 250.72h1.25v1.25h-1.25zM131 249.67h1.25v1.25h-1.25zM133.95 250.8h1.25v1.25h-1.25zM130.49 250.05h1.25v1.25h-1.25zM139.09 248.39h1.25v1.25h-1.25zM139.31 252.31h1.25v1.25h-1.25zM136.84 251.22h1.25v1.25h-1.25zM138.22 249.04h1.25v1.25h-1.25zM131.7 250.14h1.25v1.25h-1.25zM133.35 254.12h1.25v1.25h-1.25zM141.76 247.44h1.25v1.25h-1.25zM137.67 247.55h1.25v1.25h-1.25zM137.39 247.16h1.25v1.25h-1.25zM145.81 253.42h1.25v1.25h-1.25zM139.36 246.53h1.25v1.25h-1.25zM141.09 253.61h1.25v1.25h-1.25zM134.06 245.01h1.25v1.25h-1.25zM136.14 250.43h1.25v1.25h-1.25zM142.34 252.2h1.25v1.25h-1.25zM144.14 250.91h1.25v1.25h-1.25zM136.09 251.37h1.25v1.25h-1.25zM139.6 246.72h1.25v1.25h-1.25zM144.24 252.99h1.25v1.25h-1.25zM141.27 252.58h1.25v1.25h-1.25zM135.04 255.36h1.25v1.25h-1.25zM133.19 249.38h1.25v1.25h-1.25zM136.36 257.16h1.25v1.25h-1.25zM138.19 249.93h1.25v1.25h-1.25zM140.05 249.15h1.25v1.25h-1.25zM135.95 250.58h1.25v1.25h-1.25zM138.06 250.01h1.25v1.25h-1.25zM140.94 247.73h1.25v1.25h-1.25zM140.71 250.8h1.25v1.25h-1.25zM133.27 245.32h1.25v1.25h-1.25zM137.14 250.61h1.25v1.25h-1.25zM134.96 252.52h1.25v1.25h-1.25zM137.86 249.04h1.25v1.25h-1.25zM135.39 251.78h1.25v1.25h-1.25zM138.65 251.79h1.25v1.25h-1.25zM137.65 250.05h1.25v1.25h-1.25zM138.8 251.11h1.25v1.25h-1.25zM136.8 253.35h1.25v1.25h-1.25zM141.91 247.44h1.25v1.25h-1.25zM134.93 254.25h1.25v1.25h-1.25zM142.37 247.87h1.25v1.25h-1.25zM141.82 248.67h1.25v1.25h-1.25zM143.41 245.07h1.25v1.25h-1.25zM142.68 249.67h1.25v1.25h-1.25zM137.31 247.1h1.25v1.25h-1.25zM141.46 247.51h1.25v1.25h-1.25zM134.51 248.38h1.25v1.25h-1.25zM142.06 254.93h1.25v1.25h-1.25zM139.8 249.3h1.25v1.25h-1.25zM136.18 250.51h1.25v1.25h-1.25zM139.49 248.8h1.25v1.25h-1.25zM129.41 251.72h1.25v1.25h-1.25zM143.65 242.57h1.25v1.25h-1.25zM134.16 246.64h1.25v1.25h-1.25zM141.11 250.16h1.25v1.25h-1.25zM134.37 252.99h1.25v1.25h-1.25zM142.79 246.41h1.25v1.25h-1.25zM136.01 252.28h1.25v1.25h-1.25zM142.76 251.11h1.25v1.25h-1.25zM138.47 250.82h1.25v1.25h-1.25zM136.47 249.63h1.25v1.25h-1.25zM140.96 252.39h1.25v1.25h-1.25zM139.3 253.86h1.25v1.25h-1.25zM141.3 250.21h1.25v1.25h-1.25zM131.74 256.07h1.25v1.25h-1.25zM129.4 252.25h1.25v1.25h-1.25zM140.44 249.37h1.25v1.25h-1.25zM133.5 246.07h1.25v1.25h-1.25zM139.02 253.02h1.25v1.25h-1.25zM136.15 253.46h1.25v1.25h-1.25zM140.22 252.77h1.25v1.25h-1.25zM140.31 249.27h1.25v1.25h-1.25zM134.02 251.56h1.25v1.25h-1.25zM149.69 247.87h1.25v1.25h-1.25zM135.27 249.98h1.25v1.25h-1.25zM138.56 248.78h1.25v1.25h-1.25zM130.08 247.91h1.25v1.25h-1.25zM142.65 249.27h1.25v1.25h-1.25zM133.46 252.19h1.25v1.25h-1.25zM143.64 249.43h1.25v1.25h-1.25zM133.25 249.71h1.25v1.25h-1.25zM135.97 253.7h1.25v1.25h-1.25zM137.95 251.28h1.25v1.25h-1.25zM134.09 249.19h1.25v1.25h-1.25zM143.55 250.1h1.25v1.25h-1.25zM135.06 249.72h1.25v1.25h-1.25zM138.58 247.42h1.25v1.25h-1.25zM137.22 249.02h1.25v1.25h-1.25zM142.43 252.61h1.25v1.25h-1.25zM130.23 251.91h1.25v1.25h-1.25zM131.75 252.33h1.25v1.25h-1.25zM137.34 247.2h1.25v1.25h-1.25zM136.63 248.73h1.25v1.25h-1.25zM146.64 252.73h1.25v1.25h-1.25zM129.44 249.7h1.25v1.25h-1.25zM140.08 253.23h1.25v1.25h-1.25zM144.91 253.7h1.25v1.25h-1.25zM138.73 251.01h1.25v1.25h-1.25zM140.28 250h1.25v1.25h-1.25zM134.98 251.22h1.25v1.25h-1.25zM137.86 250.56h1.25v1.25h-1.25zM144.22 250.26h1.25v1.25h-1.25zM141.96 254.17h1.25v1.25h-1.25zM134.58 247.78h1.25v1.25h-1.25zM142.78 251.24h1.25v1.25h-1.25zM142.61 243.79h1.25v1.25h-1.25zM139.44 248.05h1.25v1.25h-1.25zM140.05 248.3h1.25v1.25h-1.25zM136.38 250.73h1.25v1.25h-1.25zM138.15 247.35h1.25v1.25h-1.25zM144.17 251.54h1.25v1.25h-1.25zM137.77 252.87h1.25v1.25h-1.25zM138.68 248.97h1.25v1.25h-1.25zM145.04 249.91h1.25v1.25h-1.25zM135.32 254.44h1.25v1.25h-1.25zM136.2 251.67h1.25v1.25h-1.25zM136.46 252.74h1.25v1.25h-1.25zM139.95 247.85h1.25v1.25h-1.25zM138.66 251.68h1.25v1.25h-1.25zM139.57 250.85h1.25v1.25h-1.25zM142.4 245.97h1.25v1.25h-1.25zM141.02 248.4h1.25v1.25h-1.25zM130.5 250.68h1.25v1.25h-1.25zM137.24 254.41h1.25v1.25h-1.25zM141.15 250.69h1.25v1.25h-1.25zM141.75 249.06h1.25v1.25h-1.25zM142.16 251.53h1.25v1.25h-1.25zM136.07 249.24h1.25v1.25h-1.25zM143.47 250.31h1.25v1.25h-1.25zM143.42 248.49h1.25v1.25h-1.25zM132.06 255.64h1.25v1.25h-1.25zM140.25 246.94h1.25v1.25h-1.25zM144.64 251.9h1.25v1.25h-1.25zM141.67 247.87h1.25v1.25h-1.25zM133.32 251.79h1.25v1.25h-1.25zM139.02 250.7h1.25v1.25h-1.25zM143.11 252.06h1.25v1.25h-1.25zM137.76 251.7h1.25v1.25h-1.25zM133.23 253.05h1.25v1.25h-1.25zM139.45 251.72h1.25v1.25h-1.25zM141.35 251.05h1.25v1.25h-1.25zM138.13 252.24h1.25v1.25h-1.25zM137.38 245.77h1.25v1.25h-1.25zM131.02 252.7h1.25v1.25h-1.25zM136.04 251.21h1.25v1.25h-1.25zM134.59 254.54h1.25v1.25h-1.25zM134.87 250.76h1.25v1.25h-1.25zM143 248.64h1.25v1.25h-1.25zM142.8 253.92h1.25v1.25h-1.25zM139.48 249.33h1.25v1.25h-1.25zM132.6 251.13h1.25v1.25h-1.25zM134.93 249.61h1.25v1.25h-1.25zM137.77 252.12h1.25v1.25h-1.25zM136.46 254.7h1.25v1.25h-1.25zM140.4 248.15h1.25v1.25h-1.25zM132.94 246.85h1.25v1.25h-1.25zM138.21 249.7h1.25v1.25h-1.25zM138.67 249.46h1.25v1.25h-1.25zM138.45 248.47h1.25v1.25h-1.25zM136.84 251.92h1.25v1.25h-1.25zM143.2 247.12h1.25v1.25h-1.25zM138.48 253.82h1.25v1.25h-1.25zM138.61 250.06h1.25v1.25h-1.25zM140.12 248.87h1.25v1.25h-1.25zM140.78 249.8h1.25v1.25h-1.25zM139.29 250.64h1.25v1.25h-1.25zM136.16 246.81h1.25v1.25h-1.25zM136.57 247.21h1.25v1.25h-1.25zM138.57 250.9h1.25v1.25h-1.25zM136.89 251.74h1.25v1.25h-1.25zM132.91 251.48h1.25v1.25h-1.25zM139.91 246.77h1.25v1.25h-1.25zM144.39 244.12h1.25v1.25h-1.25zM144.89 251.54h1.25v1.25h-1.25zM135.52 251.76h1.25v1.25h-1.25zM135.37 256.75h1.25v1.25h-1.25zM135.69 251.49h1.25v1.25h-1.25zM136.59 249.66h1.25v1.25h-1.25zM137.22 255.74h1.25v1.25h-1.25zM144.52 248.15h1.25v1.25h-1.25zM139.33 250.57h1.25v1.25h-1.25zM135.49 251.52h1.25v1.25h-1.25zM144.5 250.48h1.25v1.25h-1.25zM143.61 247.12h1.25v1.25h-1.25zM143.78 247.32h1.25v1.25h-1.25zM144.45 253.45h1.25v1.25h-1.25zM144.41 250.39h1.25v1.25h-1.25zM142.65 250.89h1.25v1.25h-1.25zM141.06 246.9h1.25v1.25h-1.25zM146.37 247.07h1.25v1.25h-1.25zM136.85 248h1.25v1.25h-1.25zM133.05 253.1h1.25v1.25h-1.25zM135.51 253.88h1.25v1.25h-1.25zM137.87 247.57h1.25v1.25h-1.25zM146.66 244.1h1.25v1.25h-1.25zM138.4 251.02h1.25v1.25h-1.25zM137.69 254.55h1.25v1.25h-1.25zM142.83 240.99h1.25v1.25h-1.25zM150.02 247.52h1.25v1.25h-1.25zM135.01 248.4h1.25v1.25h-1.25zM141.43 251.12h1.25v1.25h-1.25zM154.02 247.1h1.25v1.25h-1.25zM133.61 252.72h1.25v1.25h-1.25zM132.56 247.77h1.25v1.25h-1.25zM141.22 247.34h1.25v1.25h-1.25zM137.84 249.01h1.25v1.25h-1.25zM146.07 248.72h1.25v1.25h-1.25zM126.04 255.84h1.25v1.25h-1.25zM135.79 248.64h1.25v1.25h-1.25zM147.79 246.01h1.25v1.25h-1.25zM136.94 247.03h1.25v1.25h-1.25zM138.59 251.68h1.25v1.25h-1.25zM139.23 250.27h1.25v1.25h-1.25zM136.82 246.8h1.25v1.25h-1.25zM143.93 252.02h1.25v1.25h-1.25zM145.93 248.01h1.25v1.25h-1.25zM146.74 251.81h1.25v1.25h-1.25zM145.34 248.01h1.25v1.25h-1.25zM137.58 247.92h1.25v1.25h-1.25zM140.96 248.36h1.25v1.25h-1.25zM143.63 248.44h1.25v1.25h-1.25zM137.57 250.12h1.25v1.25h-1.25zM137.47 250.04h1.25v1.25h-1.25zM138.82 249.05h1.25v1.25h-1.25zM141.45 256.14h1.25v1.25h-1.25zM139.53 246.08h1.25v1.25h-1.25zM145.96 245.5h1.25v1.25h-1.25zM141.54 248.57h1.25v1.25h-1.25zM144.21 251.6h1.25v1.25h-1.25zM140.7 244.46h1.25v1.25h-1.25zM142.57 250.35h1.25v1.25h-1.25zM143.64 247.01h1.25v1.25h-1.25zM144.85 248.22h1.25v1.25h-1.25zM135.09 254.39h1.25v1.25h-1.25zM134.65 252.5h1.25v1.25h-1.25zM152.23 241.55h1.25v1.25h-1.25zM155.85 246.21h1.25v1.25h-1.25zM154.91 246.81h1.25v1.25h-1.25zM151.94 237.34h1.25v1.25h-1.25zM148.21 244.28h1.25v1.25h-1.25zM152 244.42h1.25v1.25h-1.25zM158.93 243.17h1.25v1.25h-1.25zM148.17 251.44h1.25v1.25h-1.25zM153.03 246.54h1.25v1.25h-1.25zM148.09 244.31h1.25v1.25h-1.25zM149.98 243.65h1.25v1.25h-1.25zM147.89 217.31h1.25v1.25h-1.25zM142.59 220.72h1.25v1.25h-1.25zM138.24 217.72h1.25v1.25h-1.25zM126.68 218.31h1.25v1.25h-1.25zM128.35 219.18h1.25v1.25h-1.25zM129.83 216.06h1.25v1.25h-1.25zM124.89 217.93h1.25v1.25h-1.25zM126.32 217.03h1.25v1.25h-1.25zM129.49 214.82h1.25v1.25h-1.25zM127.7 215.31h1.25v1.25h-1.25zM137.47 218.84h1.25v1.25h-1.25zM139.79 225.34h1.25v1.25h-1.25zM137.55 223.06h1.25v1.25h-1.25zM128.93 213.02h1.25v1.25h-1.25zM128.15 217.43h1.25v1.25h-1.25zM135.91 223.71h1.25v1.25h-1.25zM129.44 221.17h1.25v1.25h-1.25zM129.24 219.98h1.25v1.25h-1.25zM144.97 216.93h1.25v1.25h-1.25zM135.62 221.67h1.25v1.25h-1.25zM140.02 215.64h1.25v1.25h-1.25zM156.34 217.96h1.25v1.25h-1.25zM145.65 220.35h1.25v1.25h-1.25zM134.4 215.58h1.25v1.25h-1.25zM141.89 224.32h1.25v1.25h-1.25zM136.7 210.15h1.25v1.25h-1.25zM139.9 217.11h1.25v1.25h-1.25zM145.78 220.91h1.25v1.25h-1.25zM122.98 218.17h1.25v1.25h-1.25zM135.98 219.67h1.25v1.25h-1.25zM156.51 217.12h1.25v1.25h-1.25zM151.61 214.45h1.25v1.25h-1.25zM137.78 215.8h1.25v1.25h-1.25zM134.14 219.45h1.25v1.25h-1.25zM156.8 213.79h1.25v1.25h-1.25zM175.98 226.97h1.25v1.25h-1.25zM176.39 230.39h1.25v1.25h-1.25zM171.55 223.67h1.25v1.25h-1.25zM169.29 221.04h1.25v1.25h-1.25zM178.52 261.86h1.25v1.25h-1.25zM149.48 255.63h1.25v1.25h-1.25zM136.43 238.16h1.25v1.25h-1.25zM124.05 263.08h1.25v1.25h-1.25zM167.72 218.23h1.25v1.25h-1.25zM113.66 249.8h1.25v1.25h-1.25zM134.79 227.7h1.25v1.25h-1.25zM129.15 241.86h1.25v1.25h-1.25zM142.45 223.09h1.25v1.25h-1.25zM122.73 211.41h1.25v1.25h-1.25zM117.88 264.58h1.25v1.25h-1.25zM106.54 242.42h1.25v1.25h-1.25zM124.22 243.87h1.25v1.25h-1.25zM107.18 236.6h1.25v1.25h-1.25zM115.1 261.88h1.25v1.25h-1.25zM106.92 238.84h1.25v1.25h-1.25zM117.39 253.47h1.25v1.25h-1.25zM116.94 244.36h1.25v1.25h-1.25zM108.87 260.1h1.25v1.25h-1.25zM107.09 256.26h1.25v1.25h-1.25zM108.13 258.13h1.25v1.25h-1.25zM114.37 259.22h1.25v1.25h-1.25zM112.07 261.54h1.25v1.25h-1.25z" fill="#000" fill-opacity="0.7"/>
<path d="M134.66 246.46h1.25v1.25h-1.25zM137.94 252.93h1.25v1.25h-1.25zM140.57 246.01h1.25v1.25h-1.25zM136.32 252.7h1.25v1.25h-1.25zM142.78 252.17h1.25v1.25h-1.25zM141.88 251.66h1.25v1.25h-1.25zM135.64 244.98h1.25v1.25h-1.25zM142.95 246.23h1.25v1.25h-1.25zM140.43 253.23h1.25v1.25h-1.25zM140.76 250.9h1.25v1.25h-1.25zM151.59 247.59h1.25v1.25h-1.25zM141.87 249.57h1.25v1.25h-1.25zM143.19 246.97h1.25v1.25h-1.25zM139.95 252.17h1.25v1.25h-1.25zM133.89 251.57h1.25v1.25h-1.25zM137.77 252.75h1.25v1.25h-1.25zM143.79 252.42h1.25v1.25h-1.25zM135.01 251.27h1.25v1.25h-1.25zM134.23 252.32h1.25v1.25h-1.25zM136.86 256.77h1.25v1.25h-1.25zM145.26 248.75h1.25v1.25h-1.25zM142.68 249.24h1.25v1.25h-1.25zM139.64 254.94h1.25v1.25h-1.25zM136.05 250.34h1.25v1.25h-1.25zM135.56 249.66h1.25v1.25h-1.25zM139.23 249.91h1.25v1.25h-1.25zM133.49 251.56h1.25v1.25h-1.25zM136.78 248h1.25v1.25h-1.25zM136.74 246.85h1.25v1.25h-1.25zM132.03 251.25h1.25v1.25h-1.25zM141.59 248.86h1.25v1.25h-1.25zM139.34 242.72h1.25v1.25h-1.25zM136.79 256.95h1.25v1.25h-1.25zM142.06 250.47h1.25v1.25h-1.25zM134.67 247.63h1.25v1.25h-1.25zM138.64 248.62h1.25v1.25h-1.25zM138.2 254.24h1.25v1.25h-1.25zM138.14 251.4h1.25v1.25h-1.25zM138.37 250.35h1.25v1.25h-1.25zM143.01 249.26h1.25v1.25h-1.25zM137.59 247.11h1.25v1.25h-1.25zM135.51 249.14h1.25v1.25h-1.25zM134.18 249.3h1.25v1.25h-1.25zM136.13 250.14h1.25v1.25h-1.25zM139.52 248.75h1.25v1.25h-1.25zM137.64 250.72h1.25v1.25h-1.25zM147.61 251.73h1.25v1.25h-1.25zM138.87 251.37h1.25v1.25h-1.25zM128.93 252.26h1.25v1.25h-1.25zM135.79 248.2h1.25v1.25h-1.25zM137.26 250.13h1.25v1.25h-1.25zM136.74 249.37h1.25v1.25h-1.25zM136.22 250.56h1.25v1.25h-1.25zM134.4 246.94h1.25v1.25h-1.25zM144.99 248.84h1.25v1.25h-1.25zM137.24 250.82h1.25v1.25h-1.25zM141.13 247.67h1.25v1.25h-1.25zM138.12 245.25h1.25v1.25h-1.25zM137.94 254.88h1.25v1.25h-1.25zM133.09 252.02h1.25v1.25h-1.25zM139.18 249.88h1.25v1.25h-1.25zM139.62 249.76h1.25v1.25h-1.25zM148.56 252.43h1.25v1.25h-1.25zM137.98 248.65h1.25v1.25h-1.25zM137.82 253.49h1.25v1.25h-1.25zM137.64 251.73h1.25v1.25h-1.25zM134.8 251.53h1.25v1.25h-1.25zM143.65 252.98h1.25v1.25h-1.25zM140.08 249.45h1.25v1.25h-1.25zM140.23 247.74h1.25v1.25h-1.25zM140.01 251.83h1.25v1.25h-1.25zM138.07 251.29h1.25v1.25h-1.25zM142.97 251.02h1.25v1.25h-1.25zM138.68 249.74h1.25v1.25h-1.25zM137.21 250.91h1.25v1.25h-1.25zM139.36 255.55h1.25v1.25h-1.25zM140.53 246.81h1.25v1.25h-1.25zM140.88 250.57h1.25v1.25h-1.25zM137.66 249.72h1.25v1.25h-1.25zM142.22 250.65h1.25v1.25h-1.25zM138.8 250.09h1.25v1.25h-1.25zM133.38 252.58h1.25v1.25h-1.25zM139.78 250.87h1.25v1.25h-1.25zM137.21 251.85h1.25v1.25h-1.25zM130.78 247.49h1.25v1.25h-1.25zM134.32 247.93h1.25v1.25h-1.25zM136.24 252.25h1.25v1.25h-1.25zM136.89 249.47h1.25v1.25h-1.25zM134.93 250.76h1.25v1.25h-1.25zM133.05 249.31h1.25v1.25h-1.25zM135.44 252.27h1.25v1.25h-1.25zM132.9 252.21h1.25v1.25h-1.25zM140.94 247.37h1.25v1.25h-1.25zM134.18 247.64h1.25v1.25h-1.25zM135.31 245.8h1.25v1.25h-1.25zM128.17 252.4h1.25v1.25h-1.25zM135.94 250.12h1.25v1.25h-1.25zM145.11 252.84h1.25v1.25h-1.25zM134.22 249.97h1.25v1.25h-1.25zM145 252.33h1.25v1.25h-1.25zM145.94 250.02h1.25v1.25h-1.25zM140.13 253.03h1.25v1.25h-1.25zM139.56 249.71h1.25v1.25h-1.25zM135.35 248.46h1.25v1.25h-1.25zM135.87 248.9h1.25v1.25h-1.25zM132.81 251.86h1.25v1.25h-1.25zM147.93 246.89h1.25v1.25h-1.25zM142.6 251.76h1.25v1.25h-1.25zM134.77 253.75h1.25v1.25h-1.25zM131.18 252.67h1.25v1.25h-1.25zM141.35 249.19h1.25v1.25h-1.25zM129.6 252.8h1.25v1.25h-1.25zM139.24 248.04h1.25v1.25h-1.25zM134.17 247.56h1.25v1.25h-1.25zM137.64 251.5h1.25v1.25h-1.25zM131.96 247.52h1.25v1.25h-1.25zM138.47 251.71h1.25v1.25h-1.25zM134.56 254.99h1.25v1.25h-1.25zM137.41 249.03h1.25v1.25h-1.25zM138.45 244.82h1.25v1.25h-1.25zM136.29 250.28h1.25v1.25h-1.25zM144.44 251.7h1.25v1.25h-1.25zM143.83 251.47h1.25v1.25h-1.25zM141 248.13h1.25v1.25h-1.25zM137.9 250.59h1.25v1.25h-1.25zM135.23 252.62h1.25v1.25h-1.25zM137.33 249.92h1.25v1.25h-1.25zM139.65 250.36h1.25v1.25h-1.25zM140.44 253.02h1.25v1.25h-1.25zM127.2 250.01h1.25v1.25h-1.25zM143.54 250.92h1.25v1.25h-1.25zM131.81 252.09h1.25v1.25h-1.25zM135.66 252h1.25v1.25h-1.25zM136.33 248.57h1.25v1.25h-1.25zM140.63 247.19h1.25v1.25h-1.25zM140.81 253.53h1.25v1.25h-1.25zM136.35 248.38h1.25v1.25h-1.25zM139.22 247.77h1.25v1.25h-1.25zM142.01 253.07h1.25v1.25h-1.25zM142.46 250.27h1.25v1.25h-1.25zM144.64 250.79h1.25v1.25h-1.25zM135.75 244.39h1.25v1.25h-1.25zM134.35 252.22h1.25v1.25h-1.25zM131.6 249.22h1.25v1.25h-1.25zM134.65 250.5h1.25v1.25h-1.25zM142.71 246h1.25v1.25h-1.25zM131.44 256.47h1.25v1.25h-1.25zM136.59 248.21h1.25v1.25h-1.25zM136.72 252.87h1.25v1.25h-1.25zM143.01 253.13h1.25v1.25h-1.25zM140.18 257.16h1.25v1.25h-1.25zM139.46 246.43h1.25v1.25h-1.25zM141.43 253.36h1.25v1.25h-1.25zM138.54 249.01h1.25v1.25h-1.25zM136.99 251.79h1.25v1.25h-1.25zM134.8 251.42h1.25v1.25h-1.25zM135.16 250.29h1.25v1.25h-1.25zM136.12 248.02h1.25v1.25h-1.25zM140.59 246h1.25v1.25h-1.25zM138.95 248.5h1.25v1.25h-1.25zM135.26 252.71h1.25v1.25h-1.25zM141 246.43h1.25v1.25h-1.25zM133.14 246.19h1.25v1.25h-1.25zM135.73 249.73h1.25v1.25h-1.25zM143.49 246.9h1.25v1.25h-1.25zM131.25 250.86h1.25v1.25h-1.25zM133.63 252.7h1.25v1.25h-1.25zM143.75 247.19h1.25v1.25h-1.25zM143.59 254.47h1.25v1.25h-1.25zM133.57 249.93h1.25v1.25h-1.25zM140.63 253.45h1.25v1.25h-1.25zM130.45 251.92h1.25v1.25h-1.25zM135.67 249.63h1.25v1.25h-1.25zM135.79 248.99h1.25v1.25h-1.25zM139.12 250.01h1.25v1.25h-1.25zM136.13 251.36h1.25v1.25h-1.25zM147.33 247.88h1.25v1.25h-1.25zM138.16 246.59h1.25v1.25h-1.25zM137.22 251.36h1.25v1.25h-1.25zM141.76 250.69h1.25v1.25h-1.25zM140.35 255.39h1.25v1.25h-1.25zM133.76 252.71h1.25v1.25h-1.25zM138.09 251.06h1.25v1.25h-1.25zM137.61 246.25h1.25v1.25h-1.25zM139.66 247.29h1.25v1.25h-1.25zM141.56 247.96h1.25v1.25h-1.25zM139.37 249.73h1.25v1.25h-1.25zM137.07 251.81h1.25v1.25h-1.25zM134.88 251.8h1.25v1.25h-1.25zM130.29 251.05h1.25v1.25h-1.25zM139.21 251.25h1.25v1.25h-1.25zM141.7 245.67h1.25v1.25h-1.25zM140.47 249.2h1.25v1.25h-1.25zM139.81 252.74h1.25v1.25h-1.25zM143.56 249.42h1.25v1.25h-1.25zM135.51 252.03h1.25v1.25h-1.25zM141.39 246.54h1.25v1.25h-1.25zM133.26 250.18h1.25v1.25h-1.25zM144.73 250.24h1.25v1.25h-1.25zM142.32 252.08h1.25v1.25h-1.25zM136.8 245.68h1.25v1.25h-1.25zM135.94 247.43h1.25v1.25h-1.25zM138.48 255.65h1.25v1.25h-1.25zM137.86 254.67h1.25v1.25h-1.25zM144.96 252.04h1.25v1.25h-1.25zM139.69 251.41h1.25v1.25h-1.25zM140.35 255.42h1.25v1.25h-1.25zM146.76 248.43h1.25v1.25h-1.25zM142.98 250.28h1.25v1.25h-1.25zM138.96 249.85h1.25v1.25h-1.25zM137.39 245.36h1.25v1.25h-1.25zM134.24 249.87h1.25v1.25h-1.25zM130.56 252.4h1.25v1.25h-1.25zM139.38 254.63h1.25v1.25h-1.25zM132.14 250.19h1.25v1.25h-1.25zM136.45 246.47h1.25v1.25h-1.25zM144.38 253.66h1.25v1.25h-1.25zM141.39 248.92h1.25v1.25h-1.25zM142.67 243.04h1.25v1.25h-1.25zM140.83 251.47h1.25v1.25h-1.25zM139.67 250.42h1.25v1.25h-1.25zM133.34 252.74h1.25v1.25h-1.25zM140.77 246.52h1.25v1.25h-1.25zM143.95 249.48h1.25v1.25h-1.25zM132.19 245.54h1.25v1.25h-1.25zM134.95 248.13h1.25v1.25h-1.25zM135.28 250.18h1.25v1.25h-1.25zM140.6 251.32h1.25v1.25h-1.25zM138.27 250.43h1.25v1.25h-1.25zM141.6 251.46h1.25v1.25h-1.25zM130.39 253.9h1.25v1.25h-1.25zM140.99 244.2h1.25v1.25h-1.25zM142.56 252.13h1.25v1.25h-1.25zM142.9 250.08h1.25v1.25h-1.25zM150.28 250.61h1.25v1.25h-1.25zM139.81 249.58h1.25v1.25h-1.25zM136.05 251.62h1.25v1.25h-1.25zM137.19 248.08h1.25v1.25h-1.25zM129.54 255.94h1.25v1.25h-1.25zM142.53 247.93h1.25v1.25h-1.25zM146.8 248.64h1.25v1.25h-1.25zM143.85 247.97h1.25v1.25h-1.25zM144.75 247.95h1.25v1.25h-1.25zM148.63 251.08h1.25v1.25h-1.25zM139.08 249.42h1.25v1.25h-1.25zM145.93 248.33h1.25v1.25h-1.25zM146.33 248.16h1.25v1.25h-1.25zM141.34 248.65h1.25v1.25h-1.25zM143.76 252.15h1.25v1.25h-1.25zM132.79 255.47h1.25v1.25h-1.25zM137.73 249.23h1.25v1.25h-1.25zM139.76 251.72h1.25v1.25h-1.25zM135.8 248.34h1.25v1.25h-1.25zM137.63 254.53h1.25v1.25h-1.25zM132.96 253.08h1.25v1.25h-1.25zM140.36 247.63h1.25v1.25h-1.25zM135.4 251.56h1.25v1.25h-1.25zM142.09 249.96h1.25v1.25h-1.25zM132.34 256.14h1.25v1.25h-1.25zM139.64 252.16h1.25v1.25h-1.25zM144.6 241.66h1.25v1.25h-1.25zM141.07 248.34h1.25v1.25h-1.25zM146.74 254.32h1.25v1.25h-1.25zM136.98 247.24h1.25v1.25h-1.25zM143.92 251.77h1.25v1.25h-1.25zM142.09 252.04h1.25v1.25h-1.25zM130.25 250.79h1.25v1.25h-1.25zM140.26 250.43h1.25v1.25h-1.25zM139.61 252.16h1.25v1.25h-1.25zM144.86 257.71h1.25v1.25h-1.25zM134.92 249.37h1.25v1.25h-1.25zM133.8 250.18h1.25v1.25h-1.25zM145.6 242.79h1.25v1.25h-1.25zM156.56 239.6h1.25v1.25h-1.25zM148.35 241.42h1.25v1.25h-1.25zM159.23 239.17h1.25v1.25h-1.25zM148.13 241.86h1.25v1.25h-1.25zM151.09 249.38h1.25v1.25h-1.25zM146.67 244.31h1.25v1.25h-1.25zM152.62 244.79h1.25v1.25h-1.25zM153.61 237.47h1.25v1.25h-1.25zM151.87 242.5h1.25v1.25h-1.25zM154.39 241.53h1.25v1.25h-1.25zM138.88 218.96h1.25v1.25h-1.25zM134.36 216.86h1.25v1.25h-1.25zM136.65 220.78h1.25v1.25h-1.25zM142.86 218.71h1.25v1.25h-1.25zM126.77 218.37h1.25v1.25h-1.25zM133.12 216.82h1.25v1.25h-1.25zM128.41 220.74h1.25v1.25h-1.25zM139.41 216.8h1.25v1.25h-1.25zM137.01 221.8h1.25v1.25h-1.25zM137.84 220.46h1.25v1.25h-1.25zM136.24 219.6h1.25v1.25h-1.25zM138.95 216.27h1.25v1.25h-1.25zM129.15 213.79h1.25v1.25h-1.25zM140.32 215.17h1.25v1.25h-1.25zM137.94 216.55h1.25v1.25h-1.25zM135.38 217.29h1.25v1.25h-1.25zM144.4 216.86h1.25v1.25h-1.25zM131.28 217.95h1.25v1.25h-1.25zM143.2 215.69h1.25v1.25h-1.25zM149.69 222.16h1.25v1.25h-1.25zM136.48 215.41h1.25v1.25h-1.25zM142.53 222.26h1.25v1.25h-1.25zM153.64 213.98h1.25v1.25h-1.25zM126.75 219.06h1.25v1.25h-1.25zM127.67 221.95h1.25v1.25h-1.25zM136.17 217.21h1.25v1.25h-1.25zM134.27 217.76h1.25v1.25h-1.25zM140.29 221.72h1.25v1.25h-1.25zM141.71 215.33h1.25v1.25h-1.25zM153.08 219.48h1.25v1.25h-1.25zM131.7 217.36h1.25v1.25h-1.25zM155.68 220.83h1.25v1.25h-1.25zM144.35 220.39h1.25v1.25h-1.25zM145.8 215.8h1.25v1.25h-1.25zM153.37 221.63h1.25v1.25h-1.25zM159.18 226.42h1.25v1.25h-1.25zM155.41 208.69h1.25v1.25h-1.25zM180.38 229.23h1.25v1.25h-1.25zM174.83 215.44h1.25v1.25h-1.25zM150.14 239.95h1.25v1.25h-1.25zM144.67 255.15h1.25v1.25h-1.25zM123.19 251.74h1.25v1.25h-1.25zM117.49 254.56h1.25v1.25h-1.25zM110.07 213.51h1.25v1.25h-1.25zM179.75 232.12h1.25v1.25h-1.25zM124.08 250.3h1.25v1.25h-1.25zM162.73 232.09h1.25v1.25h-1.25zM177.9 249.75h1.25v1.25h-1.25zM114.85 239.38h1.25v1.25h-1.25zM113.82 262.89h1.25v1.25h-1.25zM117.76 238.26h1.25v1.25h-1.25zM115.45 258.47h1.25v1.25h-1.25zM110.45 262.19h1.25v1.25h-1.25zM126.86 243.45h1.25v1.25h-1.25zM114.13 243.35h1.25v1.25h-1.25zM115.97 238.96h1.25v1.25h-1.25zM117.72 253.8h1.25v1.25h-1.25zM114.26 259.76h1.25v1.25h-1.25zM112.53 261.47h1.25v1.25h-1.25zM111.38 261.01h1.25v1.25h-1.25zM111.17 261.36h1.25v1.25h-1.25zM111.88 263.81h1.25v1.25h-1.25z" fill="#000" fill-opacity="0.7"/>
<path d="M139.9 251.6h1.25v1.25h-1.25zM140.56 246.78h1.25v1.25h-1.25zM144.48 247.51h1.25v1.25h-1.25zM138.01 251.48h1.25v1.25h-1.25zM136.44 251.19h1.25v1.25h-1.25zM139.13 251.93h1.25v1.25h-1.25zM140.56 250.14h1.25v1.25h-1.25zM141.59 254.34h1.25v1.25h-1.25zM133.82 249.53h1.25v1.25h-1.25zM143.66 250.65h1.25v1.25h-1.25zM141.08 251.15h1.25v1.25h-1.25zM128.7 252.43h1.25v1.25h-1.25zM138.99 253.97h1.25v1.25h-1.25zM142.26 250.01h1.25v1.25h-1.25zM137.34 252.28h1.25v1.25h-1.25zM140.46 250.06h1.25v1.25h-1.25zM136.02 255.58h1.25v1.25h-1.25zM135.52 254.64h1.25v1.25h-1.25zM132.65 248.08h1.25v1.25h-1.25zM138.24 251.3h1.25v1.25h-1.25zM134.22 252.74h1.25v1.25h-1.25zM138.68 254.61h1.25v1.25h-1.25zM140.41 247.68h1.25v1.25h-1.25zM135.92 252.8h1.25v1.25h-1.25zM141.37 247.61h1.25v1.25h-1.25zM139.62 248.88h1.25v1.25h-1.25zM139.32 253.17h1.25v1.25h-1.25zM143.3 247.02h1.25v1.25h-1.25zM135.87 249.7h1.25v1.25h-1.25zM140.74 247.97h1.25v1.25h-1.25zM133.64 246.25h1.25v1.25h-1.25zM135.06 251.78h1.25v1.25h-1.25zM141.94 255.21h1.25v1.25h-1.25zM139.31 251.49h1.25v1.25h-1.25zM135.59 246.47h1.25v1.25h-1.25zM136.91 247.95h1.25v1.25h-1.25zM143.36 251.29h1.25v1.25h-1.25zM136.96 250.96h1.25v1.25h-1.25zM139.57 249.26h1.25v1.25h-1.25zM138.88 251.58h1.25v1.25h-1.25zM131.49 247.23h1.25v1.25h-1.25zM145.13 249.37h1.25v1.25h-1.25zM138.78 247.45h1.25v1.25h-1.25zM139.27 252.76h1.25v1.25h-1.25zM138.47 247.51h1.25v1.25h-1.25zM136.69 247.94h1.25v1.25h-1.25zM134.74 249.55h1.25v1.25h-1.25zM131.46 254.57h1.25v1.25h-1.25zM143.2 252.84h1.25v1.25h-1.25zM136.03 249.55h1.25v1.25h-1.25zM143.75 249.7h1.25v1.25h-1.25zM140.56 251.22h1.25v1.25h-1.25zM136.18 249.39h1.25v1.25h-1.25zM138.8 254.2h1.25v1.25h-1.25zM134.83 249.69h1.25v1.25h-1.25zM139.73 249.16h1.25v1.25h-1.25zM137.01 247.72h1.25v1.25h-1.25zM141.51 247.11h1.25v1.25h-1.25zM136.53 251.46h1.25v1.25h-1.25zM137.31 250.89h1.25v1.25h-1.25zM140.57 251.73h1.25v1.25h-1.25zM142.74 252.8h1.25v1.25h-1.25zM141.08 250.27h1.25v1.25h-1.25zM147.37 246.11h1.25v1.25h-1.25zM142.3 250.45h1.25v1.25h-1.25zM143.47 251.16h1.25v1.25h-1.25zM135.94 252.2h1.25v1.25h-1.25zM135.06 254.77h1.25v1.25h-1.25zM141.42 254.96h1.25v1.25h-1.25zM134.05 251.36h1.25v1.25h-1.25zM142.4 243.74h1.25v1.25h-1.25zM140.43 251.27h1.25v1.25h-1.25zM135.23 251.42h1.25v1.25h-1.25zM136.7 251.39h1.25v1.25h-1.25zM134.31 252.73h1.25v1.25h-1.25zM133.58 251.69h1.25v1.25h-1.25zM141.22 247.38h1.25v1.25h-1.25zM132.95 253.5h1.25v1.25h-1.25zM134.2 251.5h1.25v1.25h-1.25zM135.35 250.18h1.25v1.25h-1.25zM145.43 252.16h1.25v1.25h-1.25zM141.8 250.98h1.25v1.25h-1.25zM136.47 248.58h1.25v1.25h-1.25zM135.27 250.03h1.25v1.25h-1.25zM135.77 251.15h1.25v1.25h-1.25zM140.99 248.97h1.25v1.25h-1.25zM134.93 251.55h1.25v1.25h-1.25zM134.43 258.57h1.25v1.25h-1.25zM140.43 253.05h1.25v1.25h-1.25zM137.79 251.69h1.25v1.25h-1.25zM139.02 254.9h1.25v1.25h-1.25zM139.27 252.8h1.25v1.25h-1.25zM135.04 247.69h1.25v1.25h-1.25zM137.88 251.8h1.25v1.25h-1.25zM133.65 249.84h1.25v1.25h-1.25zM138.77 250.91h1.25v1.25h-1.25zM126.24 252.83h1.25v1.25h-1.25zM130.83 249.9h1.25v1.25h-1.25zM137.43 252.98h1.25v1.25h-1.25zM145.29 249.58h1.25v1.25h-1.25zM142.56 252.36h1.25v1.25h-1.25zM134.82 252.62h1.25v1.25h-1.25zM139.67 249.14h1.25v1.25h-1.25zM148.43 254.15h1.25v1.25h-1.25zM142.63 250.25h1.25v1.25h-1.25zM139.27 252.1h1.25v1.25h-1.25zM139.71 243.31h1.25v1.25h-1.25zM135.96 250.25h1.25v1.25h-1.25zM137.14 255.02h1.25v1.25h-1.25zM139.23 251.45h1.25v1.25h-1.25zM137.34 250.29h1.25v1.25h-1.25zM128.33 251.35h1.25v1.25h-1.25zM130.9 249.61h1.25v1.25h-1.25zM139.82 247.31h1.25v1.25h-1.25zM135.48 249.71h1.25v1.25h-1.25zM134.63 246.49h1.25v1.25h-1.25zM138.13 248.89h1.25v1.25h-1.25zM140.95 249.97h1.25v1.25h-1.25zM136.2 252.73h1.25v1.25h-1.25zM137.87 248.54h1.25v1.25h-1.25zM132.32 251.45h1.25v1.25h-1.25zM137.68 249.5h1.25v1.25h-1.25zM136.98 252.85h1.25v1.25h-1.25zM141.51 250.26h1.25v1.25h-1.25zM137.49 251.96h1.25v1.25h-1.25zM140.23 246.27h1.25v1.25h-1.25zM140.76 246.54h1.25v1.25h-1.25zM135.15 252.66h1.25v1.25h-1.25zM132.36 252.68h1.25v1.25h-1.25zM141.72 251.36h1.25v1.25h-1.25zM137.8 247.1h1.25v1.25h-1.25zM132.26 248.71h1.25v1.25h-1.25zM149.51 248.81h1.25v1.25h-1.25zM143.13 252.27h1.25v1.25h-1.25zM139.58 250.63h1.25v1.25h-1.25zM142.55 251.49h1.25v1.25h-1.25zM133.34 246.66h1.25v1.25h-1.25zM134.97 256.31h1.25v1.25h-1.25zM141.6 249.59h1.25v1.25h-1.25zM144.83 250.22h1.25v1.25h-1.25zM135.95 254.23h1.25v1.25h-1.25zM134.33 252.19h1.25v1.25h-1.25zM141.24 252.29h1.25v1.25h-1.25zM135.11 253.06h1.25v1.25h-1.25zM141.63 247.73h1.25v1.25h-1.25zM142.62 248.78h1.25v1.25h-1.25zM134.07 244.72h1.25v1.25h-1.25zM129.55 248.87h1.25v1.25h-1.25zM139.98 247.76h1.25v1.25h-1.25zM138.13 248.8h1.25v1.25h-1.25zM144.66 253.95h1.25v1.25h-1.25zM142.53 250.24h1.25v1.25h-1.25zM142.25 251.12h1.25v1.25h-1.25zM137.03 248.52h1.25v1.25h-1.25zM136.68 252.73h1.25v1.25h-1.25zM138.94 247.93h1.25v1.25h-1.25zM137.9 247.9h1.25v1.25h-1.25zM131.43 254.33h1.25v1.25h-1.25zM144.75 253.16h1.25v1.25h-1.25zM139.95 248.88h1.25v1.25h-1.25zM140.04 251.09h1.25v1.25h-1.25zM138.92 248.72h1.25v1.25h-1.25zM141.76 252.51h1.25v1.25h-1.25zM139.13 248.04h1.25v1.25h-1.25zM134.56 249.34h1.25v1.25h-1.25zM133.9 247.98h1.25v1.25h-1.25zM135.72 251.56h1.25v1.25h-1.25zM146.07 251.44h1.25v1.25h-1.25zM139.96 252.91h1.25v1.25h-1.25zM140.83 251.66h1.25v1.25h-1.25zM134.14 248.04h1.25v1.25h-1.25zM137.42 254.14h1.25v1.25h-1.25zM137.66 251.64h1.25v1.25h-1.25zM136.71 249.5h1.25v1.25h-1.25zM138.24 244.12h1.25v1.25h-1.25zM135.34 249.24h1.25v1.25h-1.25zM131.07 249.4h1.25v1.25h-1.25zM140.42 250.39h1.25v1.25h-1.25zM144.17 256.2h1.25v1.25h-1.25zM135.29 252.98h1.25v1.25h-1.25zM144.45 250.1h1.25v1.25h-1.25zM145.96 248.29h1.25v1.25h-1.25zM139.44 250.21h1.25v1.25h-1.25zM135.3 248.22h1.25v1.25h-1.25zM132.16 253.78h1.25v1.25h-1.25zM139.81 251.54h1.25v1.25h-1.25zM139.33 251.34h1.25v1.25h-1.25zM136.2 246.81h1.25v1.25h-1.25zM135.72 252.49h1.25v1.25h-1.25zM141.27 251.46h1.25v1.25h-1.25zM136.01 248.95h1.25v1.25h-1.25zM135.73 249.95h1.25v1.25h-1.25zM136.21 250.89h1.25v1.25h-1.25zM134.06 250.37h1.25v1.25h-1.25zM144.64 248.94h1.25v1.25h-1.25zM139.8 252.66h1.25v1.25h-1.25zM140.32 254.95h1.25v1.25h-1.25zM142.8 248.77h1.25v1.25h-1.25zM140.27 250.95h1.25v1.25h-1.25zM137.49 254.75h1.25v1.25h-1.25zM140.62 246.81h1.25v1.25h-1.25zM141.55 246.05h1.25v1.25h-1.25zM136.53 252.06h1.25v1.25h-1.25zM135.96 248.31h1.25v1.25h-1.25zM140.21 250.86h1.25v1.25h-1.25zM140.23 247.69h1.25v1.25h-1.25zM141.54 250.98h1.25v1.25h-1.25zM130.84 247.89h1.25v1.25h-1.25zM138.31 247.36h1.25v1.25h-1.25zM133.77 248.51h1.25v1.25h-1.25zM137 252.06h1.25v1.25h-1.25zM140.55 249.69h1.25v1.25h-1.25zM137 249.6h1.25v1.25h-1.25zM137.46 252.97h1.25v1.25h-1.25zM133.21 249.2h1.25v1.25h-1.25zM135.05 247.7h1.25v1.25h-1.25zM134.46 246.16h1.25v1.25h-1.25zM136.74 249.06h1.25v1.25h-1.25zM135.51 249.43h1.25v1.25h-1.25zM138.54 245.92h1.25v1.25h-1.25zM135.54 249.48h1.25v1.25h-1.25zM142.79 249.1h1.25v1.25h-1.25zM139.52 249.81h1.25v1.25h-1.25zM132.9 250.76h1.25v1.25h-1.25zM137.93 255.42h1.25v1.25h-1.25zM139.59 247.81h1.25v1.25h-1.25zM137.38 245.83h1.25v1.25h-1.25zM129.39 250.32h1.25v1.25h-1.25zM138.08 251.02h1.25v1.25h-1.25zM137.89 250.55h1.25v1.25h-1.25zM141.92 250.47h1.25v1.25h-1.25zM136.8 253.26h1.25v1.25h-1.25zM143.09 247.12h1.25v1.25h-1.25zM142.22 252.45h1.25v1.25h-1.25zM134.89 251.97h1.25v1.25h-1.25zM144.96 249.43h1.25v1.25h-1.25zM143.55 244.7h1.25v1.25h-1.25zM141.98 244.72h1.25v1.25h-1.25zM133 248.61h1.25v1.25h-1.25zM140.67 242.56h1.25v1.25h-1.25zM143.14 248.2h1.25v1.25h-1.25zM135.61 250.73h1.25v1.25h-1.25zM136.02 248.65h1.25v1.25h-1.25zM140.69 250.82h1.25v1.25h-1.25zM148.07 254.81h1.25v1.25h-1.25zM136.01 255.37h1.25v1.25h-1.25zM143.21 247.65h1.25v1.25h-1.25zM150.82 248.66h1.25v1.25h-1.25zM141.52 248.29h1.25v1.25h-1.25zM145.38 252.76h1.25v1.25h-1.25zM136.42 254.66h1.25v1.25h-1.25zM144.16 246.24h1.25v1.25h-1.25zM143.17 252.39h1.25v1.25h-1.25zM150.75 247.69h1.25v1.25h-1.25zM144.85 253.35h1.25v1.25h-1.25zM139.54 253.45h1.25v1.25h-1.25zM133.62 255.45h1.25v1.25h-1.25zM142.93 250.89h1.25v1.25h-1.25zM146.73 246.63h1.25v1.25h-1.25zM138.4 244.95h1.25v1.25h-1.25zM143.91 251.04h1.25v1.25h-1.25zM146.22 246.18h1.25v1.25h-1.25zM146.99 241.2h1.25v1.25h-1.25zM131.23 253.05h1.25v1.25h-1.25zM140.79 248.43h1.25v1.25h-1.25zM144.36 247.45h1.25v1.25h-1.25zM136.26 250.22h1.25v1.25h-1.25zM132.47 252.98h1.25v1.25h-1.25zM140.07 249.89h1.25v1.25h-1.25zM139.02 247.5h1.25v1.25h-1.25zM141.78 244.74h1.25v1.25h-1.25zM143.37 251.46h1.25v1.25h-1.25zM149.26 243.8h1.25v1.25h-1.25zM155.52 242.94h1.25v1.25h-1.25zM158.12 239.98h1.25v1.25h-1.25zM151.3 245.35h1.25v1.25h-1.25zM156.78 239.53h1.25v1.25h-1.25zM151.47 245.95h1.25v1.25h-1.25zM151.2 245.81h1.25v1.25h-1.25zM152.08 238.28h1.25v1.25h-1.25zM155.73 242.59h1.25v1.25h-1.25zM147.18 242.24h1.25v1.25h-1.25zM160.4 241.98h1.25v1.25h-1.25zM134.4 219.81h1.25v1.25h-1.25zM134.4 220.69h1.25v1.25h-1.25zM131.13 216.68h1.25v1.25h-1.25zM137.67 218.11h1.25v1.25h-1.25zM141.03 221.97h1.25v1.25h-1.25zM133.64 220.07h1.25v1.25h-1.25zM142.03 217.5h1.25v1.25h-1.25zM120.07 221.26h1.25v1.25h-1.25zM139.34 217.68h1.25v1.25h-1.25zM141.39 217.51h1.25v1.25h-1.25zM134.49 222.96h1.25v1.25h-1.25zM134.89 222.32h1.25v1.25h-1.25zM134.54 219.35h1.25v1.25h-1.25zM140.8 222.06h1.25v1.25h-1.25zM127.87 220.21h1.25v1.25h-1.25zM133.37 219h1.25v1.25h-1.25zM133.48 216.94h1.25v1.25h-1.25zM143.18 222.05h1.25v1.25h-1.25zM149.31 216.45h1.25v1.25h-1.25zM148.89 220.45h1.25v1.25h-1.25zM129.96 219.21h1.25v1.25h-1.25zM140.85 217.34h1.25v1.25h-1.25zM132.56 219.45h1.25v1.25h-1.25zM122.26 220.34h1.25v1.25h-1.25zM164.71 213.47h1.25v1.25h-1.25zM147 217.68h1.25v1.25h-1.25zM141.21 223.05h1.25v1.25h-1.25zM143.95 218.19h1.25v1.25h-1.25zM144.47 215.99h1.25v1.25h-1.25zM155.66 221.04h1.25v1.25h-1.25zM140.93 221.31h1.25v1.25h-1.25zM130.33 221.5h1.25v1.25h-1.25zM153.43 217.38h1.25v1.25h-1.25zM149.38 218.66h1.25v1.25h-1.25zM181.34 223.57h1.25v1.25h-1.25zM179.1 215.79h1.25v1.25h-1.25zM160.21 220.75h1.25v1.25h-1.25zM154.52 231.15h1.25v1.25h-1.25zM162.31 224.96h1.25v1.25h-1.25zM138.04 247.18h1.25v1.25h-1.25zM113.4 214.78h1.25v1.25h-1.25zM178.28 261.53h1.25v1.25h-1.25zM111.41 220.11h1.25v1.25h-1.25zM169.91 223.61h1.25v1.25h-1.25zM123.08 250.57h1.25v1.25h-1.25zM107.59 215.7h1.25v1.25h-1.25zM171 260.35h1.25v1.25h-1.25zM140.31 229.06h1.25v1.25h-1.25zM142.93 218.37h1.25v1.25h-1.25zM117.55 259.59h1.25v1.25h-1.25zM116.74 238.48h1.25v1.25h-1.25zM126.62 244.38h1.25v1.25h-1.25zM120.56 261.08h1.25v1.25h-1.25zM110.96 251.34h1.25v1.25h-1.25zM124.29 255.59h1.25v1.25h-1.25zM115.65 257.44h1.25v1.25h-1.25zM110.36 252.54h1.25v1.25h-1.25zM109.56 259.58h1.25v1.25h-1.25zM108.99 259.58h1.25v1.25h-1.25zM113.01 262.84h1.25v1.25h-1.25zM110.14 263.08h1.25v1.25h-1.25zM113.41 261.74h1.25v1.25h-1.25z" fill="#000" fill-opacity="0.7"/>
<path d="M140.4 251.25h1.25v1.25h-1.25zM141.51 249.75h1.25v1.25h-1.25zM139.21 255.02h1.25v1.25h-1.25zM140.48 245.64h1.25v1.25h-1.25zM140.43 252.76h1.25v1.25h-1.25zM140.18 252.14h1.25v1.25h-1.25zM140.02 245.3h1.25v1.25h-1.25zM134.92 253.84h1.25v1.25h-1.25zM135.35 254.06h1.25v1.25h-1.25zM133.91 250.07h1.25v1.25h-1.25zM138.6 253.6h1.25v1.25h-1.25zM134.25 250.8h1.25v1.25h-1.25zM139.85 248.31h1.25v1.25h-1.25zM144.31 251.2h1.25v1.25h-1.25zM136.76 251.12h1.25v1.25h-1.25zM136.35 252.77h1.25v1.25h-1.25zM136.58 250.24h1.25v1.25h-1.25zM140.64 253.71h1.25v1.25h-1.25zM139.82 249.16h1.25v1.25h-1.25zM139.42 250.21h1.25v1.25h-1.25zM140.73 246.21h1.25v1.25h-1.25zM138.21 250.33h1.25v1.25h-1.25zM144.75 248.69h1.25v1.25h-1.25zM140.9 252.8h1.25v1.25h-1.25zM131.38 251.06h1.25v1.25h-1.25zM139.39 248.76h1.25v1.25h-1.25zM142.59 249.5h1.25v1.25h-1.25zM145.83 251.98h1.25v1.25h-1.25zM143.12 252.28h1.25v1.25h-1.25zM139.67 247.19h1.25v1.25h-1.25zM136.58 248.34h1.25v1.25h-1.25zM132.47 249.81h1.25v1.25h-1.25zM138.14 251.93h1.25v1.25h-1.25zM144.3 249.36h1.25v1.25h-1.25zM139.56 248.79h1.25v1.25h-1.25zM136.23 251.59h1.25v1.25h-1.25zM143.27 253.46h1.25v1.25h-1.25zM136.47 247.42h1.25v1.25h-1.25zM144.4 251.66h1.25v1.25h-1.25zM139.05 249.8h1.25v1.25h-1.25zM139.34 246.72h1.25v1.25h-1.25zM136.85 252.83h1.25v1.25h-1.25zM132.27 250.56h1.25v1.25h-1.25zM130.54 251.93h1.25v1.25h-1.25zM137.27 250.1h1.25v1.25h-1.25zM136.96 247.06h1.25v1.25h-1.25zM142.35 248.18h1.25v1.25h-1.25zM140.94 247.6h1.25v1.25h-1.25zM138.28 249.78h1.25v1.25h-1.25zM136.74 250.83h1.25v1.25h-1.25zM135.95 245.49h1.25v1.25h-1.25zM131.9 250.95h1.25v1.25h-1.25zM137.56 253.01h1.25v1.25h-1.25zM136.04 251.12h1.25v1.25h-1.25zM139.28 252.78h1.25v1.25h-1.25zM135.63 253.48h1.25v1.25h-1.25zM135.26 244.6h1.25v1.25h-1.25zM140.46 249.33h1.25v1.25h-1.25zM140.84 252.85h1.25v1.25h-1.25zM136.32 249.53h1.25v1.25h-1.25zM139.48 245.97h1.25v1.25h-1.25zM138.42 246.43h1.25v1.25h-1.25zM134.49 255.3h1.25v1.25h-1.25zM144.35 250.62h1.25v1.25h-1.25zM133.27 247.19h1.25v1.25h-1.25zM136.76 251.55h1.25v1.25h-1.25zM136.67 251.42h1.25v1.25h-1.25zM134.15 248.72h1.25v1.25h-1.25zM144.18 246.92h1.25v1.25h-1.25zM140.46 252.96h1.25v1.25h-1.25zM136.64 252.09h1.25v1.25h-1.25zM132.56 246.68h1.25v1.25h-1.25zM137.91 250.58h1.25v1.25h-1.25zM141.15 253.77h1.25v1.25h-1.25zM133.8 253.86h1.25v1.25h-1.25zM131.49 252.69h1.25v1.25h-1.25zM135.94 251.88h1.25v1.25h-1.25zM141.69 246.13h1.25v1.25h-1.25zM145.75 245.15h1.25v1.25h-1.25zM139.79 254.4h1.25v1.25h-1.25zM141.98 247.91h1.25v1.25h-1.25zM143.62 245.21h1.25v1.25h-1.25zM137.4 250.31h1.25v1.25h-1.25zM140.7 250.47h1.25v1.25h-1.25zM143.34 250.97h1.25v1.25h-1.25zM139.22 249.8h1.25v1.25h-1.25zM139.26 251.56h1.25v1.25h-1.25zM137.79 251.36h1.25v1.25h-1.25zM137.72 247.34h1.25v1.25h-1.25zM143.58 250.36h1.25v1.25h-1.25zM136.25 247.78h1.25v1.25h-1.25zM136.52 248.79h1.25v1.25h-1.25zM135.6 248.57h1.25v1.25h-1.25zM134.29 250.52h1.25v1.25h-1.25zM144.27 245.36h1.25v1.25h-1.25zM142.32 248.66h1.25v1.25h-1.25zM141.63 249.31h1.25v1.25h-1.25zM139.33 251.58h1.25v1.25h-1.25zM139.95 250.63h1.25v1.25h-1.25zM130.32 250.84h1.25v1.25h-1.25zM143.67 247.76h1.25v1.25h-1.25zM136.96 256.72h1.25v1.25h-1.25zM141.08 250.73h1.25v1.25h-1.25zM141.21 248.43h1.25v1.25h-1.25zM135.69 249.83h1.25v1.25h-1.25zM137.75 248.29h1.25v1.25h-1.25zM138.96 247.78h1.25v1.25h-1.25zM138.22 249.19h1.25v1.25h-1.25zM139.75 250.6h1.25v1.25h-1.25zM139.56 254.81h1.25v1.25h-1.25zM136.2 250.6h1.25v1.25h-1.25zM137.64 248.58h1.25v1.25h-1.25zM140.35 249.03h1.25v1.25h-1.25zM134.42 254.28h1.25v1.25h-1.25zM137.31 253.24h1.25v1.25h-1.25zM139.93 254.88h1.25v1.25h-1.25zM137.65 249.42h1.25v1.25h-1.25zM134.94 253.14h1.25v1.25h-1.25zM134.43 249.22h1.25v1.25h-1.25zM137.62 250.04h1.25v1.25h-1.25zM140.63 247.99h1.25v1.25h-1.25zM147.34 249.96h1.25v1.25h-1.25zM140.11 244.14h1.25v1.25h-1.25zM142.02 247.45h1.25v1.25h-1.25zM140.38 249.23h1.25v1.25h-1.25zM140.79 253.83h1.25v1.25h-1.25zM138.72 254.53h1.25v1.25h-1.25zM134.51 248.12h1.25v1.25h-1.25zM133.88 244.1h1.25v1.25h-1.25zM133.51 252.96h1.25v1.25h-1.25zM138.57 252.59h1.25v1.25h-1.25zM136.88 249.58h1.25v1.25h-1.25zM136 250.89h1.25v1.25h-1.25zM139.14 252.34h1.25v1.25h-1.25zM141.94 247.86h1.25v1.25h-1.25zM139.01 247.6h1.25v1.25h-1.25zM144.3 247.04h1.25v1.25h-1.25zM137.05 251.31h1.25v1.25h-1.25zM134.81 253.17h1.25v1.25h-1.25zM134.66 251.5h1.25v1.25h-1.25zM138.1 247.98h1.25v1.25h-1.25zM133.8 247.86h1.25v1.25h-1.25zM134.99 250.76h1.25v1.25h-1.25zM142.8 254.97h1.25v1.25h-1.25zM144.68 247.3h1.25v1.25h-1.25zM142.44 252.29h1.25v1.25h-1.25zM138.63 245.43h1.25v1.25h-1.25zM136.84 248.59h1.25v1.25h-1.25zM141.32 248.83h1.25v1.25h-1.25zM137.43 250.84h1.25v1.25h-1.25zM137.81 253.47h1.25v1.25h-1.25zM142.45 257.6h1.25v1.25h-1.25zM129.18 250.99h1.25v1.25h-1.25zM135.42 249.36h1.25v1.25h-1.25zM145.33 252.7h1.25v1.25h-1.25zM139.3 251.55h1.25v1.25h-1.25zM139.73 248.35h1.25v1.25h-1.25zM137.02 252.79h1.25v1.25h-1.25zM134.69 245.41h1.25v1.25h-1.25zM135.07 250.8h1.25v1.25h-1.25zM136.62 248.16h1.25v1.25h-1.25zM132.37 253.64h1.25v1.25h-1.25zM137.3 253.32h1.25v1.25h-1.25zM133.89 251.64h1.25v1.25h-1.25zM137.19 248.79h1.25v1.25h-1.25zM136.25 248.43h1.25v1.25h-1.25zM130.96 246.92h1.25v1.25h-1.25zM134.48 249.93h1.25v1.25h-1.25zM138.9 251.08h1.25v1.25h-1.25zM137.48 246.91h1.25v1.25h-1.25zM138.56 253h1.25v1.25h-1.25zM140.26 246.09h1.25v1.25h-1.25zM138.71 249.5h1.25v1.25h-1.25zM141.1 245.33h1.25v1.25h-1.25zM140.74 248.93h1.25v1.25h-1.25zM141.57 245.62h1.25v1.25h-1.25zM135.92 249.66h1.25v1.25h-1.25zM140.37 249.6h1.25v1.25h-1.25zM131.42 251.78h1.25v1.25h-1.25zM134.46 250.02h1.25v1.25h-1.25zM133.23 249.29h1.25v1.25h-1.25zM136.55 247.9h1.25v1.25h-1.25zM138.1 249.44h1.25v1.25h-1.25zM138.6 253.41h1.25v1.25h-1.25zM139.62 254.33h1.25v1.25h-1.25zM135.86 250.03h1.25v1.25h-1.25zM135.52 251.3h1.25v1.25h-1.25zM136.62 242.26h1.25v1.25h-1.25zM139.01 246.59h1.25v1.25h-1.25zM136.83 250.6h1.25v1.25h-1.25zM134.4 254.44h1.25v1.25h-1.25zM132.55 252.68h1.25v1.25h-1.25zM138.67 245.84h1.25v1.25h-1.25zM133.84 249.88h1.25v1.25h-1.25zM135.62 253.06h1.25v1.25h-1.25zM136.59 252.53h1.25v1.25h-1.25zM138.72 249.29h1.25v1.25h-1.25zM141.04 250.06h1.25v1.25h-1.25zM138.45 249.78h1.25v1.25h-1.25zM137.61 252.24h1.25v1.25h-1.25zM141.91 251.01h1.25v1.25h-1.25zM141.04 247.31h1.25v1.25h-1.25zM142.06 253.32h1.25v1.25h-1.25zM143.09 247.58h1.25v1.25h-1.25zM138.12 253.77h1.25v1.25h-1.25zM134.98 252.48h1.25v1.25h-1.25zM143.67 245.1h1.25v1.25h-1.25zM135.03 252.28h1.25v1.25h-1.25zM132.38 248.74h1.25v1.25h-1.25zM141.31 245.02h1.25v1.25h-1.25zM136.35 253.94h1.25v1.25h-1.25zM147.06 244.74h1.25v1.25h-1.25zM135.03 251.11h1.25v1.25h-1.25zM140.18 250.92h1.25v1.25h-1.25zM129.48 251.3h1.25v1.25h-1.25zM137.95 255.67h1.25v1.25h-1.25zM137.67 250.46h1.25v1.25h-1.25zM141.25 253.99h1.25v1.25h-1.25zM144.76 250.74h1.25v1.25h-1.25zM140.83 253.04h1.25v1.25h-1.25zM132.61 249.22h1.25v1.25h-1.25zM138.95 247.06h1.25v1.25h-1.25zM139.25 244.33h1.25v1.25h-1.25zM135.26 243.93h1.25v1.25h-1.25zM130.5 249.74h1.25v1.25h-1.25zM146.01 250.54h1.25v1.25h-1.25zM140.8 247h1.25v1.25h-1.25zM142.9 251.51h1.25v1.25h-1.25zM141.91 248.46h1.25v1.25h-1.25zM135.07 257.01h1.25v1.25h-1.25zM136.94 253.37h1.25v1.25h-1.25zM135.89 252.08h1.25v1.25h-1.25zM135.72 247.83h1.25v1.25h-1.25zM149.52 249.23h1.25v1.25h-1.25zM140.56 248.92h1.25v1.25h-1.25zM132.7 245.6h1.25v1.25h-1.25zM143.73 248.11h1.25v1.25h-1.25zM144.09 251.02h1.25v1.25h-1.25zM139.55 251.51h1.25v1.25h-1.25zM142.82 249.88h1.25v1.25h-1.25zM138.22 251.02h1.25v1.25h-1.25zM139.68 251.01h1.25v1.25h-1.25zM142.4 252.25h1.25v1.25h-1.25zM147.44 242.52h1.25v1.25h-1.25zM134.25 251.67h1.25v1.25h-1.25zM133.03 258.35h1.25v1.25h-1.25zM141.36 255.76h1.25v1.25h-1.25zM143.39 245.9h1.25v1.25h-1.25zM139.3 248.04h1.25v1.25h-1.25zM142.96 246.44h1.25v1.25h-1.25zM137 247.95h1.25v1.25h-1.25zM142.19 251.83h1.25v1.25h-1.25zM139.06 252.29h1.25v1.25h-1.25zM138.36 253.6h1.25v1.25h-1.25zM144.3 245.95h1.25v1.25h-1.25zM136.27 248.31h1.25v1.25h-1.25zM137.85 248.12h1.25v1.25h-1.25zM147.11 248.41h1.25v1.25h-1.25zM145.14 244.66h1.25v1.25h-1.25zM140.04 246.68h1.25v1.25h-1.25zM132.95 253.78h1.25v1.25h-1.25zM137.01 248.3h1.25v1.25h-1.25zM146.55 251.65h1.25v1.25h-1.25zM132.33 247.64h1.25v1.25h-1.25zM140.52 253.81h1.25v1.25h-1.25zM141.65 249.36h1.25v1.25h-1.25zM134.55 247.35h1.25v1.25h-1.25zM140.53 248.59h1.25v1.25h-1.25zM146.1 250.42h1.25v1.25h-1.25zM141.55 248.56h1.25v1.25h-1.25zM148.48 248.94h1.25v1.25h-1.25zM140.37 250.23h1.25v1.25h-1.25zM150.8 243.39h1.25v1.25h-1.25zM149.25 244.47h1.25v1.25h-1.25zM149.2 249.28h1.25v1.25h-1.25zM157.74 244.64h1.25v1.25h-1.25zM147.32 243.05h1.25v1.25h-1.25zM154.16 244.08h1.25v1.25h-1.25zM153.18 244.2h1.25v1.25h-1.25zM153.29 244.13h1.25v1.25h-1.25zM149.42 247.31h1.25v1.25h-1.25zM153.36 243.36h1.25v1.25h-1.25zM154.96 242.09h1.25v1.25h-1.25zM142.11 217.96h1.25v1.25h-1.25zM137.48 221.55h1.25v1.25h-1.25zM129.16 217.44h1.25v1.25h-1.25zM134.09 221.76h1.25v1.25h-1.25zM135.93 216.74h1.25v1.25h-1.25zM124.9 218.96h1.25v1.25h-1.25zM136.04 218.67h1.25v1.25h-1.25zM128.81 218.33h1.25v1.25h-1.25zM134.38 219.99h1.25v1.25h-1.25zM149.25 219.45h1.25v1.25h-1.25zM124.51 221.15h1.25v1.25h-1.25zM127.86 218.01h1.25v1.25h-1.25zM131.15 218.4h1.25v1.25h-1.25zM128.27 219.73h1.25v1.25h-1.25zM127.97 219.22h1.25v1.25h-1.25zM151.03 215.07h1.25v1.25h-1.25zM134.06 219.77h1.25v1.25h-1.25zM137.99 219.12h1.25v1.25h-1.25zM155.49 223.54h1.25v1.25h-1.25zM156.43 221.44h1.25v1.25h-1.25zM134.27 222.03h1.25v1.25h-1.25zM147.74 212.5h1.25v1.25h-1.25zM155.03 216.92h1.25v1.25h-1.25zM125.69 220.01h1.25v1.25h-1.25zM150.87 219.01h1.25v1.25h-1.25zM142.21 219.09h1.25v1.25h-1.25zM145.18 220.03h1.25v1.25h-1.25zM150.39 221.67h1.25v1.25h-1.25zM148.96 215.11h1.25v1.25h-1.25zM141.83 220.63h1.25v1.25h-1.25zM164.17 219.59h1.25v1.25h-1.25zM138.07 223.4h1.25v1.25h-1.25zM145.25 216.78h1.25v1.25h-1.25zM140.94 219.55h1.25v1.25h-1.25zM165.58 225.93h1.25v1.25h-1.25zM169.43 229.5h1.25v1.25h-1.25zM165.31 221.53h1.25v1.25h-1.25zM161.97 227.17h1.25v1.25h-1.25zM162.17 221.06h1.25v1.25h-1.25zM124.21 219.31h1.25v1.25h-1.25zM170.21 264.56h1.25v1.25h-1.25zM112.97 212.69h1.25v1.25h-1.25zM149.37 258.52h1.25v1.25h-1.25zM141.44 236.98h1.25v1.25h-1.25zM172.36 208.47h1.25v1.25h-1.25zM149.73 218.12h1.25v1.25h-1.25zM124.32 243.31h1.25v1.25h-1.25zM126.97 216.25h1.25v1.25h-1.25zM108.32 264.82h1.25v1.25h-1.25zM107 241.56h1.25v1.25h-1.25zM112.1 243.71h1.25v1.25h-1.25zM106.57 256.92h1.25v1.25h-1.25zM113.82 258.81h1.25v1.25h-1.25zM115.59 259.26h1.25v1.25h-1.25zM109 260.6h1.25v1.25h-1.25zM120.86 241.2h1.25v1.25h-1.25zM120.81 240.19h1.25v1.25h-1.25zM106.79 262.72h1.25v1.25h-1.25zM110.12 260.38h1.25v1.25h-1.25zM107.76 258.54h1.25v1.25h-1.25zM110.77 260.67h1.25v1.25h-1.25z" fill="#000" fill-opacity="0.7"/>
<path d="M138.03 248.96h1.25v1.25h-1.25zM143.89 253.18h1.25v1.25h-1.25zM132.36 251.86h1.25v1.25h-1.25zM144.1 248.66h1.25v1.25h-1.25zM138.99 252.93h1.25v1.25h-1.25zM143.67 250.75h1.25v1.25h-1.25zM136.86 249.39h1.25v1.25h-1.25zM146.01 253.77h1.25v1.25h-1.25zM137.18 252.28h1.25v1.25h-1.25zM142.52 250.01h1.25v1.25h-1.25zM142.48 250.7h1.25v1.25h-1.25zM136.61 248.73h1.25v1.25h-1.25zM135.28 249.63h1.25v1.25h-1.25zM138.2 250.13h1.25v1.25h-1.25zM139.49 249.05h1.25v1.25h-1.25zM145.43 243.3h1.25v1.25h-1.25zM141.32 249.66h1.25v1.25h-1.25zM133.09 246.17h1.25v1.25h-1.25zM141.98 251.86h1.25v1.25h-1.25zM138 249.1h1.25v1.25h-1.25zM137.77 254.55h1.25v1.25h-1.25zM141.4 249.94h1.25v1.25h-1.25zM135.66 251h1.25v1.25h-1.25zM145.44 249.74h1.25v1.25h-1.25zM140.71 253.85h1.25v1.25h-1.25zM142.84 250.27h1.25v1.25h-1.25zM138.23 247.93h1.25v1.25h-1.25zM144.33 247h1.25v1.25h-1.25zM137.36 249.95h1.25v1.25h-1.25zM134.81 249.83h1.25v1.25h-1.25zM142.52 250.71h1.25v1.25h-1.25zM140.94 250.54h1.25v1.25h-1.25zM140.05 249.69h1.25v1.25h-1.25zM141.18 250.19h1.25v1.25h-1.25zM143.62 250.3h1.25v1.25h-1.25zM138.21 253.56h1.25v1.25h-1.25zM141.19 249.2h1.25v1.25h-1.25zM133.77 253.14h1.25v1.25h-1.25zM139.67 247.42h1.25v1.25h-1.25zM135.14 254.16h1.25v1.25h-1.25zM138.44 247.26h1.25v1.25h-1.25zM138.04 253.46h1.25v1.25h-1.25zM136.6 246.45h1.25v1.25h-1.25zM141.95 250.09h1.25v1.25h-1.25zM133.55 253.89h1.25v1.25h-1.25zM132.93 254.39h1.25v1.25h-1.25zM137.19 250.43h1.25v1.25h-1.25zM145.53 249.78h1.25v1.25h-1.25zM135.48 249.99h1.25v1.25h-1.25zM138.06 249.37h1.25v1.25h-1.25zM131.55 244.11h1.25v1.25h-1.25zM136.67 247.36h1.25v1.25h-1.25zM138.27 249.03h1.25v1.25h-1.25zM138.4 253.36h1.25v1.25h-1.25zM137.06 248.61h1.25v1.25h-1.25zM133.46 246.57h1.25v1.25h-1.25zM135.97 254.27h1.25v1.25h-1.25zM137.1 250.05h1.25v1.25h-1.25zM137.75 250.89h1.25v1.25h-1.25zM142.71 251.76h1.25v1.25h-1.25zM137.78 247.65h1.25v1.25h-1.25zM139.61 255.1h1.25v1.25h-1.25zM141.09 245.36h1.25v1.25h-1.25zM138.84 251.33h1.25v1.25h-1.25zM144.92 252.6h1.25v1.25h-1.25zM136.57 250.49h1.25v1.25h-1.25zM137.63 254.14h1.25v1.25h-1.25zM136.02 253.38h1.25v1.25h-1.25zM139.43 249.08h1.25v1.25h-1.25zM140.7 247.61h1.25v1.25h-1.25zM135.52 255.19h1.25v1.25h-1.25zM138.76 252.27h1.25v1.25h-1.25zM138.68 251.75h1.25v1.25h-1.25zM147.53 246.68h1.25v1.25h-1.25zM135.72 251.5h1.25v1.25h-1.25zM137.48 247.67h1.25v1.25h-1.25zM138.54 251.65h1.25v1.25h-1.25zM137.99 252.91h1.25v1.25h-1.25zM138.08 247.99h1.25v1.25h-1.25zM140.33 252.95h1.25v1.25h-1.25zM138.05 252.36h1.25v1.25h-1.25zM132.12 251.95h1.25v1.25h-1.25zM141.2 248.96h1.25v1.25h-1.25zM146.47 249.84h1.25v1.25h-1.25zM135.87 247.13h1.25v1.25h-1.25zM135.44 249.64h1.25v1.25h-1.25zM127.6 254.11h1.25v1.25h-1.25zM133.66 249.95h1.25v1.25h-1.25zM136.57 251.84h1.25v1.25h-1.25zM143.04 247.29h1.25v1.25h-1.25zM138.86 244.58h1.25v1.25h-1.25zM137.7 249.58h1.25v1.25h-1.25zM137.96 251.54h1.25v1.25h-1.25zM133.16 247.16h1.25v1.25h-1.25zM148.53 249.99h1.25v1.25h-1.25zM134.85 251.67h1.25v1.25h-1.25zM137.77 251.48h1.25v1.25h-1.25zM133.09 249.51h1.25v1.25h-1.25zM145.42 250.48h1.25v1.25h-1.25zM138.9 249.86h1.25v1.25h-1.25zM143.85 248.96h1.25v1.25h-1.25zM144.2 248.77h1.25v1.25h-1.25zM135.99 252.87h1.25v1.25h-1.25zM140.88 247.66h1.25v1.25h-1.25zM137.86 250.12h1.25v1.25h-1.25zM142.13 252.32h1.25v1.25h-1.25zM140.15 249.31h1.25v1.25h-1.25zM135.56 250.97h1.25v1.25h-1.25zM143.28 249.45h1.25v1.25h-1.25zM138.95 248.95h1.25v1.25h-1.25zM137.34 249.09h1.25v1.25h-1.25zM139.33 254.73h1.25v1.25h-1.25zM140.65 251.32h1.25v1.25h-1.25zM132.16 247.9h1.25v1.25h-1.25zM136.97 246.7h1.25v1.25h-1.25zM145.35 248.92h1.25v1.25h-1.25zM139.98 252.36h1.25v1.25h-1.25zM133.22 246.92h1.25v1.25h-1.25zM140.38 251.12h1.25v1.25h-1.25zM139.57 251.87h1.25v1.25h-1.25zM131.69 253.28h1.25v1.25h-1.25zM137.43 253.59h1.25v1.25h-1.25zM138.2 252.51h1.25v1.25h-1.25zM145.16 248.03h1.25v1.25h-1.25zM138.14 250.73h1.25v1.25h-1.25zM135.87 247.64h1.25v1.25h-1.25zM143.64 247.37h1.25v1.25h-1.25zM134.88 250.69h1.25v1.25h-1.25zM138.28 247.2h1.25v1.25h-1.25zM141.31 253.21h1.25v1.25h-1.25zM141.36 247.83h1.25v1.25h-1.25zM139.35 252.05h1.25v1.25h-1.25zM137.46 249.47h1.25v1.25h-1.25zM138.23 253.8h1.25v1.25h-1.25zM130.56 250.21h1.25v1.25h-1.25zM137.82 249.7h1.25v1.25h-1.25zM134.63 244.72h1.25v1.25h-1.25zM138.72 250.04h1.25v1.25h-1.25zM137.51 246.57h1.25v1.25h-1.25zM140.89 248.94h1.25v1.25h-1.25zM135.81 252.39h1.25v1.25h-1.25zM132.58 245.96h1.25v1.25h-1.25zM145.02 246.67h1.25v1.25h-1.25zM134.6 249.8h1.25v1.25h-1.25zM142.72 251.5h1.25v1.25h-1.25zM139.7 248.22h1.25v1.25h-1.25zM140.78 253.82h1.25v1.25h-1.25zM144.61 247.89h1.25v1.25h-1.25zM136.94 252.22h1.25v1.25h-1.25zM141.9 245.15h1.25v1.25h-1.25zM131.9 250.22h1.25v1.25h-1.25zM132.27 254.06h1.25v1.25h-1.25zM139.04 249.25h1.25v1.25h-1.25zM142.86 253.68h1.25v1.25h-1.25zM135.94 251.41h1.25v1.25h-1.25zM137.64 248.93h1.25v1.25h-1.25zM134.46 254.07h1.25v1.25h-1.25zM136.08 247.76h1.25v1.25h-1.25zM130.77 251.02h1.25v1.25h-1.25zM135.82 251.53h1.25v1.25h-1.25zM130.6 249.58h1.25v1.25h-1.25zM144.09 248.22h1.25v1.25h-1.25zM141.02 247.79h1.25v1.25h-1.25zM146.53 249.42h1.25v1.25h-1.25zM137.75 250.51h1.25v1.25h-1.25zM137.87 248.76h1.25v1.25h-1.25zM131.33 248.89h1.25v1.25h-1.25zM139.86 246.83h1.25v1.25h-1.25zM134.72 251.08h1.25v1.25h-1.25zM136.16 252.14h1.25v1.25h-1.25zM138 250.93h1.25v1.25h-1.25zM145.03 254.48h1.25v1.25h-1.25zM135.07 257.92h1.25v1.25h-1.25zM138 249.65h1.25v1.25h-1.25zM139.66 249.04h1.25v1.25h-1.25zM144.97 251.2h1.25v1.25h-1.25zM132.99 251.07h1.25v1.25h-1.25zM142.38 246.52h1.25v1.25h-1.25zM138.89 248.43h1.25v1.25h-1.25zM145.8 244.36h1.25v1.25h-1.25zM137.66 253.93h1.25v1.25h-1.25zM137.23 248.7h1.25v1.25h-1.25zM139.7 247.44h1.25v1.25h-1.25zM134.56 252.09h1.25v1.25h-1.25zM137.69 248.51h1.25v1.25h-1.25zM143.81 250.34h1.25v1.25h-1.25zM135.94 250.91h1.25v1.25h-1.25zM136.07 253.45h1.25v1.25h-1.25zM144.11 245.67h1.25v1.25h-1.25zM142.68 245.62h1.25v1.25h-1.25zM137.92 246.67h1.25v1.25h-1.25zM141.27 248.7h1.25v1.25h-1.25zM141.84 248.44h1.25v1.25h-1.25zM137.76 249.68h1.25v1.25h-1.25zM142.47 247.2h1.25v1.25h-1.25zM142.95 249.63h1.25v1.25h-1.25zM139.88 250.4h1.25v1.25h-1.25zM139.38 253.52h1.25v1.25h-1.25zM142.9 251.39h1.25v1.25h-1.25zM137.91 249.82h1.25v1.25h-1.25zM141.54 253.27h1.25v1.25h-1.25zM132.9 254.17h1.25v1.25h-1.25zM138.86 251.78h1.25v1.25h-1.25zM139.4 250.3h1.25v1.25h-1.25zM134.15 245.68h1.25v1.25h-1.25zM139.78 249.22h1.25v1.25h-1.25zM136.78 248.15h1.25v1.25h-1.25zM142.19 245.35h1.25v1.25h-1.25zM138.88 253.24h1.25v1.25h-1.25zM134.72 251.31h1.25v1.25h-1.25zM138.54 250.31h1.25v1.25h-1.25zM135.61 248.22h1.25v1.25h-1.25zM137.12 251.23h1.25v1.25h-1.25zM139.6 249.79h1.25v1.25h-1.25zM135.85 251.49h1.25v1.25h-1.25zM141 246.67h1.25v1.25h-1.25zM137.04 253.8h1.25v1.25h-1.25zM139.46 253.25h1.25v1.25h-1.25zM146.7 245.37h1.25v1.25h-1.25zM135.33 250.13h1.25v1.25h-1.25zM133.05 251.25h1.25v1.25h-1.25zM144.07 251.09h1.25v1.25h-1.25zM138.27 252.75h1.25v1.25h-1.25zM134.11 246.34h1.25v1.25h-1.25zM136.64 252.23h1.25v1.25h-1.25zM137.37 249.78h1.25v1.25h-1.25zM139.53 243.65h1.25v1.25h-1.25zM140.27 247.82h1.25v1.25h-1.25zM139.73 248.94h1.25v1.25h-1.25zM137.19 250.81h1.25v1.25h-1.25zM134.8 251.14h1.25v1.25h-1.25zM140.13 246.77h1.25v1.25h-1.25zM141.91 249.16h1.25v1.25h-1.25zM131.44 254.53h1.25v1.25h-1.25zM138.31 255.58h1.25v1.25h-1.25zM140.26 248.71h1.25v1.25h-1.25zM138.98 251.35h1.25v1.25h-1.25zM143.59 243.93h1.25v1.25h-1.25zM139.53 246.51h1.25v1.25h-1.25zM149.77 241.78h1.25v1.25h-1.25zM140.21 249.78h1.25v1.25h-1.25zM157.18 245.81h1.25v1.25h-1.25zM145.97 249.61h1.25v1.25h-1.25zM138.69 250.33h1.25v1.25h-1.25zM133.5 250.19h1.25v1.25h-1.25zM145.48 251.42h1.25v1.25h-1.25zM140.95 246.84h1.25v1.25h-1.25zM139.73 249.16h1.25v1.25h-1.25zM134.95 247.96h1.25v1.25h-1.25zM144.85 249.54h1.25v1.25h-1.25zM140.29 250.41h1.25v1.25h-1.25zM144.23 246.86h1.25v1.25h-1.25zM143.62 249.94h1.25v1.25h-1.25zM139.4 244.78h1.25v1.25h-1.25zM143 251.78h1.25v1.25h-1.25zM139.64 245.61h1.25v1.25h-1.25zM136.94 249.6h1.25v1.25h-1.25zM145.33 254.71h1.25v1.25h-1.25zM150.43 240.86h1.25v1.25h-1.25zM138.08 253.76h1.25v1.25h-1.25zM143.71 244.91h1.25v1.25h-1.25zM128.38 255.46h1.25v1.25h-1.25zM146.45 247.55h1.25v1.25h-1.25zM141.38 250.85h1.25v1.25h-1.25zM144.81 247.02h1.25v1.25h-1.25zM138.21 250.6h1.25v1.25h-1.25zM140.64 242.33h1.25v1.25h-1.25zM144.46 246.78h1.25v1.25h-1.25zM138.79 247.65h1.25v1.25h-1.25zM143.33 248.74h1.25v1.25h-1.25zM148.31 248.57h1.25v1.25h-1.25zM132.5 246.8h1.25v1.25h-1.25zM146.31 243.76h1.25v1.25h-1.25zM144.47 240.21h1.25v1.25h-1.25zM149.41 245.85h1.25v1.25h-1.25zM147.28 244.67h1.25v1.25h-1.25zM152.86 245.78h1.25v1.25h-1.25zM150.24 243.31h1.25v1.25h-1.25zM148.91 242.7h1.25v1.25h-1.25zM152.78 243.69h1.25v1.25h-1.25zM154.13 239.72h1.25v1.25h-1.25zM156.79 246.66h1.25v1.25h-1.25zM151.93 238.44h1.25v1.25h-1.25zM134.51 220.07h1.25v1.25h-1.25zM126.38 219.81h1.25v1.25h-1.25zM132.08 218.67h1.25v1.25h-1.25zM142.85 217.02h1.25v1.25h-1.25zM130.37 212.06h1.25v1.25h-1.25zM132.49 217.45h1.25v1.25h-1.25zM139.01 218.47h1.25v1.25h-1.25zM131.44 220.83h1.25v1.25h-1.25zM134.08 219.6h1.25v1.25h-1.25zM128.97 215.81h1.25v1.25h-1.25zM125.97 217.76h1.25v1.25h-1.25zM123.38 217.58h1.25v1.25h-1.25zM146.66 219.71h1.25v1.25h-1.25zM130.1 216.7h1.25v1.25h-1.25zM135.99 219.84h1.25v1.25h-1.25zM127.51 221.91h1.25v1.25h-1.25zM137.42 219.25h1.25v1.25h-1.25zM127.87 214.64h1.25v1.25h-1.25zM138.03 215.25h1.25v1.25h-1.25zM142.18 223.78h1.25v1.25h-1.25zM112 218.05h1.25v1.25h-1.25zM142.51 217.75h1.25v1.25h-1.25zM149.13 218.49h1.25v1.25h-1.25zM155.59 216.07h1.25v1.25h-1.25zM134.93 221.88h1.25v1.25h-1.25zM144.18 216.98h1.25v1.25h-1.25zM137.12 222.05h1.25v1.25h-1.25zM150.42 219.55h1.25v1.25h-1.25zM123.18 217.68h1.25v1.25h-1.25zM143.88 219.34h1.25v1.25h-1.25zM127.83 212.18h1.25v1.25h-1.25zM131.03 218.54h1.25v1.25h-1.25zM129.64 220.54h1.25v1.25h-1.25zM136.61 225.24h1.25v1.25h-1.25zM178.72 218.61h1.25v1.25h-1.25zM157.03 217.9h1.25v1.25h-1.25zM169.45 218.73h1.25v1.25h-1.25zM175.79 221.48h1.25v1.25h-1.25zM172.69 226.58h1.25v1.25h-1.25zM157.98 249.68h1.25v1.25h-1.25zM114.8 230.61h1.25v1.25h-1.25zM179.7 209.93h1.25v1.25h-1.25zM108.13 218.17h1.25v1.25h-1.25zM156.78 227.3h1.25v1.25h-1.25zM179.09 233.86h1.25v1.25h-1.25zM168.57 212.94h1.25v1.25h-1.25zM128.12 263.03h1.25v1.25h-1.25zM132.03 218.18h1.25v1.25h-1.25zM107.06 223.13h1.25v1.25h-1.25zM118.96 252.21h1.25v1.25h-1.25zM107.12 239.65h1.25v1.25h-1.25zM114 247.34h1.25v1.25h-1.25zM106.68 251.82h1.25v1.25h-1.25zM109.53 247.81h1.25v1.25h-1.25zM107.42 240.73h1.25v1.25h-1.25zM119.43 251.99h1.25v1.25h-1.25zM115.3 249.72h1.25v1.25h-1.25zM110.09 264.48h1.25v1.25h-1.25zM113.73 263.1h1.25v1.25h-1.25zM108.31 262.18h1.25v1.25h-1.25zM111.38 264.27h1.25v1.25h-1.25z" fill="#000" fill-opacity="0.7"/>
<rect x="105.2" y="183.8" width="77.3" height="81.9" fill="none" stroke="#1c1c1c" stroke-width="1.0"/>
<path d="M106.6 265.7L106.6 269M109.56 265.7L109.56 267.5M112.51 265.7L112.51 267.5M115.47 265.7L115.47 267.5M118.42 265.7L118.42 267.5M121.38 265.7L121.38 269M124.34 265.7L124.34 267.5M127.29 265.7L127.29 267.5M130.25 265.7L130.25 267.5M133.2 265.7L133.2 267.5M136.16 265.7L136.16 269M139.12 265.7L139.12 267.5M142.07 265.7L142.07 267.5M145.03 265.7L145.03 267.5M147.98 265.7L147.98 267.5M150.94 265.7L150.94 269M153.9 265.7L153.9 267.5M156.85 265.7L156.85 267.5M159.81 265.7L159.81 267.5M162.76 265.7L162.76 267.5M165.72 265.7L165.72 269M168.68 265.7L168.68 267.5M171.63 265.7L171.63 267.5M174.59 265.7L174.59 267.5M177.54 265.7L177.54 267.5M180.5 265.7L180.5 269M105.2 265.7L101.9 265.7M105.2 259.54L103.4 259.54M105.2 255.93L103.4 255.93M105.2 253.37L103.4 253.37M105.2 251.39L103.4 251.39M105.2 249.77L103.4 249.77M105.2 248.4L103.4 248.4M105.2 247.21L103.4 247.21M105.2 246.16L103.4 246.16M105.2 245.22L101.9 245.22M105.2 239.06L103.4 239.06M105.2 235.46L103.4 235.46M105.2 232.9L103.4 232.9M105.2 230.91L103.4 230.91M105.2 229.29L103.4 229.29M105.2 227.92L103.4 227.92M105.2 226.73L103.4 226.73M105.2 225.69L103.4 225.69M105.2 224.75L101.9 224.75M105.2 218.59L103.4 218.59M105.2 214.98L103.4 214.98M105.2 212.42L103.4 212.42M105.2 210.44L103.4 210.44M105.2 208.82L103.4 208.82M105.2 207.45L103.4 207.45M105.2 206.26L103.4 206.26M105.2 205.21L103.4 205.21M105.2 204.28L101.9 204.28M105.2 198.11L103.4 198.11M105.2 194.51L103.4 194.51M105.2 191.95L103.4 191.95M105.2 189.96L103.4 189.96M105.2 188.34L103.4 188.34M105.2 186.97L103.4 186.97M105.2 185.78L103.4 185.78M105.2 184.74L103.4 184.74M105.2 183.8L101.9 183.8" stroke="#111" stroke-width="0.85" fill="none"/>
<text x="106.9" y="274.9" font-size="6.2" text-anchor="middle">0</text>
<text x="121.68" y="274.9" font-size="6.2" text-anchor="middle">200</text>
<text x="136.46" y="274.9" font-size="6.2" text-anchor="middle">400</text>
<text x="151.24" y="274.9" font-size="6.2" text-anchor="middle">600</text>
<text x="166.02" y="274.9" font-size="6.2" text-anchor="middle">800</text>
<text x="180.8" y="274.9" font-size="6.2" text-anchor="middle">1000</text>
<text x="99.5" y="269.8" font-size="5.8" transform="rotate(-90 99.5 269.8)">10</text>
<text x="95.9" y="263.2" font-size="5.4" transform="rotate(-90 95.9 263.2)">0</text>
<text x="99.5" y="249.32" font-size="5.8" transform="rotate(-90 99.5 249.32)">10</text>
<text x="95.9" y="242.72" font-size="5.4" transform="rotate(-90 95.9 242.72)">1</text>
<text x="99.5" y="228.85" font-size="5.8" transform="rotate(-90 99.5 228.85)">10</text>
<text x="95.9" y="222.25" font-size="5.4" transform="rotate(-90 95.9 222.25)">2</text>
<text x="99.5" y="208.38" font-size="5.8" transform="rotate(-90 99.5 208.38)">10</text>
<text x="95.9" y="201.78" font-size="5.4" transform="rotate(-90 95.9 201.78)">3</text>
<text x="99.5" y="187.9" font-size="5.8" transform="rotate(-90 99.5 187.9)">10</text>
<text x="95.9" y="181.3" font-size="5.4" transform="rotate(-90 95.9 181.3)">4</text>
<text x="143.35" y="282.9" font-size="6.4" text-anchor="middle">FSC-Height</text>
<text x="92" y="224.65" font-size="6.4" text-anchor="middle" transform="rotate(-90 92 224.65)">7-AAD</text>
<ellipse cx="139.5" cy="219.2" rx="21.4" ry="7.9" fill="none" stroke="#0a0a0a" stroke-width="1.4"/>
<ellipse cx="144.6" cy="249" rx="22.5" ry="12.4" fill="none" stroke="#0a0a0a" stroke-width="1.4" transform="rotate(-3 144.6 249)"/>
<text x="130.3" y="206.9" font-size="7.5" fill="#222">Apoptotic</text>
<text x="134.1" y="236.2" font-size="7.35" fill="#222">Non-apoptotic</text>
<path d="M200.8 266.5L200.8 257.23L201.3 257.28L201.8 257.17L202.2 259.02L202.6 263.06L203.15 263.9L203.7 265.01L204.12 263.88L204.55 263.15L204.97 262.64L205.4 261.6L205.82 260.62L206.25 258.66L206.68 257.42L207.1 257.29L207.57 254.68L208.03 252.87L208.5 251.42L208.9 247.85L209.3 244.46L209.7 243.75L210.15 240.06L210.6 237.05L211 234.02L211.4 231.99L211.85 227.27L212.3 225.17L212.65 221.11L213 218.61L213.45 215.8L213.9 211.86L214.3 209.24L214.7 208.23L215.05 208L215.4 206.81L216 210.18L216.6 218.79L217.2 225.69L217.8 230.24L218.4 235.57L219 242.02L219.6 245.77L220.1 249.81L220.6 254.39L221.2 252.97L221.8 253L222.2 254.87L222.6 256.54L223.05 257.02L223.5 258.59L223.95 259.55L224.4 260.66L224.85 262.39L225.3 263.21L225.73 263.37L226.15 263.7L226.57 264.77L227 265.15L227.45 265.27L227.91 264.81L228.36 265.07L228.82 265.39L229.27 265.15L229.73 265.45L230.18 264.85L230.64 265.51L231.09 264.8L231.55 265.1L232 264.81L232.44 265.38L232.89 265.24L233.33 265.43L233.78 265.25L234.22 265.33L234.67 264.95L235.11 265.27L235.56 265.03L236 264.65L236.44 265.2L236.89 264.72L237.33 264.59L237.78 264.52L238.22 264.86L238.67 264.66L239.11 265.29L239.56 265.33L240 264.75L240.44 264.23L240.88 264.2L241.32 263.44L241.76 263.41L242.2 263.3L242.6 261.99L243 261.51L243.4 261.49L243.85 260.35L244.3 259.68L244.85 261.38L245.4 262.14L245.8 262.85L246.2 263.23L246.6 263.58L247.05 263.51L247.5 263.32L247.9 262.76L248.3 261.94L248.73 262.59L249.17 263.3L249.6 264.23L250 264.38L250.4 264.72L250.8 265.3L251.2 265.09L251.64 265.52L252.07 265.34L252.51 265.54L252.95 265.78L253.38 265.39L253.82 265.93L254.25 265.34L254.69 265.73L255.13 265.75L255.56 265.57L256 265.83L256.45 265.78L256.9 265.76L257.35 265.96L257.8 265.46L258.24 265.73L258.69 266.02L259.14 265.57L259.59 266.08L260.04 265.62L260.49 265.96L260.94 265.61L261.39 265.81L261.84 265.79L262.29 265.56L262.73 265.99L263.18 265.85L263.63 265.99L264.08 265.9L264.53 265.91L264.98 265.9L265.43 265.74L265.88 266.16L266.33 265.61L266.77 266.15L267.22 266.15L267.67 265.9L268.12 266.1L268.57 266.03L269.02 265.99L269.47 265.78L269.92 265.8L270.37 265.83L270.81 265.8L271.26 266.25L271.71 265.83L272.16 265.87L272.61 265.9L273.06 266.17L273.51 265.94L273.96 266L274.41 265.8L274.86 265.82L275.3 265.7L275.75 265.79L276.2 265.83L276.65 266.23L277.1 265.99L277.1 266.5Z" fill="#050505" stroke="#050505" stroke-width="0.4" stroke-linejoin="round"/>
<rect x="201.1" y="183.7" width="76.2" height="82.8" fill="none" stroke="#2a2a2a" stroke-width="1.05"/>
<path d="M201.1 266.5L201.1 269.8M206.83 266.5L206.83 268.3M210.19 266.5L210.19 268.3M212.57 266.5L212.57 268.3M214.42 266.5L214.42 268.3M215.92 266.5L215.92 268.3M217.2 266.5L217.2 268.3M218.3 266.5L218.3 268.3M219.28 266.5L219.28 268.3M220.15 266.5L220.15 269.8M225.88 266.5L225.88 268.3M229.24 266.5L229.24 268.3M231.62 266.5L231.62 268.3M233.47 266.5L233.47 268.3M234.97 266.5L234.97 268.3M236.25 266.5L236.25 268.3M237.35 266.5L237.35 268.3M238.33 266.5L238.33 268.3M239.2 266.5L239.2 269.8M244.93 266.5L244.93 268.3M248.29 266.5L248.29 268.3M250.67 266.5L250.67 268.3M252.52 266.5L252.52 268.3M254.02 266.5L254.02 268.3M255.3 266.5L255.3 268.3M256.4 266.5L256.4 268.3M257.38 266.5L257.38 268.3M258.25 266.5L258.25 269.8M263.98 266.5L263.98 268.3M267.34 266.5L267.34 268.3M269.72 266.5L269.72 268.3M271.57 266.5L271.57 268.3M273.07 266.5L273.07 268.3M274.35 266.5L274.35 268.3M275.45 266.5L275.45 268.3M276.43 266.5L276.43 268.3M277.3 266.5L277.3 269.8M201.1 266.5L197.8 266.5M201.1 265.12L199.6 265.12M201.1 263.74L199.6 263.74M201.1 262.36L199.6 262.36M201.1 260.98L199.6 260.98M201.1 259.6L199.6 259.6M201.1 258.22L199.6 258.22M201.1 256.84L199.6 256.84M201.1 255.46L199.6 255.46M201.1 254.08L199.6 254.08M201.1 252.7L197.8 252.7M201.1 251.32L199.6 251.32M201.1 249.94L199.6 249.94M201.1 248.56L199.6 248.56M201.1 247.18L199.6 247.18M201.1 245.8L199.6 245.8M201.1 244.42L199.6 244.42M201.1 243.04L199.6 243.04M201.1 241.66L199.6 241.66M201.1 240.28L199.6 240.28M201.1 238.9L197.8 238.9M201.1 237.52L199.6 237.52M201.1 236.14L199.6 236.14M201.1 234.76L199.6 234.76M201.1 233.38L199.6 233.38M201.1 232L199.6 232M201.1 230.62L199.6 230.62M201.1 229.24L199.6 229.24M201.1 227.86L199.6 227.86M201.1 226.48L199.6 226.48M201.1 225.1L197.8 225.1M201.1 223.72L199.6 223.72M201.1 222.34L199.6 222.34M201.1 220.96L199.6 220.96M201.1 219.58L199.6 219.58M201.1 218.2L199.6 218.2M201.1 216.82L199.6 216.82M201.1 215.44L199.6 215.44M201.1 214.06L199.6 214.06M201.1 212.68L199.6 212.68M201.1 211.3L197.8 211.3M201.1 209.92L199.6 209.92M201.1 208.54L199.6 208.54M201.1 207.16L199.6 207.16M201.1 205.78L199.6 205.78M201.1 204.4L199.6 204.4M201.1 203.02L199.6 203.02M201.1 201.64L199.6 201.64M201.1 200.26L199.6 200.26M201.1 198.88L199.6 198.88M201.1 197.5L197.8 197.5M201.1 196.12L199.6 196.12M201.1 194.74L199.6 194.74M201.1 193.36L199.6 193.36M201.1 191.98L199.6 191.98M201.1 190.6L199.6 190.6M201.1 189.22L199.6 189.22M201.1 187.84L199.6 187.84M201.1 186.46L199.6 186.46M201.1 185.08L199.6 185.08M201.1 183.7L197.8 183.7" stroke="#111" stroke-width="0.85" fill="none"/>
<text font-size="6.6" text-anchor="end" transform="translate(202.2 277.8) scale(0.78 1)">10</text>
<text x="202.5" y="274.2" font-size="5.6">0</text>
<text font-size="6.6" text-anchor="end" transform="translate(222.95 277.8) scale(0.78 1)">10</text>
<text x="223.25" y="274.2" font-size="5.6">1</text>
<text font-size="6.6" text-anchor="end" transform="translate(241.9 277.8) scale(0.78 1)">10</text>
<text x="242.2" y="274.2" font-size="5.6">2</text>
<text font-size="6.6" text-anchor="end" transform="translate(260.65 277.8) scale(0.78 1)">10</text>
<text x="260.95" y="274.2" font-size="5.6">3</text>
<text font-size="6.6" text-anchor="end" transform="translate(278.5 277.8) scale(0.78 1)">10</text>
<text x="278.8" y="274.2" font-size="5.6">4</text>
<text x="239.2" y="284.6" font-size="6.4" text-anchor="middle">7-AAD</text>
<text x="194.8" y="265.5" font-size="6.5" text-anchor="middle" transform="rotate(-90 194.8 265.5)">0</text>
<text x="194.8" y="251.7" font-size="6.5" text-anchor="middle" transform="rotate(-90 194.8 251.7)">20</text>
<text x="194.8" y="237.9" font-size="6.5" text-anchor="middle" transform="rotate(-90 194.8 237.9)">40</text>
<text x="194.8" y="224.1" font-size="6.5" text-anchor="middle" transform="rotate(-90 194.8 224.1)">60</text>
<text x="194.8" y="210.3" font-size="6.5" text-anchor="middle" transform="rotate(-90 194.8 210.3)">80</text>
<text x="194.8" y="196.5" font-size="6.5" text-anchor="middle" transform="rotate(-90 194.8 196.5)">100</text>
<text x="194.8" y="182.7" font-size="6.5" text-anchor="middle" transform="rotate(-90 194.8 182.7)">120</text>
<path d="M378.8 248.88h1.25v1.25h-1.25zM365.02 253.58h1.25v1.25h-1.25zM363.65 249.72h1.25v1.25h-1.25zM377.16 246.48h1.25v1.25h-1.25zM375.31 244.85h1.25v1.25h-1.25zM371.45 249.18h1.25v1.25h-1.25zM365.9 250.61h1.25v1.25h-1.25zM368.46 245.95h1.25v1.25h-1.25zM370.9 250.43h1.25v1.25h-1.25zM370.88 255.22h1.25v1.25h-1.25zM372.7 251.97h1.25v1.25h-1.25zM361.21 251.56h1.25v1.25h-1.25zM373.65 254.41h1.25v1.25h-1.25zM365.52 251.6h1.25v1.25h-1.25zM370.57 247.22h1.25v1.25h-1.25zM376.96 247.56h1.25v1.25h-1.25zM381.23 248.59h1.25v1.25h-1.25zM375.55 249.27h1.25v1.25h-1.25zM372.85 252.35h1.25v1.25h-1.25zM367.41 251.68h1.25v1.25h-1.25zM361.26 251.03h1.25v1.25h-1.25zM376.76 246.2h1.25v1.25h-1.25zM372.5 250.34h1.25v1.25h-1.25zM364.91 246.68h1.25v1.25h-1.25zM366.84 252.57h1.25v1.25h-1.25zM379.76 249.97h1.25v1.25h-1.25zM363.89 256.24h1.25v1.25h-1.25zM370.32 251.57h1.25v1.25h-1.25zM377.16 246.64h1.25v1.25h-1.25zM373.1 250.76h1.25v1.25h-1.25zM372.65 246.22h1.25v1.25h-1.25zM363.35 247.33h1.25v1.25h-1.25zM366.48 250.64h1.25v1.25h-1.25zM380.38 244.78h1.25v1.25h-1.25zM362.12 251.19h1.25v1.25h-1.25zM358.49 250.23h1.25v1.25h-1.25zM371.05 250.31h1.25v1.25h-1.25zM380.31 245.94h1.25v1.25h-1.25zM371.61 248.27h1.25v1.25h-1.25zM363.81 252.25h1.25v1.25h-1.25zM370.53 248.29h1.25v1.25h-1.25zM369.81 250.83h1.25v1.25h-1.25zM369.59 246.88h1.25v1.25h-1.25zM369.3 246.17h1.25v1.25h-1.25zM370.9 251.9h1.25v1.25h-1.25zM379.94 243.27h1.25v1.25h-1.25zM367.86 249.58h1.25v1.25h-1.25zM368.88 252.52h1.25v1.25h-1.25zM376.67 248.5h1.25v1.25h-1.25zM371.35 246.06h1.25v1.25h-1.25zM362.09 251.18h1.25v1.25h-1.25zM366.8 249.63h1.25v1.25h-1.25zM372.78 248.06h1.25v1.25h-1.25zM369.72 250.09h1.25v1.25h-1.25zM368.84 245.46h1.25v1.25h-1.25zM376.34 244.23h1.25v1.25h-1.25zM373.61 246.36h1.25v1.25h-1.25zM376.91 249.43h1.25v1.25h-1.25zM362.76 246.23h1.25v1.25h-1.25zM374.39 250.69h1.25v1.25h-1.25zM365.41 249.54h1.25v1.25h-1.25zM374.94 246.5h1.25v1.25h-1.25zM372.01 246.63h1.25v1.25h-1.25zM377.61 247.32h1.25v1.25h-1.25zM372.76 246.92h1.25v1.25h-1.25zM366.94 250.38h1.25v1.25h-1.25zM374.19 250.73h1.25v1.25h-1.25zM372.63 250.77h1.25v1.25h-1.25zM370.52 248.65h1.25v1.25h-1.25zM366.33 251.92h1.25v1.25h-1.25zM372.86 248.32h1.25v1.25h-1.25zM371.42 249.86h1.25v1.25h-1.25zM378 246.66h1.25v1.25h-1.25zM364.35 247.84h1.25v1.25h-1.25zM385.06 246.98h1.25v1.25h-1.25zM382.15 247.75h1.25v1.25h-1.25zM370.46 247.55h1.25v1.25h-1.25zM375.42 247.22h1.25v1.25h-1.25zM362.28 251.36h1.25v1.25h-1.25zM371.9 251.47h1.25v1.25h-1.25zM372.08 247.33h1.25v1.25h-1.25zM354.66 254.9h1.25v1.25h-1.25zM365.79 251.71h1.25v1.25h-1.25zM378.16 245.71h1.25v1.25h-1.25zM369.03 251.91h1.25v1.25h-1.25zM374.31 248.56h1.25v1.25h-1.25zM370.57 250.44h1.25v1.25h-1.25zM375.8 243.86h1.25v1.25h-1.25zM367.01 245.96h1.25v1.25h-1.25zM372.27 249.73h1.25v1.25h-1.25zM374 247.49h1.25v1.25h-1.25zM370.88 246.27h1.25v1.25h-1.25zM373.2 251.35h1.25v1.25h-1.25zM376.01 248.9h1.25v1.25h-1.25zM373.68 248.74h1.25v1.25h-1.25zM367.82 249.56h1.25v1.25h-1.25zM378.11 247.29h1.25v1.25h-1.25zM383.33 248.89h1.25v1.25h-1.25zM367.05 251.96h1.25v1.25h-1.25zM368.71 248.18h1.25v1.25h-1.25zM368.59 250.07h1.25v1.25h-1.25zM363.15 251.06h1.25v1.25h-1.25zM369.2 244.17h1.25v1.25h-1.25zM369.93 245.42h1.25v1.25h-1.25zM378.94 247.4h1.25v1.25h-1.25zM364.38 251.45h1.25v1.25h-1.25zM371.2 244.1h1.25v1.25h-1.25zM377.68 242.19h1.25v1.25h-1.25zM371.85 250.1h1.25v1.25h-1.25zM379.51 247.05h1.25v1.25h-1.25zM370.02 248.94h1.25v1.25h-1.25zM376.7 245.31h1.25v1.25h-1.25zM374.18 250.29h1.25v1.25h-1.25zM373.32 243.1h1.25v1.25h-1.25zM358.2 255.01h1.25v1.25h-1.25zM360.92 255.02h1.25v1.25h-1.25zM363.77 248.93h1.25v1.25h-1.25zM374.99 249.26h1.25v1.25h-1.25zM371.75 250.4h1.25v1.25h-1.25zM369.08 244.95h1.25v1.25h-1.25zM371.94 247.2h1.25v1.25h-1.25zM377.03 248.9h1.25v1.25h-1.25zM364.89 249.18h1.25v1.25h-1.25zM372.32 247.08h1.25v1.25h-1.25zM372.95 249.67h1.25v1.25h-1.25zM369.79 249.43h1.25v1.25h-1.25zM369.88 249.96h1.25v1.25h-1.25zM372.13 248.68h1.25v1.25h-1.25zM368.7 248.38h1.25v1.25h-1.25zM367.45 247.21h1.25v1.25h-1.25zM371.12 241.66h1.25v1.25h-1.25zM366.94 246.49h1.25v1.25h-1.25zM375.31 250.82h1.25v1.25h-1.25zM372.8 252.09h1.25v1.25h-1.25zM364.84 244.78h1.25v1.25h-1.25zM371.77 249.43h1.25v1.25h-1.25zM374.61 249.83h1.25v1.25h-1.25zM365.75 250.15h1.25v1.25h-1.25zM371.57 251.7h1.25v1.25h-1.25zM377.05 241.61h1.25v1.25h-1.25zM372.25 249.9h1.25v1.25h-1.25zM363.97 249.66h1.25v1.25h-1.25zM369.84 251.49h1.25v1.25h-1.25zM363.99 248.69h1.25v1.25h-1.25zM379.7 249.66h1.25v1.25h-1.25zM370.47 248.92h1.25v1.25h-1.25zM366.49 247.31h1.25v1.25h-1.25zM378.19 251.47h1.25v1.25h-1.25zM373.7 243.78h1.25v1.25h-1.25zM382.4 251.85h1.25v1.25h-1.25zM373.1 247.11h1.25v1.25h-1.25zM373.07 253.54h1.25v1.25h-1.25zM363.04 248.24h1.25v1.25h-1.25zM384.42 248.25h1.25v1.25h-1.25zM381.99 244.07h1.25v1.25h-1.25zM370.28 257h1.25v1.25h-1.25zM379.15 242.15h1.25v1.25h-1.25zM372.27 246.16h1.25v1.25h-1.25zM377.18 253.43h1.25v1.25h-1.25zM369.46 246.61h1.25v1.25h-1.25zM369.66 249.51h1.25v1.25h-1.25zM355.96 249.17h1.25v1.25h-1.25zM376.12 249.74h1.25v1.25h-1.25zM370.87 250.21h1.25v1.25h-1.25zM365.27 250.13h1.25v1.25h-1.25zM372.68 248.59h1.25v1.25h-1.25zM387.17 236.2h1.25v1.25h-1.25zM367.14 248.74h1.25v1.25h-1.25zM380.17 250.37h1.25v1.25h-1.25zM387.5 245.54h1.25v1.25h-1.25zM376.95 248.37h1.25v1.25h-1.25zM368.7 247.25h1.25v1.25h-1.25zM365.47 256.36h1.25v1.25h-1.25zM385.87 244.17h1.25v1.25h-1.25zM366.2 241.67h1.25v1.25h-1.25zM373.12 250.3h1.25v1.25h-1.25zM383.9 244.12h1.25v1.25h-1.25zM380.27 249.26h1.25v1.25h-1.25zM373.58 246.81h1.25v1.25h-1.25zM373.76 251.04h1.25v1.25h-1.25zM380.59 250.67h1.25v1.25h-1.25zM377.46 246.36h1.25v1.25h-1.25zM374.48 249.34h1.25v1.25h-1.25zM367.47 248.53h1.25v1.25h-1.25zM390.46 241.32h1.25v1.25h-1.25zM371.58 248.81h1.25v1.25h-1.25zM357.95 257.58h1.25v1.25h-1.25zM363.94 249.04h1.25v1.25h-1.25zM375.59 245.42h1.25v1.25h-1.25zM376.15 247.92h1.25v1.25h-1.25zM378.72 247.28h1.25v1.25h-1.25zM375.44 251.4h1.25v1.25h-1.25zM358.65 247.86h1.25v1.25h-1.25zM369.49 253.22h1.25v1.25h-1.25zM376.94 248.56h1.25v1.25h-1.25zM363.62 247.93h1.25v1.25h-1.25zM394.75 245.51h1.25v1.25h-1.25zM391.6 242.99h1.25v1.25h-1.25zM371.58 247.95h1.25v1.25h-1.25zM394.74 243.51h1.25v1.25h-1.25zM392.15 238.78h1.25v1.25h-1.25zM386.23 243.91h1.25v1.25h-1.25zM386.5 243.54h1.25v1.25h-1.25zM382.23 241.14h1.25v1.25h-1.25zM394.06 241.33h1.25v1.25h-1.25zM385.79 248.5h1.25v1.25h-1.25zM380.11 245.12h1.25v1.25h-1.25zM377.34 246.94h1.25v1.25h-1.25zM385.69 245.36h1.25v1.25h-1.25zM388.12 240.7h1.25v1.25h-1.25zM355.72 215.79h1.25v1.25h-1.25zM362.2 211.61h1.25v1.25h-1.25zM363.68 219.92h1.25v1.25h-1.25zM366.25 213.42h1.25v1.25h-1.25zM359.81 225.23h1.25v1.25h-1.25zM358.65 213.48h1.25v1.25h-1.25zM366.29 215.09h1.25v1.25h-1.25zM357.3 216.84h1.25v1.25h-1.25zM363.46 217.71h1.25v1.25h-1.25zM353.35 217.72h1.25v1.25h-1.25zM361.2 220.28h1.25v1.25h-1.25zM364.66 219.57h1.25v1.25h-1.25zM373.3 216.85h1.25v1.25h-1.25zM365.54 214.99h1.25v1.25h-1.25zM351.1 215.81h1.25v1.25h-1.25zM357.65 220.8h1.25v1.25h-1.25zM352.69 213.76h1.25v1.25h-1.25zM367.32 215.61h1.25v1.25h-1.25zM376.24 217.1h1.25v1.25h-1.25zM368.23 215.44h1.25v1.25h-1.25zM387.33 224.49h1.25v1.25h-1.25zM381.14 217.95h1.25v1.25h-1.25zM380.73 214.26h1.25v1.25h-1.25zM372.74 217.92h1.25v1.25h-1.25zM369.8 216.75h1.25v1.25h-1.25zM386.45 221.41h1.25v1.25h-1.25zM367.65 215.45h1.25v1.25h-1.25zM370.08 214.14h1.25v1.25h-1.25zM346.32 220.21h1.25v1.25h-1.25zM380.6 220.47h1.25v1.25h-1.25zM373.73 220.42h1.25v1.25h-1.25zM396.75 214.83h1.25v1.25h-1.25zM342.22 217.37h1.25v1.25h-1.25zM384.65 218.22h1.25v1.25h-1.25zM363.03 216.72h1.25v1.25h-1.25zM368.14 215.85h1.25v1.25h-1.25zM359.23 223.41h1.25v1.25h-1.25zM353.57 218.5h1.25v1.25h-1.25zM385.2 216.17h1.25v1.25h-1.25zM382.91 217.43h1.25v1.25h-1.25zM365.38 216.93h1.25v1.25h-1.25zM369.34 223.15h1.25v1.25h-1.25zM380.99 233.46h1.25v1.25h-1.25zM374.57 219.39h1.25v1.25h-1.25zM382.78 228.48h1.25v1.25h-1.25zM360.61 230.09h1.25v1.25h-1.25zM386.04 235.44h1.25v1.25h-1.25zM364.45 230.68h1.25v1.25h-1.25zM353.99 222.87h1.25v1.25h-1.25zM411.93 223.08h1.25v1.25h-1.25zM400.35 226.97h1.25v1.25h-1.25zM405.95 226.83h1.25v1.25h-1.25zM398.26 217.69h1.25v1.25h-1.25zM402.78 223.04h1.25v1.25h-1.25zM386.39 240.71h1.25v1.25h-1.25zM387.91 216.58h1.25v1.25h-1.25zM358.27 232.56h1.25v1.25h-1.25zM347.36 236.29h1.25v1.25h-1.25zM397.89 264.85h1.25v1.25h-1.25zM352.24 258.1h1.25v1.25h-1.25zM397.71 261.24h1.25v1.25h-1.25zM373.66 252.11h1.25v1.25h-1.25zM345.51 229.87h1.25v1.25h-1.25zM384.7 228.4h1.25v1.25h-1.25zM353.72 224.93h1.25v1.25h-1.25zM410.66 208.77h1.25v1.25h-1.25zM361.7 233.39h1.25v1.25h-1.25zM357.67 240.24h1.25v1.25h-1.25zM353.81 245.81h1.25v1.25h-1.25zM349.78 234.4h1.25v1.25h-1.25zM355.45 234.21h1.25v1.25h-1.25zM356.54 263.99h1.25v1.25h-1.25zM339.73 260.68h1.25v1.25h-1.25zM342.81 239.67h1.25v1.25h-1.25zM356.06 250.35h1.25v1.25h-1.25zM342.67 260.69h1.25v1.25h-1.25zM345.09 260.47h1.25v1.25h-1.25zM339.62 262.25h1.25v1.25h-1.25zM345.66 256.37h1.25v1.25h-1.25z" fill="#000" fill-opacity="0.7"/>
<path d="M362.58 245.89h1.25v1.25h-1.25zM374.69 248.83h1.25v1.25h-1.25zM376.48 250.43h1.25v1.25h-1.25zM362 247.98h1.25v1.25h-1.25zM374.38 250.49h1.25v1.25h-1.25zM370.93 247.29h1.25v1.25h-1.25zM369.33 248.49h1.25v1.25h-1.25zM379.92 246.3h1.25v1.25h-1.25zM366.67 247.76h1.25v1.25h-1.25zM369.44 250.85h1.25v1.25h-1.25zM374.99 246.19h1.25v1.25h-1.25zM368.61 251.52h1.25v1.25h-1.25zM366.89 250.5h1.25v1.25h-1.25zM365.67 253.79h1.25v1.25h-1.25zM369.13 247.52h1.25v1.25h-1.25zM371.83 251.57h1.25v1.25h-1.25zM359.17 256.06h1.25v1.25h-1.25zM371.01 248.51h1.25v1.25h-1.25zM371.37 248.47h1.25v1.25h-1.25zM366.05 255.76h1.25v1.25h-1.25zM361.41 253.92h1.25v1.25h-1.25zM372.11 248.97h1.25v1.25h-1.25zM373.56 246.18h1.25v1.25h-1.25zM368.4 250.44h1.25v1.25h-1.25zM362.94 252.09h1.25v1.25h-1.25zM371.48 254.58h1.25v1.25h-1.25zM377.18 251.17h1.25v1.25h-1.25zM364.49 251.36h1.25v1.25h-1.25zM376.09 247.24h1.25v1.25h-1.25zM369.12 248.5h1.25v1.25h-1.25zM368.16 248.54h1.25v1.25h-1.25zM379.87 248.06h1.25v1.25h-1.25zM379.24 247.65h1.25v1.25h-1.25zM370.31 248.29h1.25v1.25h-1.25zM381.25 242.49h1.25v1.25h-1.25zM365.69 243.85h1.25v1.25h-1.25zM374 247.34h1.25v1.25h-1.25zM368.42 247.44h1.25v1.25h-1.25zM373.97 245.26h1.25v1.25h-1.25zM360.27 246h1.25v1.25h-1.25zM376.02 246.6h1.25v1.25h-1.25zM376.8 245.99h1.25v1.25h-1.25zM364.51 250.55h1.25v1.25h-1.25zM366.05 254.61h1.25v1.25h-1.25zM368.42 244.2h1.25v1.25h-1.25zM361.67 248.49h1.25v1.25h-1.25zM372.96 247.05h1.25v1.25h-1.25zM372.89 244.34h1.25v1.25h-1.25zM370.76 248.41h1.25v1.25h-1.25zM373.65 255.07h1.25v1.25h-1.25zM367.25 249.9h1.25v1.25h-1.25zM381.69 242.08h1.25v1.25h-1.25zM373.42 247.99h1.25v1.25h-1.25zM369.59 249.99h1.25v1.25h-1.25zM364.59 248.49h1.25v1.25h-1.25zM381.19 249.14h1.25v1.25h-1.25zM376.93 248.77h1.25v1.25h-1.25zM373.83 243.83h1.25v1.25h-1.25zM371.36 250.99h1.25v1.25h-1.25zM373.48 246.45h1.25v1.25h-1.25zM376.29 248.82h1.25v1.25h-1.25zM372.31 245.69h1.25v1.25h-1.25zM370.42 246.92h1.25v1.25h-1.25zM373.54 248.83h1.25v1.25h-1.25zM373.9 247h1.25v1.25h-1.25zM377.96 245.54h1.25v1.25h-1.25zM370.33 250.15h1.25v1.25h-1.25zM357.2 251.69h1.25v1.25h-1.25zM373.91 243.92h1.25v1.25h-1.25zM369.72 247.81h1.25v1.25h-1.25zM370.26 249.17h1.25v1.25h-1.25zM373.19 241.79h1.25v1.25h-1.25zM370.38 245.86h1.25v1.25h-1.25zM366.33 248.4h1.25v1.25h-1.25zM369.55 248.63h1.25v1.25h-1.25zM372.68 250h1.25v1.25h-1.25zM375.05 241.24h1.25v1.25h-1.25zM372.13 247.64h1.25v1.25h-1.25zM372.96 248.75h1.25v1.25h-1.25zM369.29 252.8h1.25v1.25h-1.25zM373.73 247.26h1.25v1.25h-1.25zM371.05 248.49h1.25v1.25h-1.25zM372.48 252.27h1.25v1.25h-1.25zM374.58 250.74h1.25v1.25h-1.25zM380.39 245.91h1.25v1.25h-1.25zM366.96 249.46h1.25v1.25h-1.25zM365.39 255.02h1.25v1.25h-1.25zM370.76 251.85h1.25v1.25h-1.25zM367.63 250.16h1.25v1.25h-1.25zM369.58 240.88h1.25v1.25h-1.25zM374.29 247.54h1.25v1.25h-1.25zM378.63 247.24h1.25v1.25h-1.25zM372.83 244h1.25v1.25h-1.25zM375.94 248.57h1.25v1.25h-1.25zM372.52 246.15h1.25v1.25h-1.25zM364.12 244.34h1.25v1.25h-1.25zM368.01 250.03h1.25v1.25h-1.25zM377.24 243.55h1.25v1.25h-1.25zM371.67 251.07h1.25v1.25h-1.25zM374.56 244.24h1.25v1.25h-1.25zM357.49 254.86h1.25v1.25h-1.25zM380.57 242.18h1.25v1.25h-1.25zM371.15 248.93h1.25v1.25h-1.25zM375.87 246.87h1.25v1.25h-1.25zM373.28 245.76h1.25v1.25h-1.25zM374.71 245.67h1.25v1.25h-1.25zM367.35 249.57h1.25v1.25h-1.25zM370.16 252.23h1.25v1.25h-1.25zM377.11 252.69h1.25v1.25h-1.25zM370.64 250.69h1.25v1.25h-1.25zM372.7 249.51h1.25v1.25h-1.25zM375.29 244.15h1.25v1.25h-1.25zM367.58 246.42h1.25v1.25h-1.25zM376.04 247.04h1.25v1.25h-1.25zM367.08 253.15h1.25v1.25h-1.25zM372.5 252.55h1.25v1.25h-1.25zM369.87 242.61h1.25v1.25h-1.25zM377.96 249.94h1.25v1.25h-1.25zM365.47 255.93h1.25v1.25h-1.25zM365.77 250.51h1.25v1.25h-1.25zM363.25 248.36h1.25v1.25h-1.25zM370.69 248.02h1.25v1.25h-1.25zM374.38 250h1.25v1.25h-1.25zM368.81 249.95h1.25v1.25h-1.25zM367.34 250.41h1.25v1.25h-1.25zM391.98 247.03h1.25v1.25h-1.25zM368.26 244.61h1.25v1.25h-1.25zM364.53 254.01h1.25v1.25h-1.25zM370.7 248.18h1.25v1.25h-1.25zM362.33 250.46h1.25v1.25h-1.25zM373.55 247.99h1.25v1.25h-1.25zM374.03 250.85h1.25v1.25h-1.25zM375.4 248.12h1.25v1.25h-1.25zM371.51 251.16h1.25v1.25h-1.25zM375.95 243.27h1.25v1.25h-1.25zM369.86 248.16h1.25v1.25h-1.25zM373.18 248.71h1.25v1.25h-1.25zM366.49 249.49h1.25v1.25h-1.25zM372.28 249.99h1.25v1.25h-1.25zM367.74 248.77h1.25v1.25h-1.25zM371.13 252.46h1.25v1.25h-1.25zM361.57 250.12h1.25v1.25h-1.25zM377.39 249.1h1.25v1.25h-1.25zM366.42 251.66h1.25v1.25h-1.25zM386.35 243.29h1.25v1.25h-1.25zM386.65 250.96h1.25v1.25h-1.25zM365.27 250.55h1.25v1.25h-1.25zM377.23 245.75h1.25v1.25h-1.25zM379.99 248.91h1.25v1.25h-1.25zM372.41 252.09h1.25v1.25h-1.25zM363.48 253.38h1.25v1.25h-1.25zM366.27 247.89h1.25v1.25h-1.25zM371.16 255.74h1.25v1.25h-1.25zM362.32 248.08h1.25v1.25h-1.25zM381.19 242.75h1.25v1.25h-1.25zM378.12 249h1.25v1.25h-1.25zM373.79 245.72h1.25v1.25h-1.25zM371.45 246.29h1.25v1.25h-1.25zM375.53 243.52h1.25v1.25h-1.25zM372.01 254.57h1.25v1.25h-1.25zM372.68 253.3h1.25v1.25h-1.25zM369.37 247.49h1.25v1.25h-1.25zM369.72 249.05h1.25v1.25h-1.25zM373.99 244.89h1.25v1.25h-1.25zM369.42 248.23h1.25v1.25h-1.25zM375.58 247.2h1.25v1.25h-1.25zM382.86 249.82h1.25v1.25h-1.25zM372.38 250.25h1.25v1.25h-1.25zM376.37 240.72h1.25v1.25h-1.25zM362.4 251.98h1.25v1.25h-1.25zM368.4 246.8h1.25v1.25h-1.25zM372.88 250.05h1.25v1.25h-1.25zM362.82 246.78h1.25v1.25h-1.25zM369.11 247.73h1.25v1.25h-1.25zM375.05 243.97h1.25v1.25h-1.25zM374.6 244.19h1.25v1.25h-1.25zM370.43 253.64h1.25v1.25h-1.25zM377.78 251.62h1.25v1.25h-1.25zM370.94 249.03h1.25v1.25h-1.25zM365.79 250.24h1.25v1.25h-1.25zM372.31 239.45h1.25v1.25h-1.25zM371.99 250.48h1.25v1.25h-1.25zM371.55 251.22h1.25v1.25h-1.25zM374.16 248.25h1.25v1.25h-1.25zM375.65 244.97h1.25v1.25h-1.25zM376.25 241.46h1.25v1.25h-1.25zM367.67 252.1h1.25v1.25h-1.25zM379.08 249.9h1.25v1.25h-1.25zM373.83 249.45h1.25v1.25h-1.25zM385.16 242.6h1.25v1.25h-1.25zM359.08 248.79h1.25v1.25h-1.25zM377.6 247.94h1.25v1.25h-1.25zM387.1 243.15h1.25v1.25h-1.25zM372.18 248.69h1.25v1.25h-1.25zM369.94 244.65h1.25v1.25h-1.25zM375.92 245.8h1.25v1.25h-1.25zM390.05 236.34h1.25v1.25h-1.25zM386.82 238.77h1.25v1.25h-1.25zM400.32 244.44h1.25v1.25h-1.25zM387.27 243.53h1.25v1.25h-1.25zM388.8 242.46h1.25v1.25h-1.25zM379.65 243.14h1.25v1.25h-1.25zM376.43 244.84h1.25v1.25h-1.25zM389.5 239.45h1.25v1.25h-1.25zM384.4 244.91h1.25v1.25h-1.25zM386.93 239.83h1.25v1.25h-1.25zM389.84 241.8h1.25v1.25h-1.25zM383 245.49h1.25v1.25h-1.25zM388.62 240.01h1.25v1.25h-1.25zM380.33 242.17h1.25v1.25h-1.25zM367.21 218.14h1.25v1.25h-1.25zM369.06 219.43h1.25v1.25h-1.25zM364.64 210.58h1.25v1.25h-1.25zM375.93 217.56h1.25v1.25h-1.25zM358.7 218.55h1.25v1.25h-1.25zM368.54 213.29h1.25v1.25h-1.25zM363.28 220.86h1.25v1.25h-1.25zM355.8 213.12h1.25v1.25h-1.25zM364.79 217.75h1.25v1.25h-1.25zM357.85 214.92h1.25v1.25h-1.25zM352.07 216.85h1.25v1.25h-1.25zM364.68 219.49h1.25v1.25h-1.25zM353.73 215.21h1.25v1.25h-1.25zM367.43 217.96h1.25v1.25h-1.25zM369.75 214.47h1.25v1.25h-1.25zM369.55 216.56h1.25v1.25h-1.25zM353.14 214.24h1.25v1.25h-1.25zM353.88 217.35h1.25v1.25h-1.25zM367.34 217.43h1.25v1.25h-1.25zM366.85 213.61h1.25v1.25h-1.25zM397.79 221.02h1.25v1.25h-1.25zM371.93 220.13h1.25v1.25h-1.25zM376.63 216.99h1.25v1.25h-1.25zM377.27 214.13h1.25v1.25h-1.25zM365.62 214.9h1.25v1.25h-1.25zM373.31 219.47h1.25v1.25h-1.25zM389.73 212.06h1.25v1.25h-1.25zM368.04 214.28h1.25v1.25h-1.25zM354.25 223.11h1.25v1.25h-1.25zM389.35 214.7h1.25v1.25h-1.25zM369.68 222.04h1.25v1.25h-1.25zM355.02 222.78h1.25v1.25h-1.25zM364.12 219.02h1.25v1.25h-1.25zM366.58 227.36h1.25v1.25h-1.25zM363.84 226.98h1.25v1.25h-1.25zM367.34 213.21h1.25v1.25h-1.25zM353.48 215.69h1.25v1.25h-1.25zM377.07 214.87h1.25v1.25h-1.25zM371.54 225.7h1.25v1.25h-1.25zM394.43 212.02h1.25v1.25h-1.25zM367.8 218.72h1.25v1.25h-1.25zM367.59 219.68h1.25v1.25h-1.25zM393.45 228.49h1.25v1.25h-1.25zM379.95 223.45h1.25v1.25h-1.25zM370.58 226.26h1.25v1.25h-1.25zM377.94 234.91h1.25v1.25h-1.25zM354.72 223.47h1.25v1.25h-1.25zM384.03 224.24h1.25v1.25h-1.25zM367.22 236.82h1.25v1.25h-1.25zM398.51 218.26h1.25v1.25h-1.25zM405.82 224.17h1.25v1.25h-1.25zM400.28 210.11h1.25v1.25h-1.25zM400.31 211.46h1.25v1.25h-1.25zM400.13 221.59h1.25v1.25h-1.25zM380.23 230.79h1.25v1.25h-1.25zM382.74 232.67h1.25v1.25h-1.25zM389.43 207.23h1.25v1.25h-1.25zM353.42 248.26h1.25v1.25h-1.25zM399.65 258.55h1.25v1.25h-1.25zM354.43 232.58h1.25v1.25h-1.25zM345.07 245.79h1.25v1.25h-1.25zM338.9 226.14h1.25v1.25h-1.25zM384.08 224.63h1.25v1.25h-1.25zM415.37 231.7h1.25v1.25h-1.25zM362.95 204.86h1.25v1.25h-1.25zM413.37 211.63h1.25v1.25h-1.25zM350.32 257.29h1.25v1.25h-1.25zM349.38 256.04h1.25v1.25h-1.25zM351.55 249h1.25v1.25h-1.25zM346.38 235.93h1.25v1.25h-1.25zM338.56 259.7h1.25v1.25h-1.25zM356.82 250.06h1.25v1.25h-1.25zM342.26 240.22h1.25v1.25h-1.25zM343.21 255.35h1.25v1.25h-1.25zM341.41 246.06h1.25v1.25h-1.25zM345.03 255.74h1.25v1.25h-1.25zM343.23 257.8h1.25v1.25h-1.25zM341.51 262.42h1.25v1.25h-1.25z" fill="#000" fill-opacity="0.7"/>
<path d="M371.59 250.63h1.25v1.25h-1.25zM375.13 245.77h1.25v1.25h-1.25zM375.49 249h1.25v1.25h-1.25zM370.13 247.67h1.25v1.25h-1.25zM374.86 252.39h1.25v1.25h-1.25zM369.12 249.07h1.25v1.25h-1.25zM367.74 250.05h1.25v1.25h-1.25zM376.44 245.87h1.25v1.25h-1.25zM372.12 251.11h1.25v1.25h-1.25zM374.52 247.87h1.25v1.25h-1.25zM371.07 245.92h1.25v1.25h-1.25zM377.72 245.59h1.25v1.25h-1.25zM371.69 249.76h1.25v1.25h-1.25zM372.08 251.03h1.25v1.25h-1.25zM365.83 247.03h1.25v1.25h-1.25zM380.54 243.26h1.25v1.25h-1.25zM377.44 242.79h1.25v1.25h-1.25zM363.09 252.78h1.25v1.25h-1.25zM375.39 247.19h1.25v1.25h-1.25zM374.42 247.83h1.25v1.25h-1.25zM377.06 247.99h1.25v1.25h-1.25zM374.69 245h1.25v1.25h-1.25zM381.41 248.35h1.25v1.25h-1.25zM370.06 244.99h1.25v1.25h-1.25zM368.68 252.13h1.25v1.25h-1.25zM368.39 249.17h1.25v1.25h-1.25zM377.91 246.92h1.25v1.25h-1.25zM369.21 251.38h1.25v1.25h-1.25zM373.82 246.71h1.25v1.25h-1.25zM371.51 245.48h1.25v1.25h-1.25zM362.53 250.28h1.25v1.25h-1.25zM377.8 248.4h1.25v1.25h-1.25zM376.32 246.46h1.25v1.25h-1.25zM370.66 248.92h1.25v1.25h-1.25zM368.75 250.19h1.25v1.25h-1.25zM380.43 251.18h1.25v1.25h-1.25zM373.03 252.02h1.25v1.25h-1.25zM376.36 244.77h1.25v1.25h-1.25zM358.61 252.59h1.25v1.25h-1.25zM382.23 242.42h1.25v1.25h-1.25zM367.89 250.75h1.25v1.25h-1.25zM360.4 254.4h1.25v1.25h-1.25zM371.05 244.01h1.25v1.25h-1.25zM363.01 252.04h1.25v1.25h-1.25zM378.47 244.81h1.25v1.25h-1.25zM372.38 248.94h1.25v1.25h-1.25zM388.8 247.9h1.25v1.25h-1.25zM371.84 247.94h1.25v1.25h-1.25zM369.62 248.09h1.25v1.25h-1.25zM375.19 240.48h1.25v1.25h-1.25zM370.01 249.1h1.25v1.25h-1.25zM366.01 251.91h1.25v1.25h-1.25zM380.09 247.88h1.25v1.25h-1.25zM372.96 244.74h1.25v1.25h-1.25zM384.26 239h1.25v1.25h-1.25zM368.55 251.22h1.25v1.25h-1.25zM363.29 252.42h1.25v1.25h-1.25zM372.22 251.51h1.25v1.25h-1.25zM369.76 247.57h1.25v1.25h-1.25zM367.94 246.45h1.25v1.25h-1.25zM374.84 249.95h1.25v1.25h-1.25zM369.27 246.1h1.25v1.25h-1.25zM367.57 251.28h1.25v1.25h-1.25zM375.95 253.76h1.25v1.25h-1.25zM374.78 248.87h1.25v1.25h-1.25zM368.81 246.43h1.25v1.25h-1.25zM367.97 252.05h1.25v1.25h-1.25zM374.84 248.25h1.25v1.25h-1.25zM354.15 256.08h1.25v1.25h-1.25zM369.7 246.8h1.25v1.25h-1.25zM372.87 248.82h1.25v1.25h-1.25zM372.04 247.29h1.25v1.25h-1.25zM384.25 248.81h1.25v1.25h-1.25zM373.23 245.33h1.25v1.25h-1.25zM385.83 240.92h1.25v1.25h-1.25zM374.07 249.74h1.25v1.25h-1.25zM371.42 251.67h1.25v1.25h-1.25zM373.05 245.67h1.25v1.25h-1.25zM372.02 249.63h1.25v1.25h-1.25zM374.49 251.75h1.25v1.25h-1.25zM372.1 248.53h1.25v1.25h-1.25zM369.32 250.22h1.25v1.25h-1.25zM362.73 248.31h1.25v1.25h-1.25zM365.11 249.63h1.25v1.25h-1.25zM382.24 247.07h1.25v1.25h-1.25zM365.26 250.45h1.25v1.25h-1.25zM372.14 245.26h1.25v1.25h-1.25zM374.69 249.02h1.25v1.25h-1.25zM364.92 250.8h1.25v1.25h-1.25zM368.71 244.18h1.25v1.25h-1.25zM370.15 252.41h1.25v1.25h-1.25zM373.6 250.88h1.25v1.25h-1.25zM364.47 254.88h1.25v1.25h-1.25zM369.26 250.21h1.25v1.25h-1.25zM368.04 248.97h1.25v1.25h-1.25zM372.33 249.3h1.25v1.25h-1.25zM368.63 246.81h1.25v1.25h-1.25zM363.54 251.02h1.25v1.25h-1.25zM373 243.17h1.25v1.25h-1.25zM375.48 246.74h1.25v1.25h-1.25zM371.85 251.05h1.25v1.25h-1.25zM365.7 249.12h1.25v1.25h-1.25zM366.05 256.77h1.25v1.25h-1.25zM369.28 251.39h1.25v1.25h-1.25zM358.91 254.9h1.25v1.25h-1.25zM364.98 252.43h1.25v1.25h-1.25zM377.73 247.96h1.25v1.25h-1.25zM369.61 250.51h1.25v1.25h-1.25zM368.12 254.25h1.25v1.25h-1.25zM361.99 251.39h1.25v1.25h-1.25zM378.36 252.05h1.25v1.25h-1.25zM362.74 249.16h1.25v1.25h-1.25zM371.06 247.77h1.25v1.25h-1.25zM374.15 248.27h1.25v1.25h-1.25zM376.92 242.98h1.25v1.25h-1.25zM367.87 252.83h1.25v1.25h-1.25zM372.65 248.19h1.25v1.25h-1.25zM375.67 249.68h1.25v1.25h-1.25zM374.6 247.4h1.25v1.25h-1.25zM379.3 247.29h1.25v1.25h-1.25zM370.68 246.03h1.25v1.25h-1.25zM381.28 246.77h1.25v1.25h-1.25zM372.05 248.85h1.25v1.25h-1.25zM369.03 251.93h1.25v1.25h-1.25zM372.26 249.89h1.25v1.25h-1.25zM377.18 248.77h1.25v1.25h-1.25zM373.38 251.63h1.25v1.25h-1.25zM365.2 247.52h1.25v1.25h-1.25zM370.32 246.76h1.25v1.25h-1.25zM367.55 247.33h1.25v1.25h-1.25zM382.65 249.43h1.25v1.25h-1.25zM374.16 245.08h1.25v1.25h-1.25zM381.28 245.84h1.25v1.25h-1.25zM377.25 248.61h1.25v1.25h-1.25zM372.37 245.48h1.25v1.25h-1.25zM373.09 246.55h1.25v1.25h-1.25zM375.82 245.63h1.25v1.25h-1.25zM372.89 247.57h1.25v1.25h-1.25zM379.16 249.83h1.25v1.25h-1.25zM366.83 251.99h1.25v1.25h-1.25zM369.14 246.69h1.25v1.25h-1.25zM374.9 244.89h1.25v1.25h-1.25zM370.79 247.61h1.25v1.25h-1.25zM379.16 245.31h1.25v1.25h-1.25zM380.18 238.82h1.25v1.25h-1.25zM378.84 246.54h1.25v1.25h-1.25zM369.74 248.32h1.25v1.25h-1.25zM371.4 240.88h1.25v1.25h-1.25zM368.3 250.17h1.25v1.25h-1.25zM380.83 242.03h1.25v1.25h-1.25zM366.84 245.73h1.25v1.25h-1.25zM381.27 248.13h1.25v1.25h-1.25zM389.61 253.12h1.25v1.25h-1.25zM373.12 247.52h1.25v1.25h-1.25zM382.61 244.86h1.25v1.25h-1.25zM365.35 248.46h1.25v1.25h-1.25zM386.96 242.72h1.25v1.25h-1.25zM382.41 242.99h1.25v1.25h-1.25zM379.69 246.75h1.25v1.25h-1.25zM366.72 251.95h1.25v1.25h-1.25zM367.27 250.47h1.25v1.25h-1.25zM368.75 250.82h1.25v1.25h-1.25zM377.97 254.3h1.25v1.25h-1.25zM359.25 251.42h1.25v1.25h-1.25zM374.15 242.77h1.25v1.25h-1.25zM382.12 244.8h1.25v1.25h-1.25zM388.43 248.29h1.25v1.25h-1.25zM373.06 246.94h1.25v1.25h-1.25zM375.03 240.92h1.25v1.25h-1.25zM373.56 244.89h1.25v1.25h-1.25zM375.47 241.94h1.25v1.25h-1.25zM367.19 247.23h1.25v1.25h-1.25zM372.63 246.96h1.25v1.25h-1.25zM372.67 253.37h1.25v1.25h-1.25zM363.96 247.29h1.25v1.25h-1.25zM387 241.02h1.25v1.25h-1.25zM376.45 240.82h1.25v1.25h-1.25zM373.21 245.41h1.25v1.25h-1.25zM371.21 248.2h1.25v1.25h-1.25zM375.17 249.36h1.25v1.25h-1.25zM376.03 249.55h1.25v1.25h-1.25zM371.03 249.46h1.25v1.25h-1.25zM379.81 242.98h1.25v1.25h-1.25zM365.29 244.93h1.25v1.25h-1.25zM380.64 247.46h1.25v1.25h-1.25zM379.27 247.84h1.25v1.25h-1.25zM387.29 248.45h1.25v1.25h-1.25zM370.79 255.4h1.25v1.25h-1.25zM368.85 256.58h1.25v1.25h-1.25zM378.16 245.97h1.25v1.25h-1.25zM376.47 249.16h1.25v1.25h-1.25zM375.33 253.3h1.25v1.25h-1.25zM361.89 245.89h1.25v1.25h-1.25zM370.77 246.8h1.25v1.25h-1.25zM379.48 252.63h1.25v1.25h-1.25zM366.56 251.6h1.25v1.25h-1.25zM384.22 246.45h1.25v1.25h-1.25zM385.42 243.47h1.25v1.25h-1.25zM392.78 248.6h1.25v1.25h-1.25zM385.1 245.78h1.25v1.25h-1.25zM391.14 235.3h1.25v1.25h-1.25zM382.28 243.12h1.25v1.25h-1.25zM381.94 246.41h1.25v1.25h-1.25zM384.55 241.55h1.25v1.25h-1.25zM377.1 242.88h1.25v1.25h-1.25zM384.77 240.23h1.25v1.25h-1.25zM394.46 241.85h1.25v1.25h-1.25zM384.51 242.84h1.25v1.25h-1.25zM380.77 242.11h1.25v1.25h-1.25zM388.3 240.63h1.25v1.25h-1.25zM379.98 220.54h1.25v1.25h-1.25zM372.35 217.08h1.25v1.25h-1.25zM361.05 218.09h1.25v1.25h-1.25zM373.53 218.95h1.25v1.25h-1.25zM360.63 213.85h1.25v1.25h-1.25zM366.77 219.38h1.25v1.25h-1.25zM369.03 220h1.25v1.25h-1.25zM362.1 220.54h1.25v1.25h-1.25zM373.47 213.76h1.25v1.25h-1.25zM380.48 217.44h1.25v1.25h-1.25zM362.96 218.76h1.25v1.25h-1.25zM357.97 221.97h1.25v1.25h-1.25zM364.61 215.95h1.25v1.25h-1.25zM365.57 219.27h1.25v1.25h-1.25zM370.97 216.2h1.25v1.25h-1.25zM374.01 214.73h1.25v1.25h-1.25zM368.95 213.61h1.25v1.25h-1.25zM375.66 216.67h1.25v1.25h-1.25zM368.99 214.98h1.25v1.25h-1.25zM361.42 219.72h1.25v1.25h-1.25zM377.8 223.61h1.25v1.25h-1.25zM386.76 217.08h1.25v1.25h-1.25zM351.81 218.34h1.25v1.25h-1.25zM362.4 221.92h1.25v1.25h-1.25zM373.41 219.54h1.25v1.25h-1.25zM386.83 217.34h1.25v1.25h-1.25zM376.31 223.37h1.25v1.25h-1.25zM369.42 216.99h1.25v1.25h-1.25zM364.65 218.6h1.25v1.25h-1.25zM387.72 222.99h1.25v1.25h-1.25zM397.86 218.37h1.25v1.25h-1.25zM382 217.15h1.25v1.25h-1.25zM385.23 214.01h1.25v1.25h-1.25zM389.42 213.5h1.25v1.25h-1.25zM383.6 219.83h1.25v1.25h-1.25zM375.86 212.15h1.25v1.25h-1.25zM364.17 220.91h1.25v1.25h-1.25zM372.76 219.31h1.25v1.25h-1.25zM376.88 215.24h1.25v1.25h-1.25zM388.63 218.34h1.25v1.25h-1.25zM385.48 217.77h1.25v1.25h-1.25zM376.77 220.2h1.25v1.25h-1.25zM357.21 229.72h1.25v1.25h-1.25zM374.73 227.41h1.25v1.25h-1.25zM367.57 237.33h1.25v1.25h-1.25zM366.72 226.2h1.25v1.25h-1.25zM378.78 229.97h1.25v1.25h-1.25zM371.66 229.6h1.25v1.25h-1.25zM366.94 223.58h1.25v1.25h-1.25zM403.4 214.21h1.25v1.25h-1.25zM392.29 215.73h1.25v1.25h-1.25zM413.75 226.64h1.25v1.25h-1.25zM405 211.1h1.25v1.25h-1.25zM391.38 212.41h1.25v1.25h-1.25zM386.43 250.12h1.25v1.25h-1.25zM338.33 213.99h1.25v1.25h-1.25zM406.73 213.72h1.25v1.25h-1.25zM386.95 224.17h1.25v1.25h-1.25zM373.56 256.53h1.25v1.25h-1.25zM366.16 263.63h1.25v1.25h-1.25zM359.91 230.01h1.25v1.25h-1.25zM363.8 256.03h1.25v1.25h-1.25zM373.52 248.84h1.25v1.25h-1.25zM381.73 206.75h1.25v1.25h-1.25zM402.17 214.92h1.25v1.25h-1.25zM343.24 244.45h1.25v1.25h-1.25zM346.11 261.28h1.25v1.25h-1.25zM339.65 243.72h1.25v1.25h-1.25zM346.98 238.23h1.25v1.25h-1.25zM351.36 238.55h1.25v1.25h-1.25zM351.81 234.39h1.25v1.25h-1.25zM339.28 234.95h1.25v1.25h-1.25zM344.92 250.08h1.25v1.25h-1.25zM360.05 252.7h1.25v1.25h-1.25zM355.26 260.03h1.25v1.25h-1.25zM344.65 257.05h1.25v1.25h-1.25zM344.48 259.22h1.25v1.25h-1.25zM340.99 258.75h1.25v1.25h-1.25z" fill="#000" fill-opacity="0.7"/>
<path d="M369.5 245.01h1.25v1.25h-1.25zM372.38 253.33h1.25v1.25h-1.25zM374.9 248.35h1.25v1.25h-1.25zM364.48 248.65h1.25v1.25h-1.25zM369.02 249.3h1.25v1.25h-1.25zM363.62 251.59h1.25v1.25h-1.25zM378.38 241.24h1.25v1.25h-1.25zM368.41 252.52h1.25v1.25h-1.25zM376.16 247.52h1.25v1.25h-1.25zM373.28 249.87h1.25v1.25h-1.25zM364.43 249.36h1.25v1.25h-1.25zM371.46 246.07h1.25v1.25h-1.25zM375.22 251.44h1.25v1.25h-1.25zM369.21 249.92h1.25v1.25h-1.25zM365.55 255.69h1.25v1.25h-1.25zM379.42 247.55h1.25v1.25h-1.25zM373.19 247.51h1.25v1.25h-1.25zM365.01 250.71h1.25v1.25h-1.25zM383.56 244.12h1.25v1.25h-1.25zM380.38 244.22h1.25v1.25h-1.25zM362.43 249.1h1.25v1.25h-1.25zM367.24 252.11h1.25v1.25h-1.25zM370.24 248.67h1.25v1.25h-1.25zM370.02 247.25h1.25v1.25h-1.25zM373.04 245.84h1.25v1.25h-1.25zM363.34 250.59h1.25v1.25h-1.25zM374.27 248.21h1.25v1.25h-1.25zM374.76 244.56h1.25v1.25h-1.25zM375.89 251.85h1.25v1.25h-1.25zM371.24 243.8h1.25v1.25h-1.25zM367.52 252.24h1.25v1.25h-1.25zM374.67 253.54h1.25v1.25h-1.25zM374.95 245.85h1.25v1.25h-1.25zM376.6 247.89h1.25v1.25h-1.25zM376.74 246.12h1.25v1.25h-1.25zM363.22 250.06h1.25v1.25h-1.25zM373.09 249.87h1.25v1.25h-1.25zM376.21 254.19h1.25v1.25h-1.25zM367.91 250.3h1.25v1.25h-1.25zM359.76 252.14h1.25v1.25h-1.25zM369.5 252.31h1.25v1.25h-1.25zM368.06 251.44h1.25v1.25h-1.25zM358.8 253.44h1.25v1.25h-1.25zM368.15 251.34h1.25v1.25h-1.25zM374.72 253.94h1.25v1.25h-1.25zM369.78 255.33h1.25v1.25h-1.25zM375.31 247.41h1.25v1.25h-1.25zM370.4 248.71h1.25v1.25h-1.25zM371.02 249.4h1.25v1.25h-1.25zM362.94 254.26h1.25v1.25h-1.25zM368.61 247.16h1.25v1.25h-1.25zM376.5 246.88h1.25v1.25h-1.25zM380.38 245.26h1.25v1.25h-1.25zM365.16 254.42h1.25v1.25h-1.25zM358.1 250.25h1.25v1.25h-1.25zM373.57 247.46h1.25v1.25h-1.25zM371.33 250.87h1.25v1.25h-1.25zM377.02 248.49h1.25v1.25h-1.25zM371.76 252.32h1.25v1.25h-1.25zM371.39 251.42h1.25v1.25h-1.25zM378.47 246.93h1.25v1.25h-1.25zM370.42 245.98h1.25v1.25h-1.25zM367.02 246.74h1.25v1.25h-1.25zM380.1 246.33h1.25v1.25h-1.25zM368.25 246.03h1.25v1.25h-1.25zM373.54 248.69h1.25v1.25h-1.25zM378.82 243.67h1.25v1.25h-1.25zM366.68 252.28h1.25v1.25h-1.25zM358.95 253.29h1.25v1.25h-1.25zM379.96 244.05h1.25v1.25h-1.25zM377.43 246.45h1.25v1.25h-1.25zM362.3 248.03h1.25v1.25h-1.25zM372.51 246.02h1.25v1.25h-1.25zM374.48 248.24h1.25v1.25h-1.25zM373.26 251.56h1.25v1.25h-1.25zM374.75 246.79h1.25v1.25h-1.25zM372.59 245.04h1.25v1.25h-1.25zM372.7 248.06h1.25v1.25h-1.25zM377.22 245.52h1.25v1.25h-1.25zM378.43 243.81h1.25v1.25h-1.25zM372.14 247.78h1.25v1.25h-1.25zM374.1 246.37h1.25v1.25h-1.25zM372.12 247.12h1.25v1.25h-1.25zM366.92 252.47h1.25v1.25h-1.25zM364.5 250.37h1.25v1.25h-1.25zM378.98 245.52h1.25v1.25h-1.25zM374.84 244.79h1.25v1.25h-1.25zM385 247.07h1.25v1.25h-1.25zM369.14 250.66h1.25v1.25h-1.25zM369.86 246.25h1.25v1.25h-1.25zM381.13 243.3h1.25v1.25h-1.25zM370.87 240.88h1.25v1.25h-1.25zM377.62 251.16h1.25v1.25h-1.25zM362.09 252.85h1.25v1.25h-1.25zM370.46 247.7h1.25v1.25h-1.25zM371.4 251.08h1.25v1.25h-1.25zM375.04 246.95h1.25v1.25h-1.25zM372.54 249.95h1.25v1.25h-1.25zM372.48 251.84h1.25v1.25h-1.25zM378 250.42h1.25v1.25h-1.25zM380.13 239.46h1.25v1.25h-1.25zM375.32 243.86h1.25v1.25h-1.25zM371.03 246.07h1.25v1.25h-1.25zM366.35 251.36h1.25v1.25h-1.25zM374.62 243.78h1.25v1.25h-1.25zM368.38 245.22h1.25v1.25h-1.25zM379.57 242.77h1.25v1.25h-1.25zM367.75 249.85h1.25v1.25h-1.25zM376.38 246.85h1.25v1.25h-1.25zM365.57 251.7h1.25v1.25h-1.25zM377.7 246.86h1.25v1.25h-1.25zM375.16 247.37h1.25v1.25h-1.25zM373.09 252.24h1.25v1.25h-1.25zM369.87 246.26h1.25v1.25h-1.25zM369.71 251.84h1.25v1.25h-1.25zM370.19 242.98h1.25v1.25h-1.25zM378.59 245.19h1.25v1.25h-1.25zM376.8 247.77h1.25v1.25h-1.25zM371.1 247.66h1.25v1.25h-1.25zM367.61 247.65h1.25v1.25h-1.25zM369.54 247.33h1.25v1.25h-1.25zM373.37 240.75h1.25v1.25h-1.25zM370.43 247.62h1.25v1.25h-1.25zM371.23 251.12h1.25v1.25h-1.25zM374.08 242.99h1.25v1.25h-1.25zM367.56 245.26h1.25v1.25h-1.25zM372.36 250.94h1.25v1.25h-1.25zM368.44 249.87h1.25v1.25h-1.25zM375.38 249.91h1.25v1.25h-1.25zM365.82 249.3h1.25v1.25h-1.25zM367.85 252.06h1.25v1.25h-1.25zM367.41 250.41h1.25v1.25h-1.25zM367.15 251.11h1.25v1.25h-1.25zM368.4 247.82h1.25v1.25h-1.25zM369.03 254.86h1.25v1.25h-1.25zM371.43 249.87h1.25v1.25h-1.25zM372.05 250.08h1.25v1.25h-1.25zM371.17 246.98h1.25v1.25h-1.25zM374.62 246.1h1.25v1.25h-1.25zM375.86 248.04h1.25v1.25h-1.25zM370.62 249.3h1.25v1.25h-1.25zM373.05 246.65h1.25v1.25h-1.25zM371.33 249.44h1.25v1.25h-1.25zM379.77 248.75h1.25v1.25h-1.25zM379.64 241.92h1.25v1.25h-1.25zM377.77 237.45h1.25v1.25h-1.25zM375.89 243.82h1.25v1.25h-1.25zM358.13 249.98h1.25v1.25h-1.25zM376.42 251.07h1.25v1.25h-1.25zM375.57 246.09h1.25v1.25h-1.25zM378.21 246.65h1.25v1.25h-1.25zM362.82 249.14h1.25v1.25h-1.25zM398.02 237.49h1.25v1.25h-1.25zM382.6 237.84h1.25v1.25h-1.25zM373.71 248.63h1.25v1.25h-1.25zM371.86 248.78h1.25v1.25h-1.25zM356.94 256.61h1.25v1.25h-1.25zM382.63 239.45h1.25v1.25h-1.25zM363.57 247.76h1.25v1.25h-1.25zM364.03 244.41h1.25v1.25h-1.25zM363.4 244.81h1.25v1.25h-1.25zM366.93 253h1.25v1.25h-1.25zM382.03 252.33h1.25v1.25h-1.25zM366.74 247.91h1.25v1.25h-1.25zM376.41 249.03h1.25v1.25h-1.25zM376.92 245.33h1.25v1.25h-1.25zM381.46 244.9h1.25v1.25h-1.25zM375.92 248.24h1.25v1.25h-1.25zM378.93 242.86h1.25v1.25h-1.25zM372.6 245.94h1.25v1.25h-1.25zM378 245.7h1.25v1.25h-1.25zM372.98 252.9h1.25v1.25h-1.25zM376.19 244.86h1.25v1.25h-1.25zM361.27 246.28h1.25v1.25h-1.25zM370.56 243.82h1.25v1.25h-1.25zM371.83 246.36h1.25v1.25h-1.25zM369.28 243.14h1.25v1.25h-1.25zM360.49 254.15h1.25v1.25h-1.25zM371.66 248.8h1.25v1.25h-1.25zM362.6 258.31h1.25v1.25h-1.25zM374.45 249.25h1.25v1.25h-1.25zM368.67 252.56h1.25v1.25h-1.25zM378.13 245.59h1.25v1.25h-1.25zM384.95 246.52h1.25v1.25h-1.25zM388.38 249.05h1.25v1.25h-1.25zM382.9 238h1.25v1.25h-1.25zM361.24 255.47h1.25v1.25h-1.25zM372.06 250.58h1.25v1.25h-1.25zM372.82 244.77h1.25v1.25h-1.25zM375.93 240.87h1.25v1.25h-1.25zM372.29 244.88h1.25v1.25h-1.25zM385.66 244.59h1.25v1.25h-1.25zM367.42 251.42h1.25v1.25h-1.25zM372.87 246.49h1.25v1.25h-1.25zM377.21 250.21h1.25v1.25h-1.25zM379.55 244.55h1.25v1.25h-1.25zM385.38 249.36h1.25v1.25h-1.25zM377.16 245.26h1.25v1.25h-1.25zM383.46 246.87h1.25v1.25h-1.25zM390.02 237.26h1.25v1.25h-1.25zM388.77 242.05h1.25v1.25h-1.25zM394.74 239.16h1.25v1.25h-1.25zM377.39 251.29h1.25v1.25h-1.25zM384.55 248.81h1.25v1.25h-1.25zM380.96 245.06h1.25v1.25h-1.25zM386.74 245.74h1.25v1.25h-1.25zM390.97 239.58h1.25v1.25h-1.25zM375.39 247.21h1.25v1.25h-1.25zM380.42 241.71h1.25v1.25h-1.25zM386.32 235.15h1.25v1.25h-1.25zM361.9 216.27h1.25v1.25h-1.25zM374.04 219.38h1.25v1.25h-1.25zM357.16 213.28h1.25v1.25h-1.25zM360.39 219.1h1.25v1.25h-1.25zM360.23 218.24h1.25v1.25h-1.25zM345.48 217.25h1.25v1.25h-1.25zM361.43 217.39h1.25v1.25h-1.25zM374.15 216.31h1.25v1.25h-1.25zM360.38 216.25h1.25v1.25h-1.25zM362.37 221.34h1.25v1.25h-1.25zM358.14 219.13h1.25v1.25h-1.25zM365.65 213.84h1.25v1.25h-1.25zM366.83 222.08h1.25v1.25h-1.25zM374.93 224.71h1.25v1.25h-1.25zM347.92 221.64h1.25v1.25h-1.25zM370.49 217.82h1.25v1.25h-1.25zM378.3 213.61h1.25v1.25h-1.25zM373.52 222.77h1.25v1.25h-1.25zM382.61 217.74h1.25v1.25h-1.25zM366 216.2h1.25v1.25h-1.25zM373.6 216.4h1.25v1.25h-1.25zM370.74 226.14h1.25v1.25h-1.25zM388.93 221.91h1.25v1.25h-1.25zM358.43 222.52h1.25v1.25h-1.25zM381.33 216.79h1.25v1.25h-1.25zM390.14 220.19h1.25v1.25h-1.25zM372.57 219.91h1.25v1.25h-1.25zM368.46 213.25h1.25v1.25h-1.25zM373.65 223.26h1.25v1.25h-1.25zM377.28 220.51h1.25v1.25h-1.25zM363.82 219.78h1.25v1.25h-1.25zM361.23 217.67h1.25v1.25h-1.25zM368.01 214.69h1.25v1.25h-1.25zM365.56 218.28h1.25v1.25h-1.25zM378.95 214.15h1.25v1.25h-1.25zM385.97 215.31h1.25v1.25h-1.25zM376.29 222.05h1.25v1.25h-1.25zM377.83 219.69h1.25v1.25h-1.25zM366.7 218.47h1.25v1.25h-1.25zM368.07 208.35h1.25v1.25h-1.25zM364.33 229.03h1.25v1.25h-1.25zM370.59 214.17h1.25v1.25h-1.25zM361.62 231.3h1.25v1.25h-1.25zM362.74 229.87h1.25v1.25h-1.25zM374.23 228.74h1.25v1.25h-1.25zM383.98 232.38h1.25v1.25h-1.25zM376.2 231.78h1.25v1.25h-1.25zM382.56 231.59h1.25v1.25h-1.25zM380.43 233.91h1.25v1.25h-1.25zM394.09 211.62h1.25v1.25h-1.25zM396.63 225.36h1.25v1.25h-1.25zM391.51 219.8h1.25v1.25h-1.25zM396.95 225.73h1.25v1.25h-1.25zM405.8 215.16h1.25v1.25h-1.25zM407.57 215.75h1.25v1.25h-1.25zM409.71 241.22h1.25v1.25h-1.25zM358.65 242.34h1.25v1.25h-1.25zM406.49 222.26h1.25v1.25h-1.25zM362.14 251.5h1.25v1.25h-1.25zM379.69 254.58h1.25v1.25h-1.25zM373.13 244.86h1.25v1.25h-1.25zM415.58 247.93h1.25v1.25h-1.25zM360.48 218.93h1.25v1.25h-1.25zM391.61 218.56h1.25v1.25h-1.25zM368.81 245.71h1.25v1.25h-1.25zM355.21 241.94h1.25v1.25h-1.25zM338.67 240.2h1.25v1.25h-1.25zM357.07 256.39h1.25v1.25h-1.25zM341.41 262.35h1.25v1.25h-1.25zM344.13 247.26h1.25v1.25h-1.25zM359.26 233.27h1.25v1.25h-1.25zM358.61 232.9h1.25v1.25h-1.25zM343.41 256.42h1.25v1.25h-1.25zM339.82 242.47h1.25v1.25h-1.25zM343.46 254.52h1.25v1.25h-1.25zM339.27 259.82h1.25v1.25h-1.25zM346.37 254.69h1.25v1.25h-1.25zM342.81 256.15h1.25v1.25h-1.25z" fill="#000" fill-opacity="0.7"/>
<path d="M370.05 253.04h1.25v1.25h-1.25zM369.1 248.09h1.25v1.25h-1.25zM376.75 246.4h1.25v1.25h-1.25zM372.83 249.22h1.25v1.25h-1.25zM372.13 247.18h1.25v1.25h-1.25zM365.57 249.75h1.25v1.25h-1.25zM374.4 248.2h1.25v1.25h-1.25zM375.12 246.49h1.25v1.25h-1.25zM378.41 245.85h1.25v1.25h-1.25zM373.95 246.11h1.25v1.25h-1.25zM379.38 244.25h1.25v1.25h-1.25zM377.24 244.65h1.25v1.25h-1.25zM374.61 249.19h1.25v1.25h-1.25zM372.48 249.75h1.25v1.25h-1.25zM366.85 246.99h1.25v1.25h-1.25zM377.18 245.23h1.25v1.25h-1.25zM372.05 245.99h1.25v1.25h-1.25zM369.56 256.38h1.25v1.25h-1.25zM379.05 242.79h1.25v1.25h-1.25zM365.59 243.26h1.25v1.25h-1.25zM364.98 252.63h1.25v1.25h-1.25zM374.65 248.86h1.25v1.25h-1.25zM366.69 246.21h1.25v1.25h-1.25zM366.73 253.17h1.25v1.25h-1.25zM375.97 250.66h1.25v1.25h-1.25zM364.07 251.27h1.25v1.25h-1.25zM360.75 248.75h1.25v1.25h-1.25zM366.83 254.21h1.25v1.25h-1.25zM380.37 249.25h1.25v1.25h-1.25zM380.99 247.86h1.25v1.25h-1.25zM379.92 249.92h1.25v1.25h-1.25zM376.82 248.76h1.25v1.25h-1.25zM371.56 251.57h1.25v1.25h-1.25zM371.98 249.67h1.25v1.25h-1.25zM367.32 254.27h1.25v1.25h-1.25zM370.84 250.73h1.25v1.25h-1.25zM372.04 250.4h1.25v1.25h-1.25zM374.24 252.74h1.25v1.25h-1.25zM382.59 246.71h1.25v1.25h-1.25zM370.95 250.05h1.25v1.25h-1.25zM371.65 247.99h1.25v1.25h-1.25zM368.71 250.64h1.25v1.25h-1.25zM382.67 242.63h1.25v1.25h-1.25zM380.22 246.19h1.25v1.25h-1.25zM376.96 247.71h1.25v1.25h-1.25zM376.26 247.58h1.25v1.25h-1.25zM363.23 254.37h1.25v1.25h-1.25zM372.07 247.8h1.25v1.25h-1.25zM368.5 244.18h1.25v1.25h-1.25zM366.07 245.79h1.25v1.25h-1.25zM376.83 251.33h1.25v1.25h-1.25zM377.77 246.2h1.25v1.25h-1.25zM366.88 248.3h1.25v1.25h-1.25zM369.76 254.54h1.25v1.25h-1.25zM373.79 254.24h1.25v1.25h-1.25zM368.69 247.81h1.25v1.25h-1.25zM370.68 252.22h1.25v1.25h-1.25zM371.48 248.4h1.25v1.25h-1.25zM368.24 249.36h1.25v1.25h-1.25zM372.23 247.08h1.25v1.25h-1.25zM373.54 242.4h1.25v1.25h-1.25zM377.04 245.9h1.25v1.25h-1.25zM371.48 255.03h1.25v1.25h-1.25zM361.82 249.11h1.25v1.25h-1.25zM369.58 247.29h1.25v1.25h-1.25zM374.19 252.21h1.25v1.25h-1.25zM367.71 250.68h1.25v1.25h-1.25zM372.58 248.39h1.25v1.25h-1.25zM372.24 249.38h1.25v1.25h-1.25zM371.49 247.65h1.25v1.25h-1.25zM371.76 250.03h1.25v1.25h-1.25zM365.08 253.62h1.25v1.25h-1.25zM370.59 247.09h1.25v1.25h-1.25zM378.13 250.33h1.25v1.25h-1.25zM372.27 249.77h1.25v1.25h-1.25zM372.5 249.07h1.25v1.25h-1.25zM368.36 255.28h1.25v1.25h-1.25zM373.71 250.58h1.25v1.25h-1.25zM373.6 250.21h1.25v1.25h-1.25zM377.28 248.21h1.25v1.25h-1.25zM364.72 251.4h1.25v1.25h-1.25zM367.74 247.1h1.25v1.25h-1.25zM372.82 245.81h1.25v1.25h-1.25zM361.93 250.33h1.25v1.25h-1.25zM367.04 252.28h1.25v1.25h-1.25zM379.45 246.42h1.25v1.25h-1.25zM377.52 250.13h1.25v1.25h-1.25zM369.43 245.96h1.25v1.25h-1.25zM364.22 248.81h1.25v1.25h-1.25zM365.88 248.79h1.25v1.25h-1.25zM370.82 244.66h1.25v1.25h-1.25zM381.18 249.99h1.25v1.25h-1.25zM381.57 244.77h1.25v1.25h-1.25zM368.54 247.41h1.25v1.25h-1.25zM366.01 250.81h1.25v1.25h-1.25zM372.24 247.7h1.25v1.25h-1.25zM368.69 249.19h1.25v1.25h-1.25zM372.99 250.21h1.25v1.25h-1.25zM378.09 248.85h1.25v1.25h-1.25zM370.9 246.64h1.25v1.25h-1.25zM364.68 250.39h1.25v1.25h-1.25zM373.95 247.63h1.25v1.25h-1.25zM372.54 247.19h1.25v1.25h-1.25zM374.4 250.45h1.25v1.25h-1.25zM358.24 249.35h1.25v1.25h-1.25zM368.27 250.81h1.25v1.25h-1.25zM370.47 245.86h1.25v1.25h-1.25zM384.68 241.68h1.25v1.25h-1.25zM372.57 247.04h1.25v1.25h-1.25zM371.26 247.33h1.25v1.25h-1.25zM372.24 248.45h1.25v1.25h-1.25zM361.93 243.52h1.25v1.25h-1.25zM369.89 244.84h1.25v1.25h-1.25zM372.29 247.79h1.25v1.25h-1.25zM371.37 245.08h1.25v1.25h-1.25zM372.65 244.96h1.25v1.25h-1.25zM375.62 248.52h1.25v1.25h-1.25zM372.13 251.82h1.25v1.25h-1.25zM369.26 253.79h1.25v1.25h-1.25zM374.51 249.27h1.25v1.25h-1.25zM371.64 252.47h1.25v1.25h-1.25zM380.37 249.12h1.25v1.25h-1.25zM380.2 248.27h1.25v1.25h-1.25zM363.66 252.21h1.25v1.25h-1.25zM378.08 249.13h1.25v1.25h-1.25zM370.63 247.69h1.25v1.25h-1.25zM374 250.03h1.25v1.25h-1.25zM371.79 249.69h1.25v1.25h-1.25zM374.63 252.39h1.25v1.25h-1.25zM363.89 247.14h1.25v1.25h-1.25zM366.12 251.24h1.25v1.25h-1.25zM367.52 251.32h1.25v1.25h-1.25zM376.4 243.38h1.25v1.25h-1.25zM369.43 250.83h1.25v1.25h-1.25zM379.7 245.21h1.25v1.25h-1.25zM371.57 246.73h1.25v1.25h-1.25zM371.19 247.89h1.25v1.25h-1.25zM373.95 248.14h1.25v1.25h-1.25zM370.84 244.51h1.25v1.25h-1.25zM379.08 248.79h1.25v1.25h-1.25zM364.26 251.51h1.25v1.25h-1.25zM377.87 251.94h1.25v1.25h-1.25zM368.33 250.46h1.25v1.25h-1.25zM361.18 253.31h1.25v1.25h-1.25zM385.54 246.78h1.25v1.25h-1.25zM378.09 256.91h1.25v1.25h-1.25zM370.83 250.65h1.25v1.25h-1.25zM381.28 242.52h1.25v1.25h-1.25zM395.6 238.84h1.25v1.25h-1.25zM368.33 249.77h1.25v1.25h-1.25zM368.69 248.67h1.25v1.25h-1.25zM368.63 247.22h1.25v1.25h-1.25zM381.23 246.06h1.25v1.25h-1.25zM368.44 247.43h1.25v1.25h-1.25zM378.34 248.5h1.25v1.25h-1.25zM378.36 248.96h1.25v1.25h-1.25zM367.05 250.34h1.25v1.25h-1.25zM367.51 245.27h1.25v1.25h-1.25zM374.07 247.39h1.25v1.25h-1.25zM379.87 245.46h1.25v1.25h-1.25zM371.67 252.16h1.25v1.25h-1.25zM368.75 251.16h1.25v1.25h-1.25zM367.1 248.66h1.25v1.25h-1.25zM365.7 243.27h1.25v1.25h-1.25zM377.16 238.46h1.25v1.25h-1.25zM363.9 249.71h1.25v1.25h-1.25zM366.41 250.19h1.25v1.25h-1.25zM370.73 248.03h1.25v1.25h-1.25zM370.04 247.44h1.25v1.25h-1.25zM385.8 243.17h1.25v1.25h-1.25zM388.4 247.16h1.25v1.25h-1.25zM367.88 246.02h1.25v1.25h-1.25zM362.52 250.15h1.25v1.25h-1.25zM380.94 238.01h1.25v1.25h-1.25zM378.66 251.1h1.25v1.25h-1.25zM373.96 248.53h1.25v1.25h-1.25zM375.8 248.16h1.25v1.25h-1.25zM379.34 249.32h1.25v1.25h-1.25zM361.74 247.69h1.25v1.25h-1.25zM370.93 252.53h1.25v1.25h-1.25zM368.76 245.34h1.25v1.25h-1.25zM380.89 246.74h1.25v1.25h-1.25zM382.33 246.17h1.25v1.25h-1.25zM377.77 244.51h1.25v1.25h-1.25zM365.67 249.53h1.25v1.25h-1.25zM381.71 242.14h1.25v1.25h-1.25zM376.04 244.35h1.25v1.25h-1.25zM388.14 238.5h1.25v1.25h-1.25zM382.2 238.99h1.25v1.25h-1.25zM361.68 250.34h1.25v1.25h-1.25zM378.11 240.2h1.25v1.25h-1.25zM382.08 251.68h1.25v1.25h-1.25zM359.37 251.34h1.25v1.25h-1.25zM373.38 247.48h1.25v1.25h-1.25zM367.76 246.86h1.25v1.25h-1.25zM378.27 246.67h1.25v1.25h-1.25zM376.57 251.42h1.25v1.25h-1.25zM381.32 245.86h1.25v1.25h-1.25zM393 239.03h1.25v1.25h-1.25zM392.14 240.74h1.25v1.25h-1.25zM386.17 239.13h1.25v1.25h-1.25zM390.33 242.07h1.25v1.25h-1.25zM383.85 247.51h1.25v1.25h-1.25zM394.74 237.41h1.25v1.25h-1.25zM382.24 243.16h1.25v1.25h-1.25zM375.69 249.97h1.25v1.25h-1.25zM387.71 238.46h1.25v1.25h-1.25zM393.78 241.29h1.25v1.25h-1.25zM386.9 243.25h1.25v1.25h-1.25zM390.27 239.36h1.25v1.25h-1.25zM363.57 221.3h1.25v1.25h-1.25zM358.1 220.33h1.25v1.25h-1.25zM375.27 216.58h1.25v1.25h-1.25zM359.8 213.04h1.25v1.25h-1.25zM364.71 224h1.25v1.25h-1.25zM356.25 217.87h1.25v1.25h-1.25zM361.79 220.44h1.25v1.25h-1.25zM377.55 217.62h1.25v1.25h-1.25zM372.77 218.24h1.25v1.25h-1.25zM361.69 221.08h1.25v1.25h-1.25zM368.76 218.08h1.25v1.25h-1.25zM360.19 217.89h1.25v1.25h-1.25zM365.37 217.3h1.25v1.25h-1.25zM377.46 217.81h1.25v1.25h-1.25zM360.44 217.38h1.25v1.25h-1.25zM357.99 218.57h1.25v1.25h-1.25zM360.2 222.8h1.25v1.25h-1.25zM376.66 217.16h1.25v1.25h-1.25zM358.47 218.33h1.25v1.25h-1.25zM359.16 219.97h1.25v1.25h-1.25zM366.2 218.14h1.25v1.25h-1.25zM370.92 219.8h1.25v1.25h-1.25zM377.37 219.92h1.25v1.25h-1.25zM372.3 219.42h1.25v1.25h-1.25zM364.6 221.45h1.25v1.25h-1.25zM363.55 217.86h1.25v1.25h-1.25zM359.1 214.55h1.25v1.25h-1.25zM369.89 225.89h1.25v1.25h-1.25zM379.51 214.52h1.25v1.25h-1.25zM382.74 213.56h1.25v1.25h-1.25zM353.98 223.98h1.25v1.25h-1.25zM376.23 221.21h1.25v1.25h-1.25zM363.15 217.97h1.25v1.25h-1.25zM379.2 222.06h1.25v1.25h-1.25zM387.89 211.94h1.25v1.25h-1.25zM366.09 216.07h1.25v1.25h-1.25zM370.64 213.88h1.25v1.25h-1.25zM354.28 219.91h1.25v1.25h-1.25zM353.73 221.84h1.25v1.25h-1.25zM390.98 208.33h1.25v1.25h-1.25zM375.43 217.75h1.25v1.25h-1.25zM386.99 211.99h1.25v1.25h-1.25zM370.38 232.14h1.25v1.25h-1.25zM355.16 230.78h1.25v1.25h-1.25zM383.79 222.9h1.25v1.25h-1.25zM366.46 233.7h1.25v1.25h-1.25zM380.94 224.32h1.25v1.25h-1.25zM370.1 225.71h1.25v1.25h-1.25zM360.81 234.42h1.25v1.25h-1.25zM409.91 220.4h1.25v1.25h-1.25zM411.81 216.55h1.25v1.25h-1.25zM399 226.32h1.25v1.25h-1.25zM395.41 220.49h1.25v1.25h-1.25zM398.47 218.89h1.25v1.25h-1.25zM407.63 228.72h1.25v1.25h-1.25zM410.73 221.73h1.25v1.25h-1.25zM372.32 225.77h1.25v1.25h-1.25zM351.14 225.07h1.25v1.25h-1.25zM340.49 230.85h1.25v1.25h-1.25zM368.91 231.06h1.25v1.25h-1.25zM412.57 254.23h1.25v1.25h-1.25zM363.54 261.42h1.25v1.25h-1.25zM365.33 233.62h1.25v1.25h-1.25zM363.95 256.94h1.25v1.25h-1.25zM359.23 244.04h1.25v1.25h-1.25zM350.09 255.18h1.25v1.25h-1.25zM354.32 253.81h1.25v1.25h-1.25zM359 260.82h1.25v1.25h-1.25zM343.06 262.63h1.25v1.25h-1.25zM341.59 252.13h1.25v1.25h-1.25zM341.37 247.79h1.25v1.25h-1.25zM358.8 258.37h1.25v1.25h-1.25zM354.15 234.43h1.25v1.25h-1.25zM345.29 247.28h1.25v1.25h-1.25zM347.58 262.35h1.25v1.25h-1.25zM343.48 256.92h1.25v1.25h-1.25zM342.65 260.22h1.25v1.25h-1.25zM346.95 256.72h1.25v1.25h-1.25z" fill="#000" fill-opacity="0.7"/>
<rect x="336.8" y="182.5" width="81.8" height="83.5" fill="none" stroke="#1c1c1c" stroke-width="1.0"/>
<path d="M338 266L338 269.3M341.13 266L341.13 267.8M344.26 266L344.26 267.8M347.4 266L347.4 267.8M350.53 266L350.53 267.8M353.66 266L353.66 269.3M356.79 266L356.79 267.8M359.92 266L359.92 267.8M363.06 266L363.06 267.8M366.19 266L366.19 267.8M369.32 266L369.32 269.3M372.45 266L372.45 267.8M375.58 266L375.58 267.8M378.72 266L378.72 267.8M381.85 266L381.85 267.8M384.98 266L384.98 269.3M388.11 266L388.11 267.8M391.24 266L391.24 267.8M394.38 266L394.38 267.8M397.51 266L397.51 267.8M400.64 266L400.64 269.3M403.77 266L403.77 267.8M406.9 266L406.9 267.8M410.04 266L410.04 267.8M413.17 266L413.17 267.8M416.3 266L416.3 269.3M336.8 266L333.5 266M336.8 259.72L335 259.72M336.8 256.04L335 256.04M336.8 253.43L335 253.43M336.8 251.41L335 251.41M336.8 249.76L335 249.76M336.8 248.36L335 248.36M336.8 247.15L335 247.15M336.8 246.08L335 246.08M336.8 245.12L333.5 245.12M336.8 238.84L335 238.84M336.8 235.17L335 235.17M336.8 232.56L335 232.56M336.8 230.53L335 230.53M336.8 228.88L335 228.88M336.8 227.48L335 227.48M336.8 226.27L335 226.27M336.8 225.21L335 225.21M336.8 224.25L333.5 224.25M336.8 217.97L335 217.97M336.8 214.29L335 214.29M336.8 211.68L335 211.68M336.8 209.66L335 209.66M336.8 208.01L335 208.01M336.8 206.61L335 206.61M336.8 205.4L335 205.4M336.8 204.33L335 204.33M336.8 203.38L333.5 203.38M336.8 197.09L335 197.09M336.8 193.42L335 193.42M336.8 190.81L335 190.81M336.8 188.78L335 188.78M336.8 187.13L335 187.13M336.8 185.73L335 185.73M336.8 184.52L335 184.52M336.8 183.46L335 183.46M336.8 182.5L333.5 182.5" stroke="#111" stroke-width="0.85" fill="none"/>
<text x="338.3" y="275" font-size="6.2" text-anchor="middle">0</text>
<text x="353.96" y="275" font-size="6.2" text-anchor="middle">200</text>
<text x="369.62" y="275" font-size="6.2" text-anchor="middle">400</text>
<text x="385.28" y="275" font-size="6.2" text-anchor="middle">600</text>
<text x="400.94" y="275" font-size="6.2" text-anchor="middle">800</text>
<text x="416.6" y="275" font-size="6.2" text-anchor="middle">1000</text>
<text x="331.1" y="270.1" font-size="5.8" transform="rotate(-90 331.1 270.1)">10</text>
<text x="327.5" y="263.5" font-size="5.4" transform="rotate(-90 327.5 263.5)">0</text>
<text x="331.1" y="249.22" font-size="5.8" transform="rotate(-90 331.1 249.22)">10</text>
<text x="327.5" y="242.62" font-size="5.4" transform="rotate(-90 327.5 242.62)">1</text>
<text x="331.1" y="228.35" font-size="5.8" transform="rotate(-90 331.1 228.35)">10</text>
<text x="327.5" y="221.75" font-size="5.4" transform="rotate(-90 327.5 221.75)">2</text>
<text x="331.1" y="207.47" font-size="5.8" transform="rotate(-90 331.1 207.47)">10</text>
<text x="327.5" y="200.88" font-size="5.4" transform="rotate(-90 327.5 200.88)">3</text>
<text x="331.1" y="186.6" font-size="5.8" transform="rotate(-90 331.1 186.6)">10</text>
<text x="327.5" y="180" font-size="5.4" transform="rotate(-90 327.5 180)">4</text>
<text x="377.2" y="283" font-size="6.4" text-anchor="middle">FSC-Height</text>
<text x="321.8" y="224.15" font-size="6.4" text-anchor="middle" transform="rotate(-90 321.8 224.15)">7-AAD</text>
<ellipse cx="373.3" cy="218.6" rx="23.1" ry="8.5" fill="none" stroke="#0a0a0a" stroke-width="1.4"/>
<ellipse cx="377.9" cy="249.2" rx="24.8" ry="13" fill="none" stroke="#0a0a0a" stroke-width="1.4" transform="rotate(-2 377.9 249.2)"/>
<text x="362.8" y="201.7" font-size="7.5" fill="#222">Apoptotic</text>
<text x="371.8" y="236.9" font-size="7.35" fill="#222">Non-apoptotic</text>
<path d="M436.9 266.4L436.9 263.88L437.3 264.2L437.7 263.78L438.1 264.72L438.5 264.21L438.92 264.56L439.33 263.98L439.75 264.51L440.17 263.89L440.58 264.33L441 264.28L441.5 264.37L442 264.12L442.5 264.56L443 264.71L443.43 263.61L443.85 263.69L444.27 263.84L444.7 263.32L445.13 261.92L445.57 260.64L446 260.52L446.43 257.88L446.87 257.82L447.3 256.79L447.75 253.38L448.2 251.8L448.6 249.72L449 248.31L449.35 244.83L449.7 243.16L450.05 240.16L450.4 235.49L450.8 231.04L451.2 223.33L451.8 217.34L452.3 215.78L452.8 213.1L453.3 210.87L453.8 209.05L454.25 207.44L454.7 204.64L455.05 207.9L455.4 210.39L455.85 212.78L456.3 218.37L456.8 223.55L457.3 229.08L457.7 235.92L458.05 238.99L458.4 242.36L458.75 242.85L459.1 246.5L459.7 251.82L460.3 254.88L460.7 255.7L461.1 256.51L461.55 258.49L462 259.15L462.43 260.28L462.87 260.81L463.3 261L463.73 261.99L464.17 261.97L464.6 262.52L465.03 263.14L465.47 262.73L465.9 262.89L466.33 263.51L466.77 263.59L467.2 264.23L467.67 263.74L468.13 263.96L468.6 263.77L469.07 264.23L469.53 264.21L470 264.43L470.44 264.69L470.89 264.03L471.33 264.84L471.78 264.58L472.22 264.64L472.67 264.38L473.11 264.39L473.56 264.22L474 264.18L474.45 264L474.9 264.05L475.35 264.01L475.8 264.03L476.25 264.52L476.7 264.4L477.15 264.23L477.6 263.63L478.05 262.71L478.5 261.9L478.9 260.96L479.3 259.4L479.7 259.07L480.1 258.89L480.5 257.08L480.85 258.21L481.2 259.74L481.55 260.07L481.9 261.64L482.3 261.78L482.7 261.9L483.15 262.97L483.6 263.14L484.05 263.61L484.5 263.43L484.95 262.84L485.4 263.01L485.8 262.69L486.2 263.38L486.6 263.56L487.07 263.94L487.53 265.08L488 264.95L488.44 265.66L488.89 265.42L489.33 265.57L489.78 265.14L490.22 265.81L490.67 265.77L491.11 265.32L491.56 265.42L492 265.44L492.45 265.7L492.89 265.41L493.34 265.91L493.79 265.71L494.23 265.86L494.68 265.55L495.13 265.83L495.58 265.69L496.02 265.83L496.47 265.67L496.92 266.08L497.36 265.98L497.81 265.98L498.26 265.64L498.7 265.54L499.15 265.52L499.6 265.51L500.04 266.09L500.49 265.62L500.94 266.03L501.39 265.6L501.83 265.87L502.28 265.62L502.73 265.66L503.17 265.97L503.62 265.87L504.07 266.11L504.51 265.63L504.96 265.66L505.41 265.52L505.86 265.63L506.3 266.15L506.75 265.87L507.2 265.82L507.64 265.73L508.09 266.02L508.54 265.97L508.98 265.62L509.43 265.55L509.88 265.64L510.32 266.08L510.77 266.02L511.22 265.69L511.67 265.69L512.11 265.75L512.56 266L513.01 266.05L513.45 265.71L513.9 265.89L513.9 266.4Z" fill="#050505" stroke="#050505" stroke-width="0.4" stroke-linejoin="round"/>
<rect x="437.3" y="182.7" width="76.6" height="83.7" fill="none" stroke="#2a2a2a" stroke-width="1.05"/>
<path d="M437.3 266.4L437.3 269.7M443.06 266.4L443.06 268.2M446.44 266.4L446.44 268.2M448.83 266.4L448.83 268.2M450.69 266.4L450.69 268.2M452.2 266.4L452.2 268.2M453.48 266.4L453.48 268.2M454.59 266.4L454.59 268.2M455.57 266.4L455.57 268.2M456.45 266.4L456.45 269.7M462.21 266.4L462.21 268.2M465.59 266.4L465.59 268.2M467.98 266.4L467.98 268.2M469.84 266.4L469.84 268.2M471.35 266.4L471.35 268.2M472.63 266.4L472.63 268.2M473.74 266.4L473.74 268.2M474.72 266.4L474.72 268.2M475.6 266.4L475.6 269.7M481.36 266.4L481.36 268.2M484.74 266.4L484.74 268.2M487.13 266.4L487.13 268.2M488.99 266.4L488.99 268.2M490.5 266.4L490.5 268.2M491.78 266.4L491.78 268.2M492.89 266.4L492.89 268.2M493.87 266.4L493.87 268.2M494.75 266.4L494.75 269.7M500.51 266.4L500.51 268.2M503.89 266.4L503.89 268.2M506.28 266.4L506.28 268.2M508.14 266.4L508.14 268.2M509.65 266.4L509.65 268.2M510.93 266.4L510.93 268.2M512.04 266.4L512.04 268.2M513.02 266.4L513.02 268.2M513.9 266.4L513.9 269.7M437.3 266.4L434 266.4M437.3 265L435.8 265M437.3 263.61L435.8 263.61M437.3 262.21L435.8 262.21M437.3 260.82L435.8 260.82M437.3 259.42L435.8 259.42M437.3 258.03L435.8 258.03M437.3 256.63L435.8 256.63M437.3 255.24L435.8 255.24M437.3 253.84L435.8 253.84M437.3 252.45L434 252.45M437.3 251.05L435.8 251.05M437.3 249.66L435.8 249.66M437.3 248.26L435.8 248.26M437.3 246.87L435.8 246.87M437.3 245.47L435.8 245.47M437.3 244.08L435.8 244.08M437.3 242.68L435.8 242.68M437.3 241.29L435.8 241.29M437.3 239.89L435.8 239.89M437.3 238.5L434 238.5M437.3 237.1L435.8 237.1M437.3 235.71L435.8 235.71M437.3 234.31L435.8 234.31M437.3 232.92L435.8 232.92M437.3 231.52L435.8 231.52M437.3 230.13L435.8 230.13M437.3 228.73L435.8 228.73M437.3 227.34L435.8 227.34M437.3 225.94L435.8 225.94M437.3 224.55L434 224.55M437.3 223.15L435.8 223.15M437.3 221.76L435.8 221.76M437.3 220.36L435.8 220.36M437.3 218.97L435.8 218.97M437.3 217.57L435.8 217.57M437.3 216.18L435.8 216.18M437.3 214.78L435.8 214.78M437.3 213.39L435.8 213.39M437.3 211.99L435.8 211.99M437.3 210.6L434 210.6M437.3 209.2L435.8 209.2M437.3 207.81L435.8 207.81M437.3 206.41L435.8 206.41M437.3 205.02L435.8 205.02M437.3 203.62L435.8 203.62M437.3 202.23L435.8 202.23M437.3 200.83L435.8 200.83M437.3 199.44L435.8 199.44M437.3 198.04L435.8 198.04M437.3 196.65L434 196.65M437.3 195.25L435.8 195.25M437.3 193.86L435.8 193.86M437.3 192.46L435.8 192.46M437.3 191.07L435.8 191.07M437.3 189.67L435.8 189.67M437.3 188.28L435.8 188.28M437.3 186.88L435.8 186.88M437.3 185.49L435.8 185.49M437.3 184.09L435.8 184.09M437.3 182.7L434 182.7" stroke="#111" stroke-width="0.85" fill="none"/>
<text font-size="6.6" text-anchor="end" transform="translate(437.9 277.7) scale(0.78 1)">10</text>
<text x="438.2" y="274.1" font-size="5.6">0</text>
<text font-size="6.6" text-anchor="end" transform="translate(457.05 277.7) scale(0.78 1)">10</text>
<text x="457.35" y="274.1" font-size="5.6">1</text>
<text font-size="6.6" text-anchor="end" transform="translate(477.4 277.7) scale(0.78 1)">10</text>
<text x="477.7" y="274.1" font-size="5.6">2</text>
<text font-size="6.6" text-anchor="end" transform="translate(496.25 277.7) scale(0.78 1)">10</text>
<text x="496.55" y="274.1" font-size="5.6">3</text>
<text font-size="6.6" text-anchor="end" transform="translate(513.8 277.7) scale(0.78 1)">10</text>
<text x="514.1" y="274.1" font-size="5.6">4</text>
<text x="474.7" y="284.5" font-size="6.4" text-anchor="middle">7-AAD</text>
<text x="431.5" y="265.4" font-size="6.5" text-anchor="middle" transform="rotate(-90 431.5 265.4)">0</text>
<text x="431.5" y="251.45" font-size="6.5" text-anchor="middle" transform="rotate(-90 431.5 251.45)">20</text>
<text x="431.5" y="237.5" font-size="6.5" text-anchor="middle" transform="rotate(-90 431.5 237.5)">40</text>
<text x="431.5" y="223.55" font-size="6.5" text-anchor="middle" transform="rotate(-90 431.5 223.55)">60</text>
<text x="431.5" y="209.6" font-size="6.5" text-anchor="middle" transform="rotate(-90 431.5 209.6)">80</text>
<text x="431.5" y="195.65" font-size="6.5" text-anchor="middle" transform="rotate(-90 431.5 195.65)">100</text>
<text x="431.5" y="181.7" font-size="6.5" text-anchor="middle" transform="rotate(-90 431.5 181.7)">120</text>
</g></svg></body></html>
